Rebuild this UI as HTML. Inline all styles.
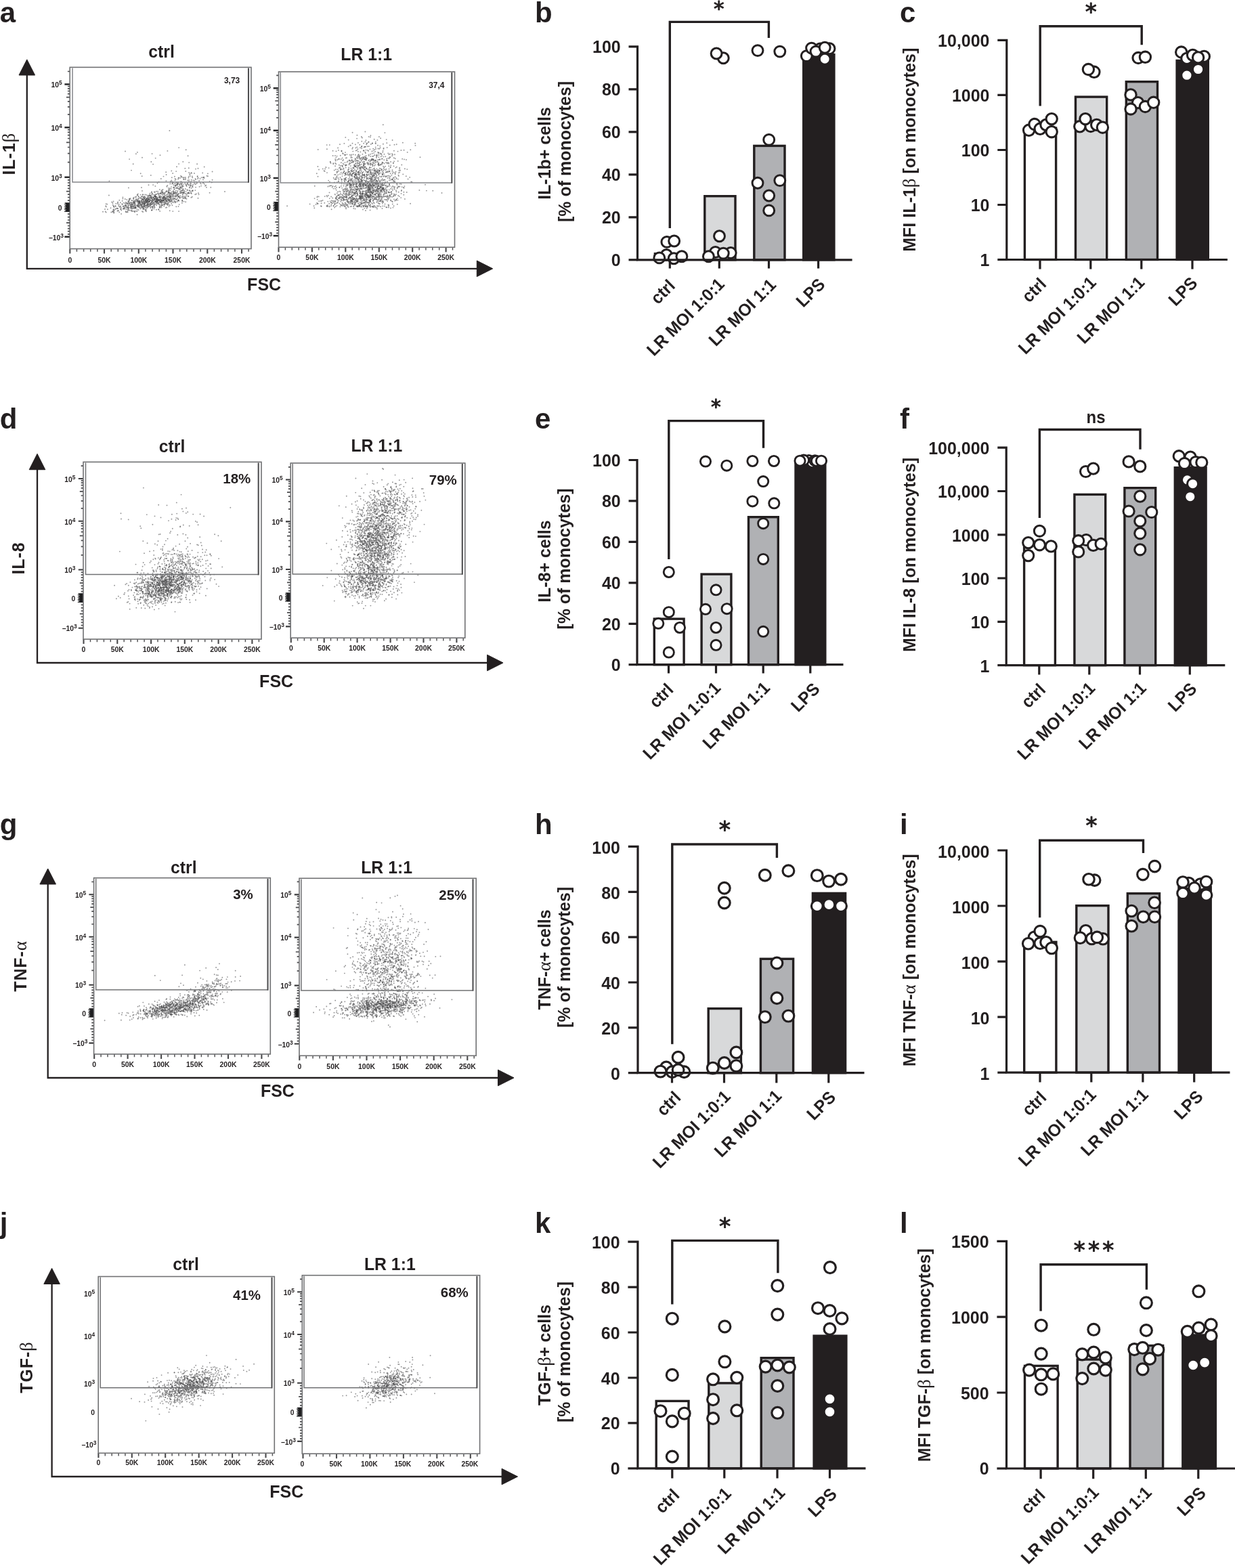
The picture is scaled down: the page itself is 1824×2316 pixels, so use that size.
<!DOCTYPE html>
<html lang="en">
<head>
<meta charset="utf-8">
<title>Figure</title>
<style>
html,body{margin:0;padding:0;background:#fff;}
body{width:1824px;height:2316px;overflow:hidden;}
svg{display:block;}
svg text{font-family:"Liberation Sans",sans-serif;font-weight:bold;fill:#231f20;stroke:none;}
svg text.s{font-family:"DejaVu Sans",sans-serif;font-weight:normal;stroke:#231f20;stroke-width:1px;stroke-linejoin:round;}
svg text.t{font-weight:bold;stroke:none;}
svg text .g{font-family:"Liberation Serif",serif;font-weight:normal;font-size:108%;}
svg text.p{stroke:none;}
</style>
</head>
<body>
<svg xmlns="http://www.w3.org/2000/svg" width="1824" height="2316" viewBox="0 0 1824 2316" stroke="#231f20" fill="#231f20">
<rect x="0" y="0" width="1824" height="2316" fill="#fff" stroke="none"/>
<g stroke-linecap="butt">
<path d="M279.2 273.7h0M192.8 299.3h0M230.1 297.3h0M262.1 283.7h0M173.0 307.7h0M236.9 285.0h0M251.7 293.1h0M173.8 308.1h0M257.7 296.6h0M189.9 277.4h0M250.1 279.4h0M182.5 304.6h0M233.4 285.2h0M269.5 287.9h0M288.3 272.3h0M251.5 291.6h0M289.2 264.9h0M245.2 254.2h0M204.8 301.9h0M225.3 307.7h0M252.2 289.0h0M197.8 297.2h0M247.6 303.1h0M238.6 299.9h0M215.5 298.9h0M218.0 301.6h0M168.3 313.7h0M235.3 294.7h0M211.4 308.0h0M228.0 302.4h0M224.2 298.1h0M217.4 293.2h0M194.0 311.5h0M250.0 287.6h0M258.1 290.4h0M270.2 286.8h0M219.5 298.4h0M223.9 291.1h0M210.6 295.4h0M232.6 292.1h0M284.5 275.1h0M205.2 305.5h0M284.5 282.2h0M266.4 285.6h0M214.9 299.4h0M241.4 287.1h0M220.7 303.2h0M202.5 295.8h0M250.8 278.1h0M267.8 285.1h0M281.7 273.9h0M180.7 296.7h0M246.5 302.0h0M248.2 290.9h0M287.0 256.0h0M192.2 293.3h0M235.2 295.4h0M186.6 304.6h0M270.8 284.8h0M251.4 281.5h0M258.8 290.5h0M215.7 309.7h0M267.7 282.0h0M268.6 291.3h0M202.8 288.0h0M196.9 293.0h0M224.5 296.7h0M232.2 296.9h0M221.7 289.9h0M239.9 302.5h0M279.8 277.4h0M190.8 300.0h0M202.8 297.7h0M242.1 289.9h0M253.1 300.8h0M223.2 301.8h0M209.5 303.9h0M194.8 296.0h0M184.8 302.7h0M211.6 298.5h0M260.4 269.2h0M223.6 284.8h0M252.5 285.5h0M241.8 292.5h0M250.0 285.6h0M254.1 295.1h0M222.8 258.9h0M247.3 273.9h0M224.9 286.6h0M200.6 306.4h0M250.4 193.0h0M222.2 299.7h0M252.8 290.5h0M218.5 305.5h0M229.5 289.6h0M282.5 285.1h0M192.2 293.0h0M236.2 306.5h0M202.8 305.1h0M246.1 297.2h0M241.0 285.2h0M204.8 300.2h0M255.0 293.4h0M284.2 262.3h0M186.4 309.0h0M262.5 286.4h0M300.1 261.7h0M275.6 275.0h0M227.9 283.4h0M270.4 272.3h0M289.9 286.5h0M220.8 303.5h0M194.0 303.1h0M236.4 294.2h0M243.0 298.1h0M233.1 282.7h0M269.5 290.7h0M282.6 277.7h0M199.2 299.5h0M264.8 289.6h0M244.3 294.0h0M248.9 283.7h0M228.2 302.8h0M228.6 298.2h0M204.2 294.1h0M241.7 290.3h0M228.3 293.6h0M231.1 291.9h0M216.7 297.6h0M267.3 270.5h0M240.5 280.0h0M309.6 284.8h0M262.5 287.3h0M230.6 286.8h0M248.4 299.7h0M209.7 260.3h0M264.7 302.1h0M193.4 305.1h0M268.5 261.6h0M198.9 313.1h0M213.5 305.0h0M277.6 230.3h0M182.4 299.6h0M277.0 285.6h0M152.0 312.8h0M230.4 298.0h0M218.8 297.5h0M210.0 302.7h0M166.3 312.4h0M235.6 306.8h0M282.7 286.1h0M249.4 289.4h0M236.4 291.6h0M236.9 298.8h0M227.4 290.3h0M200.1 297.4h0M228.9 288.4h0M217.1 303.5h0M219.1 305.0h0M205.8 298.5h0M204.9 297.3h0M168.2 309.2h0M226.6 292.0h0M201.0 295.5h0M217.9 299.6h0M266.1 276.7h0M241.9 298.1h0M249.7 296.4h0M265.8 278.1h0M207.9 302.1h0M203.6 296.9h0M237.6 296.5h0M219.8 294.3h0M253.3 266.4h0M287.4 266.6h0M274.9 273.0h0M279.4 285.4h0M274.3 253.0h0M274.7 221.3h0M250.0 289.1h0M199.4 311.4h0M225.1 294.2h0M210.3 298.6h0M231.6 294.1h0M174.1 298.5h0M281.9 268.8h0M213.5 301.2h0M219.5 304.5h0M215.7 295.7h0M242.3 295.3h0M194.3 299.4h0M260.3 305.2h0M216.9 295.2h0M230.8 282.7h0M218.4 288.9h0M219.9 297.5h0M227.3 293.1h0M231.3 299.1h0M228.4 289.6h0M258.6 263.9h0M231.4 295.2h0M226.8 296.2h0M251.0 303.4h0M300.0 265.4h0M263.0 296.1h0M273.1 286.1h0M197.4 305.5h0M188.2 312.3h0M212.4 294.9h0M301.7 246.5h0M190.4 299.3h0M264.6 280.0h0M192.9 299.0h0M215.0 306.5h0M225.0 296.4h0M278.4 262.8h0M195.5 312.0h0M215.3 295.5h0M209.7 305.0h0M295.5 263.9h0M189.5 297.5h0M215.6 294.0h0M216.7 295.1h0M227.9 304.3h0M224.2 305.2h0M185.2 303.4h0M223.6 299.1h0M285.4 266.4h0M221.2 288.3h0M306.9 256.4h0M238.1 299.1h0M206.3 299.5h0M216.6 295.8h0M229.7 290.9h0M240.7 295.9h0M289.0 249.6h0M246.4 294.4h0M258.2 293.1h0M236.5 297.1h0M299.2 255.4h0M264.3 262.9h0M231.7 291.0h0M255.2 256.0h0M254.2 271.6h0M257.3 279.1h0M206.5 291.7h0M245.3 282.7h0M254.6 288.5h0M254.9 286.4h0M225.3 302.1h0M190.1 310.8h0M221.3 303.5h0M214.8 296.9h0M257.8 276.9h0M234.6 309.8h0M257.2 285.4h0M236.4 298.6h0M250.7 311.3h0M273.3 248.7h0M222.4 305.8h0M222.4 307.3h0M236.1 299.2h0M160.9 288.5h0M278.4 284.6h0M297.6 262.2h0M173.4 311.6h0M241.1 299.0h0M277.5 269.7h0M207.1 300.4h0M213.5 302.1h0M188.1 299.8h0M204.1 294.2h0M222.4 300.0h0M167.7 304.4h0M267.3 271.2h0M208.9 296.7h0M242.3 296.1h0M212.3 290.8h0M192.4 303.2h0M224.6 227.1h0M194.8 308.8h0M188.3 306.1h0M239.1 297.4h0M223.8 301.6h0M232.5 298.3h0M244.9 293.4h0M282.3 255.1h0M274.0 292.4h0M214.2 294.9h0M237.1 294.8h0M197.0 304.6h0M195.7 301.6h0M239.5 288.1h0M210.7 287.5h0M253.3 252.4h0M255.4 270.7h0M221.3 285.8h0M210.5 307.3h0M196.8 300.4h0M250.1 290.3h0M231.1 303.3h0M200.3 303.9h0M292.5 248.8h0M278.8 260.8h0M231.0 309.7h0" stroke="#38383a" stroke-opacity="0.52" stroke-width="1.9" stroke-linecap="round" fill="none"/>
<path d="M269.1 281.3h0M250.8 298.2h0M201.0 291.1h0M256.4 273.2h0M252.4 289.9h0M204.9 303.4h0M210.0 281.9h0M230.8 287.3h0M244.6 294.4h0M229.2 301.3h0M223.3 239.0h0M256.0 282.6h0M238.8 299.6h0M242.5 300.5h0M264.1 312.1h0M275.0 289.5h0M259.2 284.4h0M207.1 303.2h0M229.2 301.3h0M273.6 265.4h0M221.0 294.5h0M190.2 307.5h0M194.8 302.0h0M245.4 267.3h0M228.1 300.8h0M225.1 305.5h0M229.7 233.6h0M280.2 280.9h0M242.6 291.3h0M194.1 306.0h0M260.1 294.8h0M208.9 290.3h0M245.1 301.1h0M202.4 309.3h0M293.0 285.2h0M205.1 297.5h0M276.5 271.6h0M209.9 305.4h0M304.2 273.7h0M196.7 242.3h0M256.0 281.9h0M190.5 295.6h0M213.1 299.9h0M239.6 295.6h0M240.5 295.9h0M233.0 292.8h0M200.9 227.2h0M243.1 285.1h0M267.8 271.7h0M201.2 290.5h0M234.8 290.8h0M224.0 299.0h0M197.7 307.4h0M230.6 298.6h0M217.6 296.1h0M210.1 295.1h0M242.3 296.5h0M175.0 311.3h0M213.1 304.2h0M206.8 302.3h0M254.9 290.5h0M231.7 299.3h0M256.3 276.8h0M247.6 295.8h0M220.5 301.2h0M167.3 309.7h0M231.1 297.4h0M194.5 311.0h0M207.7 256.2h0M199.6 308.0h0M244.5 297.8h0M234.2 286.7h0M277.2 266.4h0M158.4 301.6h0M295.8 270.2h0M291.6 261.0h0M216.0 303.5h0M259.5 298.1h0M236.2 311.9h0M235.6 286.1h0M263.1 264.5h0M226.6 295.3h0M244.8 296.8h0M183.8 308.7h0M178.7 309.1h0M242.7 301.1h0M220.3 288.5h0M247.6 287.3h0M224.2 310.2h0M276.3 280.5h0M240.4 292.6h0M239.1 284.1h0M247.8 294.4h0M246.3 290.1h0M226.1 300.3h0M195.7 302.3h0M177.8 299.3h0M222.7 301.8h0M194.6 301.7h0M233.3 294.8h0M236.3 301.6h0M218.6 291.3h0M231.9 297.6h0M196.5 307.6h0M249.0 293.6h0M204.3 289.6h0M235.2 296.2h0M263.6 262.4h0M288.3 287.2h0M167.2 311.7h0M277.3 285.0h0M283.0 255.7h0M255.2 290.6h0M244.7 292.1h0M205.0 299.6h0M181.6 304.8h0M280.6 256.7h0M281.6 274.1h0M244.3 300.2h0M199.2 300.1h0M271.8 262.2h0M177.6 306.5h0M165.2 298.5h0M264.1 290.2h0M262.1 292.8h0M234.1 309.2h0M227.6 308.4h0M268.9 274.3h0M237.3 294.9h0M273.2 269.8h0M262.5 272.0h0M182.6 308.0h0M239.1 296.8h0M233.8 296.2h0M193.3 307.4h0M236.3 297.8h0M239.6 291.7h0M237.5 290.8h0M267.1 268.3h0M213.6 299.4h0M249.6 280.9h0M268.0 268.5h0M221.2 296.6h0M213.6 298.2h0M218.5 295.2h0M253.3 297.7h0M239.2 303.3h0M185.9 313.3h0M228.3 293.7h0M269.1 276.1h0M250.2 295.3h0M199.4 305.9h0M252.2 293.6h0M211.6 297.3h0M170.5 309.0h0M211.9 300.2h0M193.2 305.6h0M246.3 275.3h0M216.4 293.4h0M220.7 291.7h0M246.2 297.7h0M200.0 307.1h0M277.7 289.7h0M257.4 279.8h0M197.5 293.7h0M189.8 301.4h0M240.1 295.2h0M199.1 299.6h0M191.5 301.0h0M266.5 289.4h0M253.6 287.3h0M247.0 282.6h0M206.5 300.6h0M262.7 270.8h0M259.8 290.6h0M212.5 293.8h0M211.1 305.4h0M271.7 284.9h0M251.9 267.9h0M218.7 302.5h0M221.8 288.4h0M205.9 302.8h0M233.1 294.6h0M217.4 297.7h0M305.5 259.8h0M229.9 297.8h0M223.9 290.2h0M266.2 284.7h0M193.9 307.6h0M218.1 303.0h0M260.4 272.8h0M213.7 298.2h0M222.4 291.2h0M236.4 306.3h0M244.8 294.0h0M219.5 294.0h0M246.5 275.7h0M259.2 294.1h0M194.4 306.4h0M252.5 294.8h0M228.6 290.0h0M180.8 301.9h0M202.7 303.3h0M229.3 292.2h0M265.3 272.4h0M264.2 290.9h0M213.9 293.0h0M301.8 271.8h0M224.1 283.3h0M214.9 291.6h0M212.5 292.2h0M263.5 304.9h0M232.5 293.4h0M230.6 290.4h0M289.7 271.4h0M263.2 275.5h0M166.7 302.7h0M238.0 295.7h0M217.6 301.3h0M213.8 301.8h0M227.1 299.1h0M311.3 276.7h0M158.9 309.3h0M242.5 295.2h0M199.7 291.1h0M279.2 240.1h0M259.1 274.2h0M269.3 296.5h0M184.6 306.7h0M257.2 297.5h0M212.9 301.0h0M192.0 310.5h0M299.8 270.3h0M249.4 293.8h0M222.1 303.0h0M233.1 286.3h0M271.4 292.6h0M262.7 289.0h0M234.1 300.5h0M256.5 284.8h0M282.4 291.8h0M263.9 295.7h0M255.3 312.1h0M296.9 271.6h0M248.7 299.4h0M263.8 278.5h0M280.3 258.1h0M163.5 307.3h0M261.3 277.2h0M247.5 297.6h0M227.7 301.0h0M221.5 294.2h0M187.3 294.9h0M246.2 281.9h0M209.3 295.6h0M209.4 302.3h0M203.4 302.7h0M244.4 297.1h0M253.8 262.2h0M202.9 224.9h0M203.1 296.8h0M216.1 304.8h0M294.6 275.7h0M204.4 293.2h0M232.6 293.9h0M240.5 293.2h0M193.5 304.9h0M292.5 292.8h0M236.5 292.6h0M213.4 297.7h0M231.3 294.3h0M243.3 302.3h0M230.5 296.3h0M239.8 292.5h0M226.8 295.2h0M216.9 301.7h0M218.2 300.7h0M283.8 290.7h0M209.7 293.1h0M170.5 304.0h0M219.8 293.1h0M234.6 291.6h0M269.0 284.0h0M261.3 287.5h0M257.8 293.4h0M219.8 297.8h0M273.8 279.0h0M219.4 294.2h0M288.4 281.1h0M250.9 294.7h0M237.5 298.4h0M245.3 292.6h0M235.3 302.3h0M155.0 309.0h0M254.0 268.2h0M171.6 308.0h0M230.6 301.4h0M208.1 302.8h0M176.3 295.7h0M248.9 277.9h0M242.1 301.9h0M265.4 278.8h0M156.7 305.4h0M220.8 297.3h0M219.1 294.2h0" stroke="#38383a" stroke-opacity="0.52" stroke-width="1.9" stroke-linecap="round" fill="none"/>
<path d="M251.7 286.4h0M213.3 293.0h0M242.7 293.7h0M204.4 299.6h0M241.7 295.6h0M244.3 292.6h0M230.3 290.5h0M235.8 290.5h0M260.0 278.0h0M279.1 268.0h0M278.8 248.3h0M235.8 279.9h0M228.6 306.2h0M222.1 289.1h0M199.1 312.6h0M168.2 314.5h0M261.0 270.1h0M221.8 296.2h0M262.7 268.9h0M282.7 265.8h0M203.2 303.7h0M260.1 288.5h0M258.2 271.2h0M208.3 291.6h0M209.0 293.7h0M262.4 272.3h0M257.8 284.6h0M211.2 313.0h0M210.1 289.9h0M217.1 297.5h0M231.2 293.4h0M301.4 261.8h0M193.5 302.2h0M214.9 297.7h0M219.3 293.5h0M232.5 297.8h0M199.1 302.5h0M230.4 292.3h0M212.8 305.1h0M216.0 312.3h0M254.7 298.9h0M281.0 260.1h0M249.7 295.3h0M198.7 297.7h0M221.2 294.7h0M232.0 296.2h0M249.0 280.8h0M255.5 269.3h0M210.0 312.3h0M173.8 301.1h0M232.6 296.4h0M248.7 294.7h0M232.9 294.9h0M205.3 305.3h0M197.4 298.1h0M210.3 301.3h0M270.4 262.5h0M200.2 306.7h0M224.8 293.2h0M196.0 305.6h0M189.2 303.4h0M263.5 286.6h0M281.3 270.0h0M223.5 296.0h0M266.4 280.4h0M213.8 290.9h0M276.0 287.5h0M188.0 300.6h0M184.8 294.0h0M206.5 298.2h0M241.2 292.0h0M195.1 296.5h0M198.4 300.2h0M256.1 292.5h0M212.0 306.1h0M243.0 292.2h0M269.4 270.1h0M203.7 286.5h0M236.2 290.5h0M281.4 274.7h0M232.9 298.3h0M204.7 290.8h0M263.0 289.9h0M175.7 301.9h0M246.2 306.4h0M197.3 304.0h0M224.8 294.4h0M235.1 295.7h0M264.1 242.1h0M292.7 262.6h0M186.0 301.1h0M205.4 297.0h0M173.9 299.7h0M269.3 297.2h0M258.5 266.6h0M182.9 304.5h0M251.0 291.5h0M244.6 295.4h0M191.5 293.9h0M234.6 268.8h0M208.1 305.2h0M213.7 299.5h0M273.9 262.1h0M262.8 278.2h0M230.6 295.0h0M183.2 306.8h0M275.5 293.7h0M258.6 271.2h0M190.6 299.5h0M222.4 295.5h0M215.0 300.1h0M223.5 293.0h0M254.1 297.3h0M204.4 299.4h0M226.9 292.3h0M276.6 270.6h0M239.1 280.9h0M246.6 291.6h0M221.2 305.1h0M291.1 242.3h0M270.3 293.0h0M217.0 299.2h0M201.6 312.1h0M268.1 284.6h0M256.1 284.2h0M207.6 308.4h0M161.4 267.5h0M250.3 291.7h0M244.0 284.6h0M200.9 294.7h0M253.3 295.8h0M247.9 293.9h0M181.4 293.5h0M249.6 305.1h0M245.0 306.8h0M266.5 277.1h0M225.2 297.0h0M266.4 262.7h0M332.0 283.0h0M218.2 291.6h0M247.6 300.8h0M309.6 267.9h0M222.3 292.5h0M237.2 285.4h0M260.7 294.5h0M203.7 299.8h0M203.0 295.2h0M222.0 291.7h0M267.4 276.7h0M260.3 285.6h0M212.0 308.2h0M273.3 293.2h0M188.7 310.1h0M280.2 276.5h0M224.0 291.9h0M303.0 274.5h0M213.0 298.8h0M201.1 293.6h0M208.1 296.9h0M260.2 253.1h0M224.7 294.9h0M284.5 276.6h0M253.2 292.5h0M206.2 300.0h0M214.2 296.9h0M212.9 306.0h0M168.5 306.0h0M200.2 301.9h0M280.0 282.0h0M213.0 303.5h0M227.8 294.3h0M222.4 303.2h0M267.9 272.4h0M270.0 280.5h0M215.4 296.2h0M313.6 265.7h0M226.1 273.1h0M181.9 308.8h0M239.3 284.3h0M289.1 276.6h0M232.1 297.4h0M202.5 311.7h0M209.9 299.7h0M259.0 274.2h0M259.0 286.4h0M286.9 268.6h0M256.8 299.1h0M242.6 292.3h0M233.8 299.3h0M210.8 294.4h0M186.6 300.2h0M235.8 291.0h0M238.0 285.5h0M249.9 288.2h0M238.5 306.1h0M250.6 285.8h0M220.8 297.2h0M233.5 295.0h0M265.9 291.9h0M215.9 297.7h0M173.9 308.0h0M279.0 285.6h0M186.5 303.3h0M236.3 291.8h0M212.5 301.7h0M197.8 296.0h0M231.5 300.3h0M223.0 302.0h0M239.4 303.4h0M255.7 288.5h0M261.4 273.8h0M246.5 290.9h0M168.8 311.0h0M265.9 283.0h0M274.2 291.8h0M272.0 284.2h0M241.3 295.9h0M237.8 295.5h0M219.1 295.9h0M216.3 295.5h0M266.4 276.2h0M240.2 297.1h0M198.1 299.1h0M279.3 268.1h0M270.2 285.5h0M248.9 296.8h0M292.0 263.9h0M220.5 301.8h0M180.2 301.2h0M236.1 297.9h0M166.4 300.0h0M200.0 296.6h0M262.9 270.8h0M212.5 296.9h0M257.0 294.1h0M190.7 294.0h0M195.2 304.5h0M244.1 291.5h0M225.0 291.5h0M226.1 298.3h0M205.3 297.0h0M226.8 287.7h0M245.7 296.3h0M281.8 284.9h0M256.5 286.3h0M270.4 278.7h0M297.1 274.6h0M187.6 306.4h0M260.8 289.9h0M267.1 283.1h0M262.4 281.9h0M283.9 281.7h0M202.2 297.8h0M217.8 299.7h0M248.7 282.8h0M252.2 290.3h0M195.2 305.1h0M224.7 310.1h0M209.2 297.5h0M197.7 299.3h0M259.9 281.4h0M167.5 297.5h0M254.4 303.3h0M214.4 303.9h0M271.5 264.5h0M261.3 277.7h0M285.1 272.8h0M301.6 263.1h0M274.0 262.1h0M233.6 298.0h0M259.6 264.9h0M247.3 289.8h0M205.9 307.0h0M207.6 287.6h0M214.4 303.7h0M243.8 285.0h0M225.8 295.0h0M166.4 312.9h0M218.0 296.7h0M175.3 304.0h0M168.1 311.8h0M208.8 303.3h0M274.0 263.9h0M238.5 306.5h0M217.4 293.4h0M279.1 268.3h0M214.9 300.6h0M279.2 255.0h0M241.4 290.3h0M220.2 297.7h0M177.9 308.7h0M291.2 270.3h0M253.0 276.1h0M205.9 305.4h0M228.9 290.2h0M218.7 290.9h0M248.7 284.8h0M243.0 290.2h0M199.2 299.7h0M251.3 298.1h0M202.9 288.1h0M258.4 285.7h0M179.5 307.1h0M225.3 306.4h0M256.1 294.7h0" stroke="#38383a" stroke-opacity="0.52" stroke-width="1.9" stroke-linecap="round" fill="none"/>
<path d="M215.7 307.1h0M212.1 295.3h0M241.5 260.6h0M261.0 246.2h0M265.8 291.6h0M179.1 315.9h0M204.6 310.0h0M193.1 305.0h0M219.1 289.3h0M232.2 293.7h0M288.5 264.1h0M221.9 300.5h0M195.3 304.2h0M250.6 291.2h0M156.7 313.6h0M242.2 304.5h0M254.0 283.3h0M256.4 276.8h0M209.0 277.0h0M225.4 300.1h0M211.9 304.2h0M190.0 303.8h0M262.9 295.5h0M265.5 292.8h0M213.4 290.3h0M283.9 260.4h0M273.0 289.9h0M198.4 305.7h0M211.5 309.2h0M214.2 309.5h0M258.6 289.0h0M240.2 293.2h0M189.6 309.3h0M198.8 303.6h0M293.6 287.2h0M236.7 304.0h0M186.5 306.4h0M228.5 296.2h0M245.7 296.4h0M280.7 272.0h0M218.5 294.2h0M217.8 296.3h0M217.7 297.8h0M274.6 286.2h0M219.5 299.9h0M230.4 297.5h0M270.6 290.0h0M185.5 303.9h0M229.4 295.0h0M188.6 313.4h0M210.0 232.7h0M239.4 282.1h0M198.0 302.0h0M185.9 304.3h0M200.8 307.1h0M208.1 306.9h0M193.5 305.5h0M156.3 304.2h0M205.2 304.1h0M247.6 301.8h0M184.4 300.2h0M226.0 300.0h0M184.7 304.1h0M210.5 298.2h0M271.2 280.7h0M264.0 286.3h0M246.2 287.7h0M300.5 269.7h0M224.1 288.0h0M213.0 300.4h0M261.8 288.5h0M218.9 294.5h0M197.2 298.1h0M312.8 269.5h0M240.8 292.6h0M215.4 303.7h0M212.4 302.2h0M195.2 299.6h0M209.8 300.5h0M181.4 291.4h0M232.2 295.3h0M204.0 304.4h0M251.3 271.5h0M207.9 302.4h0M189.0 305.4h0M197.4 299.2h0M268.9 299.7h0M269.2 295.7h0M263.7 290.9h0M268.2 260.7h0M236.5 289.0h0M264.2 218.1h0M224.3 297.5h0M259.6 274.9h0M242.1 285.5h0M218.5 303.1h0M256.9 283.0h0M229.3 294.6h0M230.4 293.4h0M233.9 295.2h0M190.6 306.5h0M259.3 297.9h0M244.4 294.3h0M239.6 299.3h0M235.6 304.7h0M229.4 274.9h0M265.7 274.2h0M270.3 238.9h0M248.3 285.2h0M200.2 305.4h0M252.1 287.9h0M194.0 251.6h0M189.4 297.5h0M245.5 282.9h0M264.2 296.7h0M289.9 268.7h0M251.8 269.2h0M187.1 313.4h0M238.1 282.5h0M261.9 297.7h0M251.2 284.7h0M232.5 270.5h0M277.4 280.9h0M189.1 307.3h0M250.0 295.9h0M249.8 284.0h0M217.8 302.8h0M259.3 283.5h0M281.9 282.8h0M284.8 281.3h0M268.8 274.8h0M193.5 300.4h0M270.2 283.7h0M185.6 312.1h0M278.9 284.5h0M252.6 278.8h0M246.8 292.6h0M206.5 298.9h0M221.5 296.6h0M242.9 287.4h0M221.7 289.0h0M204.1 301.6h0M228.7 283.9h0M174.2 311.1h0M227.1 303.2h0M282.4 268.2h0M219.5 273.3h0M211.6 300.3h0M226.7 291.4h0M211.2 290.9h0M229.5 297.4h0M224.0 310.7h0M229.5 290.0h0M215.4 309.9h0M218.2 303.8h0M204.5 298.1h0M279.1 265.9h0M245.6 258.0h0M267.0 260.0h0M251.9 296.2h0M210.0 305.7h0M206.5 297.3h0M185.0 223.5h0M232.7 300.8h0M259.2 299.2h0M247.4 222.9h0M234.8 294.4h0M164.3 313.5h0M216.7 298.5h0M195.6 307.4h0M233.8 301.4h0M272.2 281.9h0M271.6 297.6h0M250.6 290.7h0M261.5 272.2h0M234.5 288.5h0M274.2 298.2h0M240.1 296.8h0M211.3 287.5h0M222.7 300.2h0M197.3 311.9h0M228.6 295.4h0M238.7 302.0h0M241.9 291.8h0M212.0 292.6h0M251.4 297.6h0M242.3 302.2h0M191.8 294.6h0M195.3 302.1h0M233.5 296.0h0M238.9 290.6h0M257.9 260.7h0M313.6 253.5h0M278.2 272.4h0M244.3 288.8h0M224.8 300.7h0M270.9 274.9h0M171.3 300.8h0M214.9 296.3h0M216.4 287.9h0M274.6 283.1h0M193.0 307.3h0M240.1 284.6h0M226.9 302.9h0M291.7 260.1h0M236.8 298.2h0M272.1 283.0h0M278.4 290.0h0M256.2 286.5h0M207.0 293.2h0M246.0 300.1h0M205.5 296.2h0M277.4 272.5h0M210.3 294.2h0M238.2 297.5h0M237.0 286.2h0M190.9 296.8h0M250.8 296.6h0M215.6 295.2h0M234.2 300.0h0M237.8 264.0h0M215.0 294.7h0M268.5 277.6h0M176.5 305.2h0M223.4 293.0h0M177.8 305.1h0M216.9 293.1h0M275.1 273.7h0M176.2 313.5h0M269.2 281.1h0M272.2 291.6h0M227.5 306.0h0M248.7 290.7h0M258.5 274.4h0M240.5 294.9h0M188.4 301.2h0M215.8 298.7h0M238.2 296.3h0M271.2 265.3h0M273.4 271.5h0M155.7 312.5h0M229.0 287.8h0M217.8 305.9h0M304.9 276.7h0M156.7 301.3h0M218.9 305.3h0M287.0 270.8h0M178.2 304.4h0M239.5 286.5h0M307.0 260.3h0M249.5 302.5h0M240.4 283.5h0M226.1 242.6h0M284.2 274.7h0M214.3 287.5h0M179.2 310.5h0M202.2 303.5h0M225.1 285.5h0M260.7 285.0h0M242.5 293.8h0M212.7 308.2h0M238.3 304.6h0M228.6 293.7h0M253.1 285.2h0M215.0 311.2h0M191.1 235.1h0M235.7 291.1h0M219.1 302.1h0M243.3 299.2h0M235.6 295.8h0M197.5 291.8h0M294.1 267.0h0M170.8 304.9h0M200.3 307.0h0M225.9 305.1h0M299.9 262.6h0M270.5 275.0h0M217.2 307.4h0M254.8 270.2h0M256.0 289.7h0M184.6 304.6h0M192.2 302.5h0M244.8 299.8h0M183.3 307.6h0M229.0 298.5h0M207.8 299.6h0M205.6 297.4h0M228.9 288.4h0M203.9 305.4h0M188.7 308.0h0M243.2 287.5h0M208.5 298.9h0M210.5 306.3h0M168.1 304.8h0M268.1 278.1h0M220.5 298.1h0M282.3 271.6h0M198.0 307.6h0M196.8 299.3h0M202.6 317.0h0M238.0 293.7h0M236.5 229.3h0M186.0 298.7h0M251.2 291.0h0M265.3 272.0h0" stroke="#38383a" stroke-opacity="0.52" stroke-width="1.9" stroke-linecap="round" fill="none"/>
<path d="M99.9 105.5H103.2M99.9 169.1H103.2M99.9 239.6H103.2M99.9 157.9H103.2M99.9 226.7H103.2M99.9 149.9H103.2M99.9 217.5H103.2M98 143.7H103.2M98 210.4H103.2M99.9 138.7H103.2M99.9 204.5H103.2M99.9 134.5H103.2M99.9 199.6H103.2M99.9 130.8H103.2M99.9 195.3H103.2M99.9 127.5H103.2M99.9 191.6H103.2M99.9 296.1H103.2M99.9 316.1H103.2M99.9 291.5H103.2M99.9 320.6H103.2M99.9 287.1H103.2M99.9 325H103.2M98 282.7H103.2M98 329.2H103.2M99.9 278.4H103.2M99.9 333.5H103.2M99.9 274.2H103.2M99.9 337.6H103.2M99.9 270H103.2M99.9 341.7H103.2M99.9 265.9H103.2M99.9 345.8H103.2" stroke="#4a4a4c" stroke-width="1.7" fill="none"/>
<path d="M95.4 124.6H103.2M95.4 188.2H103.2M95.4 261.8H103.2M95.4 349.8H103.2" stroke="#2a2a2c" stroke-width="2.5" fill="none"/>
<path d="M95.6 299.9H103.2M97 300.8H103.2M95 301.7H103.2M97.6 302.6H103.2M95.6 303.5H103.2M97 304.4H103.2M95 305.3H103.2M97.6 306.2H103.2M95.6 307.1H103.2M97 308H103.2M95 308.9H103.2M97.6 309.8H103.2M95.6 310.7H103.2M97 311.6H103.2M95 312.5H103.2" stroke="#1f1f21" stroke-width="1.1" fill="none"/>
<path d="M113.4 367.5V371.7M123.6 367.5V371.7M133.7 367.5V371.7M143.9 367.5V371.7M164.2 367.5V371.7M174.3 367.5V371.7M184.5 367.5V371.7M194.6 367.5V371.7M214.9 367.5V371.7M225.1 367.5V371.7M235.2 367.5V371.7M245.4 367.5V371.7M265.7 367.5V371.7M275.8 367.5V371.7M286 367.5V371.7M296.1 367.5V371.7M316.4 367.5V371.7M326.6 367.5V371.7M336.7 367.5V371.7M346.9 367.5V371.7M367.1 367.5V371.7" stroke="#555557" stroke-width="1.5" fill="none"/>
<path d="M103.3 367.5V374.5M154 367.5V374.5M204.8 367.5V374.5M255.5 367.5V374.5M306.3 367.5V374.5M357 367.5V374.5" stroke="#4a4a4c" stroke-width="2.1" fill="none"/>
<path d="M107 100.5V269H367" stroke="#85868a" stroke-width="1.5" fill="none"/>
<path d="M367 100.5V269.8" stroke="#505052" stroke-width="2.1" fill="none"/>
<rect x="103.2" y="99.4" width="267.8" height="268.1" stroke="#707173" stroke-width="1.6" fill="none"/>
<text x="91.7" y="129.3" font-size="10.3" text-anchor="end" class="t">10<tspan dy="-4" font-size="8.4">5</tspan></text>
<text x="91.7" y="192.9" font-size="10.3" text-anchor="end" class="t">10<tspan dy="-4" font-size="8.4">4</tspan></text>
<text x="91.7" y="266.5" font-size="10.3" text-anchor="end" class="t">10<tspan dy="-4" font-size="8.4">3</tspan></text>
<text x="91.5" y="310.9" font-size="10.3" text-anchor="end" class="t">0</text>
<text x="93.9" y="354.5" font-size="10.3" text-anchor="end" class="t">−10<tspan dy="-4" font-size="8.4">3</tspan></text>
<text x="103.3" y="388.2" font-size="10.4" text-anchor="middle" class="t">0</text>
<text x="154" y="388.2" font-size="10.4" text-anchor="middle" class="t">50K</text>
<text x="204.8" y="388.2" font-size="10.4" text-anchor="middle" class="t">100K</text>
<text x="255.5" y="388.2" font-size="10.4" text-anchor="middle" class="t">150K</text>
<text x="306.3" y="388.2" font-size="10.4" text-anchor="middle" class="t">200K</text>
<text x="357" y="388.2" font-size="10.4" text-anchor="middle" class="t">250K</text>
<text transform="translate(238.6 84.8) scale(1 1.01)" font-size="24.8" text-anchor="middle">ctrl</text>
<text transform="translate(354.3 123) scale(1 1.03)" font-size="12" text-anchor="end" class="p">3,73</text>
<path d="M549.6 261.0h0M524.4 257.1h0M553.5 270.8h0M548.8 254.8h0M559.7 256.8h0M521.4 268.9h0M523.7 284.2h0M487.0 268.6h0M494.0 306.5h0M547.3 253.6h0M556.4 254.7h0M574.2 303.0h0M547.5 257.5h0M540.4 267.5h0M544.9 277.8h0M582.0 294.4h0M581.6 304.2h0M546.0 247.1h0M523.8 293.8h0M532.7 272.7h0M568.2 294.7h0M538.2 246.4h0M541.3 261.6h0M547.4 281.2h0M489.0 299.3h0M489.4 301.9h0M553.9 277.0h0M545.1 292.3h0M602.6 264.5h0M522.2 248.5h0M552.0 305.9h0M530.6 262.0h0M579.1 297.4h0M510.8 265.4h0M514.6 264.2h0M542.1 264.2h0M550.3 286.0h0M568.2 273.4h0M554.5 287.6h0M548.6 273.9h0M582.5 213.8h0M516.8 228.8h0M533.1 295.3h0M560.6 252.8h0M566.7 277.8h0M576.0 227.4h0M546.0 247.3h0M590.4 275.5h0M569.6 254.5h0M518.0 273.0h0M556.4 289.5h0M551.4 255.3h0M532.4 270.5h0M520.1 259.9h0M507.5 250.0h0M546.1 251.5h0M494.6 301.8h0M546.4 291.2h0M530.7 302.6h0M497.6 303.6h0M557.9 281.5h0M533.8 268.6h0M544.8 291.9h0M557.7 278.4h0M534.5 285.8h0M567.3 290.5h0M544.5 241.2h0M570.8 236.8h0M559.0 288.6h0M605.2 261.9h0M581.3 270.0h0M499.6 292.6h0M547.9 236.1h0M537.1 211.7h0M549.9 211.5h0M583.9 257.0h0M547.1 295.3h0M557.3 254.0h0M550.9 257.8h0M504.5 266.4h0M551.5 222.6h0M560.9 285.1h0M548.1 279.1h0M575.1 260.1h0M518.3 264.8h0M550.7 305.7h0M531.9 255.0h0M591.2 251.7h0M538.7 242.8h0M569.3 231.3h0M520.9 256.3h0M513.0 278.3h0M544.0 281.2h0M552.6 279.4h0M553.7 251.0h0M519.6 259.6h0M546.3 297.9h0M559.4 288.4h0M518.5 293.3h0M565.3 296.0h0M549.5 266.1h0M524.8 294.3h0M583.5 261.0h0M560.3 291.8h0M513.3 273.8h0M559.5 257.2h0M540.0 267.8h0M523.2 280.3h0M510.1 288.6h0M498.8 250.4h0M553.8 294.4h0M537.5 304.0h0M528.6 237.3h0M548.3 276.2h0M503.1 249.9h0M532.0 254.5h0M523.8 260.9h0M509.4 290.4h0M558.2 280.6h0M517.2 264.7h0M584.6 253.8h0M652.5 285.0h0M497.6 290.6h0M523.3 243.6h0M524.3 296.4h0M557.9 270.2h0M496.8 261.8h0M537.4 222.8h0M559.1 283.7h0M544.5 279.9h0M531.2 290.1h0M557.4 251.1h0M553.3 270.3h0M568.6 283.4h0M527.8 304.6h0M553.7 237.5h0M606.3 221.2h0M551.5 299.3h0M558.7 279.9h0M483.2 304.4h0M525.9 282.2h0M513.6 238.1h0M540.5 221.6h0M514.3 305.6h0M543.4 268.9h0M521.9 298.6h0M529.5 254.0h0M588.4 275.5h0M568.9 268.8h0M522.8 252.1h0M547.6 284.1h0M545.3 236.3h0M474.9 296.8h0M569.4 273.9h0M538.2 250.0h0M549.5 235.7h0M536.9 244.8h0M564.6 234.4h0M551.2 277.9h0M524.5 263.8h0M515.7 291.9h0M549.3 305.2h0M551.2 239.8h0M561.2 235.2h0M551.5 237.5h0M528.7 279.2h0M479.6 252.9h0M527.6 263.5h0M573.4 233.7h0M536.3 232.0h0M532.4 282.6h0M464.3 307.2h0M567.3 247.3h0M548.5 278.8h0M548.5 289.1h0M564.1 230.1h0M559.1 289.8h0M544.1 274.8h0M597.9 249.2h0M526.2 296.0h0M531.4 278.0h0M518.2 295.5h0M538.7 296.3h0M523.5 286.2h0M560.8 277.9h0M543.2 289.7h0M531.5 292.9h0M576.7 246.6h0M557.0 267.1h0M569.0 245.8h0M517.7 237.7h0M492.3 242.3h0M532.6 265.5h0M566.6 218.7h0M515.3 286.2h0M579.6 207.0h0M559.2 251.1h0M541.4 281.8h0M575.8 214.5h0M545.7 249.6h0M530.3 301.1h0M567.6 280.2h0M561.5 218.3h0M561.3 276.0h0M539.1 295.7h0M551.5 295.2h0M518.1 298.3h0M540.5 207.3h0M519.2 297.5h0M531.6 286.1h0M555.8 229.9h0M510.7 258.0h0M542.9 299.3h0M543.8 253.3h0M515.1 249.7h0M512.1 290.1h0M542.7 254.5h0M468.7 294.6h0M577.4 296.5h0M559.6 281.6h0M524.8 278.5h0M517.8 267.0h0M564.7 258.3h0M552.7 280.7h0M535.4 246.2h0M539.5 287.3h0M544.7 243.1h0M521.3 270.5h0M539.0 300.7h0M535.2 266.9h0M574.8 271.9h0M537.7 274.1h0M530.5 289.7h0M597.0 235.4h0M528.9 263.1h0M542.4 254.7h0M551.0 297.1h0M518.8 240.0h0M505.1 250.2h0M527.5 279.9h0M544.5 209.4h0M510.1 244.5h0M516.6 291.1h0M545.3 277.0h0M528.5 247.8h0M550.4 277.1h0M520.5 301.7h0M537.9 241.4h0M520.5 276.7h0M468.1 299.7h0M540.7 274.5h0M545.2 279.9h0M506.8 292.7h0M515.0 281.3h0M496.7 280.6h0M536.5 272.6h0M555.2 271.7h0M537.3 282.4h0M560.1 278.7h0M583.6 269.1h0M512.6 239.5h0M505.5 299.7h0M510.4 265.0h0M562.2 305.3h0M613.2 211.8h0M514.6 300.6h0M502.8 250.6h0M513.6 286.6h0M493.1 296.8h0M513.9 254.3h0M512.4 228.1h0M516.4 275.7h0M539.4 194.5h0M575.5 232.1h0M528.0 287.0h0M566.4 231.6h0M559.2 252.9h0M519.7 236.6h0M526.9 233.1h0M539.7 290.1h0M536.6 222.6h0M527.2 305.2h0M473.6 296.9h0M531.0 263.5h0M568.4 270.6h0M537.3 238.5h0M585.7 213.3h0M509.2 228.4h0M536.3 305.5h0M556.5 306.5h0M514.5 297.6h0M567.8 283.4h0M482.9 220.2h0M574.9 284.3h0M565.5 273.9h0M519.0 278.5h0M532.4 224.4h0M541.2 213.5h0M529.5 230.5h0M548.8 273.6h0M522.7 248.5h0M549.0 267.3h0M518.4 248.5h0M513.3 286.7h0M499.2 298.3h0M530.7 243.3h0M535.3 239.8h0M556.9 269.1h0M561.1 252.0h0M532.0 218.3h0M582.3 287.8h0M535.5 284.9h0M514.8 305.8h0M555.0 281.0h0M560.5 287.6h0M551.2 230.8h0M519.5 301.1h0M509.8 264.3h0M486.8 214.1h0M468.4 291.3h0M568.5 269.7h0M515.1 299.1h0M537.0 273.2h0M579.5 251.2h0M499.9 221.9h0M583.5 256.9h0M534.3 289.4h0M551.9 235.5h0M532.0 239.4h0M532.4 293.5h0M486.8 293.1h0M558.1 236.3h0M530.5 232.2h0M531.6 233.6h0M546.8 305.9h0M518.7 273.3h0M539.1 217.0h0M519.9 282.9h0M566.5 280.9h0M535.0 255.0h0M547.1 242.3h0M567.2 290.0h0M569.3 279.7h0M556.4 269.7h0M526.3 262.4h0M537.9 303.3h0M570.1 295.1h0M538.4 299.1h0M558.0 255.6h0M557.7 276.2h0M541.3 288.0h0M503.9 264.5h0M517.5 280.7h0M562.2 283.0h0M499.9 267.5h0M527.2 275.7h0M522.3 254.9h0M524.9 228.7h0M544.1 289.3h0M544.6 281.9h0M539.9 272.9h0M531.7 248.2h0M547.3 284.4h0M495.2 240.9h0M554.5 306.4h0M499.0 288.2h0M586.7 278.2h0M529.8 245.2h0M515.9 270.0h0M506.8 281.6h0M524.9 245.9h0M565.1 297.7h0M516.5 271.9h0M516.0 266.2h0M517.0 301.2h0M544.2 283.5h0M555.0 253.5h0M578.2 283.0h0M531.3 289.6h0M511.2 266.0h0M523.9 302.7h0M524.5 234.1h0M528.7 264.6h0M509.3 278.9h0M554.0 253.9h0M554.4 256.8h0M562.2 287.9h0M546.1 271.1h0M531.5 260.2h0M547.2 251.1h0M590.2 247.7h0M541.6 277.8h0M559.4 242.0h0M537.4 244.0h0M567.6 282.4h0M550.7 289.8h0M540.0 232.1h0M556.1 252.7h0M561.5 282.9h0M528.6 278.0h0M563.8 250.2h0M592.6 271.9h0M525.7 293.9h0M504.1 291.0h0M540.4 232.8h0M499.1 283.3h0M524.6 308.4h0M570.4 306.3h0M503.5 295.0h0M508.3 265.9h0M541.3 266.2h0M549.3 269.9h0M546.9 289.9h0M547.9 294.5h0M498.2 254.0h0M532.4 286.5h0M515.2 259.0h0M511.2 285.7h0M522.3 295.1h0M562.5 267.1h0M514.1 273.3h0M590.2 254.6h0M601.7 224.9h0M484.2 305.0h0M551.3 281.8h0M521.5 272.0h0M577.0 307.4h0M549.4 223.5h0M546.5 278.5h0M527.2 222.1h0M543.8 275.6h0M535.9 248.3h0M518.8 299.7h0M529.7 268.9h0M531.0 304.0h0M575.5 290.3h0M531.8 280.1h0M530.0 267.9h0M533.3 296.9h0M549.9 289.7h0M519.2 272.2h0M520.1 260.8h0M537.6 304.6h0M558.1 282.7h0M593.7 276.1h0M572.1 296.9h0M549.5 286.5h0M565.2 256.4h0M514.4 281.2h0M558.4 274.0h0M518.8 283.8h0M586.9 293.1h0M533.0 300.3h0M557.2 285.5h0M530.6 270.1h0M565.6 222.6h0M485.2 266.6h0M529.6 265.8h0M560.0 272.6h0M578.8 265.1h0M520.8 291.6h0M496.4 262.8h0M509.5 256.5h0M544.0 290.8h0M516.8 300.8h0M537.0 248.5h0M497.5 255.2h0M539.9 304.6h0M505.7 244.9h0M549.3 275.0h0M491.6 222.8h0M533.7 277.5h0M531.6 243.1h0M543.0 216.3h0M518.8 304.7h0M503.2 248.9h0M514.6 268.8h0M544.3 273.7h0M544.3 264.4h0M576.7 260.6h0M597.9 293.9h0M552.9 256.8h0M520.0 258.1h0M555.3 236.8h0M550.4 260.0h0M548.7 270.5h0M540.4 297.5h0M534.8 257.0h0M520.0 295.7h0M491.7 230.0h0M551.4 274.4h0M520.4 263.8h0M532.3 247.1h0M565.5 240.2h0M534.9 203.5h0M482.5 304.7h0M554.4 287.9h0M515.1 253.9h0M539.2 266.7h0M469.7 220.9h0M514.7 216.4h0M516.2 237.5h0M564.8 271.4h0M554.2 286.8h0M525.4 218.5h0M543.4 270.4h0M511.8 283.4h0M536.0 287.8h0M549.2 242.8h0M521.3 252.6h0M492.8 297.0h0M527.9 294.3h0M524.8 299.3h0M508.8 305.0h0M577.4 269.8h0M553.5 250.6h0M544.6 241.2h0M565.4 279.4h0M583.4 268.5h0M554.7 264.3h0M517.4 270.2h0M533.3 300.3h0M500.5 235.2h0M468.8 290.1h0M539.4 224.8h0M492.5 278.6h0M521.3 223.6h0M528.6 254.8h0" stroke="#38383a" stroke-opacity="0.52" stroke-width="1.9" stroke-linecap="round" fill="none"/>
<path d="M581.0 240.6h0M533.9 263.7h0M532.8 271.2h0M549.4 268.0h0M529.6 253.8h0M539.7 246.6h0M481.5 247.2h0M534.4 286.6h0M536.9 242.3h0M548.1 283.6h0M585.3 294.5h0M528.3 245.3h0M563.2 289.8h0M513.4 268.4h0M511.4 262.4h0M539.7 235.3h0M525.7 283.8h0M533.6 305.5h0M553.0 293.7h0M527.7 261.4h0M518.9 280.6h0M559.1 239.8h0M546.8 303.7h0M564.5 290.3h0M495.2 296.9h0M569.7 277.9h0M529.5 265.2h0M552.7 205.8h0M533.1 246.6h0M577.1 239.0h0M556.0 266.5h0M557.0 252.3h0M512.8 296.6h0M522.0 273.1h0M510.6 291.6h0M529.2 265.0h0M581.0 289.9h0M562.9 275.8h0M518.5 251.4h0M558.0 272.0h0M535.9 257.9h0M551.4 260.0h0M521.2 238.8h0M509.6 291.3h0M542.7 287.9h0M493.8 251.4h0M550.5 279.3h0M566.6 278.1h0M506.6 302.1h0M535.7 258.7h0M550.1 304.6h0M566.7 287.2h0M542.4 268.0h0M533.8 289.4h0M564.7 264.2h0M517.0 257.2h0M572.6 253.1h0M494.1 257.9h0M546.5 289.4h0M561.0 290.5h0M564.0 277.9h0M583.4 255.3h0M595.9 276.9h0M546.7 282.1h0M573.0 254.3h0M496.0 250.2h0M569.6 289.9h0M584.9 286.9h0M553.2 255.8h0M505.5 304.0h0M559.7 300.9h0M537.9 238.9h0M536.6 300.1h0M561.9 296.0h0M542.7 280.0h0M486.5 284.4h0M570.3 249.6h0M548.5 299.6h0M532.7 273.3h0M537.1 294.8h0M554.7 291.1h0M555.0 212.1h0M543.1 271.2h0M533.1 260.3h0M539.9 226.3h0M544.1 222.9h0M529.6 228.0h0M512.6 302.5h0M538.5 231.2h0M525.1 244.6h0M548.1 283.5h0M487.9 238.9h0M532.6 265.5h0M533.9 246.7h0M509.3 268.6h0M546.6 288.0h0M510.9 306.6h0M533.7 292.1h0M530.9 275.2h0M531.1 304.0h0M551.0 296.0h0M538.3 262.1h0M560.6 248.6h0M503.3 297.5h0M569.9 260.6h0M478.6 252.3h0M544.6 298.7h0M529.5 255.5h0M580.4 306.6h0M542.4 257.9h0M501.0 248.2h0M569.8 251.2h0M524.3 285.3h0M549.6 273.2h0M559.3 292.9h0M556.4 281.8h0M537.7 266.4h0M520.2 239.5h0M502.2 270.6h0M512.5 279.7h0M573.4 302.6h0M564.6 279.1h0M560.3 219.7h0M526.3 297.8h0M545.0 252.1h0M493.8 269.5h0M541.8 257.2h0M537.1 304.2h0M520.1 267.3h0M545.1 270.2h0M492.7 262.8h0M564.9 257.8h0M509.5 229.5h0M508.1 286.4h0M550.1 281.7h0M526.4 262.8h0M504.4 223.1h0M572.8 275.2h0M581.9 222.7h0M578.4 258.7h0M564.1 277.1h0M534.4 300.7h0M531.4 293.6h0M571.3 254.0h0M527.3 267.3h0M532.3 272.4h0M563.3 294.2h0M551.2 267.9h0M607.2 268.5h0M567.1 290.3h0M533.5 299.6h0M552.2 304.3h0M562.5 255.4h0M559.0 286.3h0M526.8 296.9h0M592.6 285.9h0M530.0 238.1h0M556.4 291.1h0M539.0 246.7h0M538.5 216.6h0M570.0 284.5h0M557.4 272.4h0M543.3 243.0h0M550.8 240.7h0M489.2 304.0h0M519.0 265.6h0M551.7 281.8h0M546.6 310.4h0M512.6 288.7h0M575.3 272.0h0M474.6 300.2h0M563.0 286.6h0M509.5 240.1h0M561.4 284.9h0M517.3 291.6h0M507.5 282.9h0M582.3 277.8h0M523.8 300.5h0M463.6 304.2h0M558.3 287.3h0M515.1 293.9h0M479.3 299.7h0M533.3 236.6h0M522.9 293.5h0M511.0 300.7h0M515.8 271.2h0M564.5 239.6h0M548.5 262.0h0M521.0 284.2h0M541.1 295.2h0M588.9 259.9h0M558.0 214.7h0M533.4 287.9h0M571.9 276.2h0M537.4 259.3h0M555.0 280.6h0M535.3 303.2h0M574.4 228.2h0M514.8 266.9h0M519.6 274.0h0M516.4 259.9h0M546.9 298.1h0M523.4 281.6h0M557.5 275.8h0M563.7 252.0h0M496.5 223.4h0M518.3 232.8h0M511.7 287.2h0M539.8 246.2h0M523.9 299.1h0M527.1 271.4h0M573.8 283.6h0M559.2 275.0h0M550.0 211.8h0M502.7 283.1h0M509.5 299.8h0M540.0 284.5h0M490.7 276.5h0M563.1 291.5h0M546.2 290.2h0M541.1 249.0h0M502.2 257.2h0M513.2 258.2h0M519.6 289.7h0M486.2 300.8h0M533.9 202.0h0M497.9 269.3h0M538.7 288.9h0M511.1 308.2h0M531.0 281.3h0M528.5 296.9h0M509.9 299.5h0M508.9 268.4h0M531.5 292.8h0M559.1 244.5h0M535.5 285.7h0M559.2 295.0h0M574.7 262.5h0M545.4 272.2h0M502.1 292.1h0M504.8 296.0h0M550.3 245.6h0M559.3 278.8h0M528.0 230.6h0M541.7 263.3h0M543.7 249.9h0M566.2 251.7h0M579.4 269.5h0M547.2 297.7h0M551.5 269.9h0M507.5 274.5h0M495.0 229.9h0M566.7 248.9h0M531.5 244.2h0M544.4 283.5h0M537.3 304.5h0M520.3 219.8h0M543.8 254.0h0M516.3 262.5h0M564.9 300.6h0M508.3 283.3h0M528.0 249.7h0M593.0 281.0h0M582.0 262.9h0M503.0 285.6h0M543.3 241.0h0M546.5 295.3h0M496.3 232.6h0M523.6 261.7h0M526.5 279.2h0M530.9 271.2h0M522.8 288.4h0M539.0 287.4h0M542.3 268.3h0M573.3 226.4h0M539.9 277.5h0M540.4 248.1h0M571.9 268.1h0M540.2 236.3h0M558.7 286.6h0M534.8 275.6h0M494.1 301.6h0M506.7 300.8h0M547.4 267.5h0M552.7 252.5h0M552.0 287.6h0M589.8 290.1h0M584.9 295.7h0M546.3 274.8h0M543.4 250.3h0M524.4 287.0h0M544.1 290.1h0M555.3 269.5h0M537.6 217.5h0M517.8 277.6h0M526.9 272.3h0M526.8 276.3h0M537.3 234.7h0M503.8 254.8h0M585.9 246.6h0M577.1 278.8h0M558.8 291.2h0M495.1 278.6h0M508.1 252.8h0M547.2 266.2h0M535.6 262.5h0M523.7 297.5h0M520.5 211.7h0M574.7 289.1h0M538.4 307.6h0M539.6 273.7h0M546.9 202.4h0M494.4 298.2h0M568.4 265.9h0M513.2 305.1h0M542.8 283.3h0M550.5 271.6h0M516.9 273.1h0M557.2 279.3h0M482.5 288.9h0M517.9 305.1h0M495.8 305.0h0M544.8 230.0h0M547.9 213.0h0M545.0 216.1h0M549.4 282.4h0M567.5 227.8h0M520.5 288.4h0M586.3 270.7h0M567.1 281.9h0M552.5 303.5h0M530.7 240.8h0M535.1 293.6h0M532.5 268.6h0M581.9 286.4h0M527.1 270.6h0M562.7 273.4h0M526.4 273.8h0M563.6 290.3h0M554.0 261.5h0M527.5 237.8h0M579.1 264.8h0M554.0 304.7h0M525.9 251.8h0M578.8 286.3h0M517.1 274.2h0M541.7 296.8h0M525.7 222.4h0M564.0 260.7h0M540.6 273.7h0M547.2 291.2h0M523.7 257.8h0M537.5 271.9h0M498.2 294.9h0M517.0 284.0h0M521.3 256.2h0M550.2 284.5h0M550.3 268.8h0M498.3 236.0h0M544.1 292.0h0M557.4 206.9h0M534.3 208.7h0M526.7 269.5h0M559.4 225.5h0M500.4 287.7h0M557.1 277.3h0M521.0 217.9h0M574.4 284.6h0M586.8 301.7h0M542.9 284.8h0M538.1 286.3h0M589.5 252.0h0M549.2 284.7h0M480.1 249.5h0M500.1 252.8h0M518.4 295.8h0M560.5 286.8h0M555.7 275.6h0M507.4 255.2h0M496.2 294.0h0M513.2 295.0h0M570.6 273.6h0M534.2 292.3h0M543.2 304.5h0M539.2 290.5h0M554.3 271.1h0M545.2 299.6h0M534.3 266.6h0M556.2 270.3h0M537.0 245.3h0M543.9 275.9h0M572.6 290.5h0M536.1 270.3h0M537.2 265.6h0M525.4 280.5h0M528.4 262.3h0M544.6 201.9h0M554.4 263.4h0M501.4 282.6h0M556.7 259.6h0M511.3 272.9h0M532.9 287.5h0M534.5 264.8h0M545.4 278.4h0M541.3 291.5h0M588.7 283.7h0M541.5 286.0h0M553.2 221.0h0M597.4 275.1h0M537.6 257.7h0M510.8 275.5h0M503.9 274.8h0M548.2 288.2h0M519.6 236.2h0M576.2 288.8h0M554.7 217.5h0M529.8 255.7h0M548.9 234.8h0M517.7 280.8h0M524.7 299.4h0M532.3 275.5h0M541.1 299.5h0M558.3 289.6h0M547.0 266.8h0M481.3 246.9h0M483.0 255.1h0M521.4 284.0h0M521.2 247.6h0M567.1 279.8h0M533.7 262.5h0M512.3 274.3h0M532.6 289.2h0M572.0 236.9h0M556.9 229.8h0M540.5 298.1h0M542.4 290.6h0M560.2 268.5h0M499.3 258.1h0M557.1 282.9h0M529.3 278.7h0M563.5 250.3h0M541.0 276.5h0M563.5 275.1h0M536.2 273.1h0M528.1 239.9h0M566.1 298.4h0M524.4 265.6h0M555.6 286.1h0M533.8 263.8h0M507.8 303.8h0M552.6 290.8h0M484.9 288.8h0M515.1 293.7h0M532.9 302.4h0M551.2 249.6h0M547.8 274.3h0M525.3 258.6h0M520.5 239.7h0M510.7 294.9h0M555.4 293.4h0M531.7 284.9h0M526.0 263.2h0M527.6 276.6h0M526.2 259.8h0M516.3 298.2h0M534.1 216.8h0M571.3 285.0h0M539.8 251.5h0M518.4 267.1h0M545.3 290.4h0M495.1 245.3h0M565.9 212.7h0M521.8 274.3h0M531.6 298.9h0M590.7 271.5h0M559.9 266.7h0M585.7 263.9h0M553.2 259.0h0M592.2 292.1h0M568.4 286.4h0M508.2 295.4h0M556.2 294.9h0M530.9 291.8h0M559.9 254.0h0M551.8 273.8h0M613.5 214.9h0M547.3 277.8h0M587.5 223.6h0M571.8 241.5h0M535.0 255.3h0M532.8 292.4h0M564.1 274.3h0M482.7 214.1h0M566.0 265.8h0M506.2 226.2h0M533.7 242.7h0M541.8 211.9h0M528.8 304.1h0M561.4 275.2h0M508.1 293.9h0M543.5 277.2h0M523.2 277.4h0M536.1 277.4h0M545.5 280.4h0M531.8 290.9h0M540.4 286.2h0M580.9 262.3h0M531.7 290.0h0M535.6 292.3h0M490.0 296.3h0M551.4 305.0h0M532.5 293.6h0M588.0 264.6h0M498.3 299.5h0M586.5 273.1h0M524.5 266.4h0M525.9 253.8h0M522.8 302.7h0M574.2 241.7h0M511.8 289.9h0M540.3 216.6h0M506.2 291.5h0M553.9 274.6h0M516.3 283.0h0M557.0 269.5h0M552.3 241.6h0M556.8 295.0h0M512.4 288.4h0" stroke="#38383a" stroke-opacity="0.52" stroke-width="1.9" stroke-linecap="round" fill="none"/>
<path d="M541.2 235.3h0M552.2 252.0h0M474.7 304.7h0M580.8 240.9h0M574.0 304.6h0M530.3 282.4h0M509.7 264.9h0M535.2 290.2h0M577.8 286.8h0M512.5 302.7h0M538.3 270.5h0M538.6 235.6h0M555.9 266.8h0M507.2 285.2h0M507.0 235.9h0M579.4 279.1h0M492.3 241.1h0M511.5 254.6h0M540.7 269.4h0M502.0 213.2h0M549.2 276.3h0M528.0 280.5h0M519.8 296.2h0M527.0 247.3h0M620.5 232.2h0M494.7 287.0h0M512.3 294.4h0M502.4 305.4h0M489.2 274.0h0M537.8 233.0h0M505.4 292.4h0M573.1 294.8h0M556.4 249.4h0M494.3 275.7h0M469.5 260.7h0M484.4 275.5h0M554.5 265.6h0M530.4 241.5h0M563.2 295.9h0M596.4 283.8h0M562.2 270.7h0M517.4 286.9h0M564.8 240.6h0M496.6 293.0h0M519.8 289.0h0M519.0 252.8h0M542.4 239.9h0M557.2 238.7h0M506.8 296.4h0M557.0 271.0h0M558.4 219.5h0M579.9 281.1h0M528.5 269.8h0M534.1 216.6h0M547.0 287.0h0M542.2 234.0h0M519.1 296.9h0M536.3 271.5h0M496.2 292.1h0M525.0 257.1h0M596.6 221.8h0M555.7 292.6h0M576.6 247.4h0M533.0 289.9h0M514.2 250.6h0M501.2 276.9h0M555.2 272.5h0M583.2 296.5h0M507.4 248.5h0M550.9 271.7h0M540.0 311.0h0M553.5 237.4h0M578.1 283.9h0M542.0 291.8h0M529.3 257.2h0M546.8 297.0h0M526.0 269.3h0M575.2 273.5h0M526.0 274.8h0M581.9 267.7h0M552.3 274.5h0M522.4 305.3h0M554.8 256.8h0M485.6 248.1h0M545.2 280.9h0M543.2 294.4h0M515.5 243.3h0M528.3 288.6h0M526.3 256.3h0M562.7 261.2h0M536.0 309.5h0M512.1 233.1h0M496.9 289.9h0M500.8 243.7h0M522.5 237.9h0M528.3 287.8h0M548.1 265.0h0M547.6 269.2h0M575.8 263.4h0M562.5 297.2h0M527.0 282.3h0M583.7 234.3h0M547.1 272.9h0M517.7 295.6h0M562.1 243.6h0M529.6 293.7h0M537.9 250.6h0M566.2 277.9h0M551.2 236.0h0M541.4 253.4h0M574.8 280.4h0M535.4 227.7h0M550.2 286.4h0M535.8 296.1h0M498.2 295.2h0M508.0 294.7h0M502.2 290.7h0M526.0 279.8h0M534.6 267.2h0M520.3 294.2h0M525.4 257.5h0M514.7 267.3h0M594.9 210.8h0M505.5 260.1h0M546.4 220.5h0M513.2 272.2h0M500.2 292.8h0M510.8 233.4h0M521.9 256.1h0M569.6 260.1h0M531.3 213.8h0M581.8 233.2h0M583.6 289.1h0M534.3 237.6h0M523.8 250.6h0M522.3 272.1h0M562.3 275.6h0M559.5 289.3h0M551.9 284.0h0M534.6 267.0h0M570.8 254.3h0M569.8 270.0h0M546.3 286.3h0M546.7 271.6h0M528.4 241.2h0M526.9 271.5h0M540.3 291.8h0M507.8 243.1h0M571.4 282.6h0M506.3 237.3h0M523.9 245.3h0M509.8 281.3h0M552.6 281.2h0M526.9 244.1h0M530.8 272.1h0M526.9 260.1h0M556.9 308.5h0M565.7 274.0h0M538.7 272.4h0M540.3 281.1h0M579.1 290.9h0M511.2 303.0h0M511.0 277.9h0M550.8 284.6h0M568.1 304.4h0M563.9 293.3h0M571.1 234.4h0M546.7 304.6h0M545.0 291.6h0M535.6 283.3h0M529.2 269.6h0M533.1 294.2h0M505.2 244.5h0M567.8 270.9h0M546.8 254.6h0M549.4 250.9h0M510.0 225.1h0M563.3 280.7h0M528.0 294.5h0M550.1 277.5h0M572.0 288.4h0M558.7 300.1h0M583.7 288.3h0M530.1 267.1h0M519.5 253.3h0M523.0 285.1h0M575.2 253.6h0M510.0 279.5h0M505.0 287.5h0M579.0 227.2h0M510.1 255.8h0M424.1 304.2h0M561.5 226.5h0M496.2 265.0h0M531.2 270.0h0M555.2 270.1h0M553.4 266.1h0M585.3 295.1h0M530.0 266.8h0M530.9 305.0h0M541.8 259.6h0M548.4 264.3h0M584.4 247.6h0M491.5 275.0h0M496.3 242.3h0M559.3 258.3h0M524.5 236.3h0M590.1 249.6h0M550.8 272.2h0M527.9 304.9h0M535.3 258.5h0M492.8 303.9h0M518.6 279.9h0M520.1 250.2h0M559.8 270.6h0M545.9 297.2h0M572.5 293.5h0M521.2 288.6h0M566.6 260.7h0M525.4 234.9h0M552.2 226.1h0M539.4 241.8h0M528.5 233.9h0M544.2 237.4h0M519.1 264.4h0M547.1 253.6h0M497.0 277.3h0M516.9 273.7h0M506.9 255.0h0M483.3 290.4h0M532.5 283.7h0M528.1 304.4h0M476.6 295.9h0M549.0 237.0h0M497.7 253.4h0M557.1 297.4h0M558.2 225.0h0M530.9 302.7h0M564.5 307.9h0M545.0 284.0h0M547.9 247.6h0M547.7 236.7h0M600.7 284.0h0M532.8 285.3h0M537.2 277.9h0M532.9 291.4h0M546.2 304.1h0M524.2 268.4h0M525.6 246.3h0M525.2 238.3h0M540.3 294.1h0M567.5 285.3h0M582.1 238.4h0M527.6 285.9h0M562.2 227.4h0M544.1 269.1h0M541.1 260.6h0M534.7 297.6h0M577.1 265.8h0M520.3 297.4h0M558.8 274.9h0M535.5 289.1h0M528.1 275.7h0M523.1 245.2h0M527.1 264.8h0M565.3 304.4h0M531.7 274.9h0M521.0 270.4h0M585.1 262.6h0M541.5 288.1h0M491.2 292.5h0M579.1 230.3h0M510.1 263.2h0M550.0 272.6h0M566.0 254.9h0M544.4 279.8h0M564.7 269.6h0M535.9 286.0h0M519.7 257.4h0M540.6 230.0h0M531.6 283.2h0M545.3 303.3h0M543.6 287.5h0M558.9 241.6h0M501.2 300.6h0M557.2 253.8h0M546.3 262.9h0M506.1 288.2h0M564.9 257.4h0M554.3 283.4h0M548.8 284.7h0M535.1 273.0h0M533.2 278.1h0M547.9 256.5h0M529.1 228.9h0M537.9 259.5h0M484.3 297.6h0M546.7 280.3h0M527.4 296.8h0M532.8 302.1h0M568.0 265.4h0M457.6 301.4h0M521.7 292.2h0M540.5 253.8h0M513.7 303.1h0M554.5 236.7h0M543.6 262.6h0M539.9 298.5h0M564.6 241.1h0M503.9 240.3h0M560.8 251.7h0M570.5 275.8h0M513.7 298.6h0M535.5 234.8h0M525.3 272.4h0M511.0 294.9h0M552.9 273.6h0M582.9 228.3h0M516.1 287.2h0M537.6 294.4h0M551.3 266.4h0M506.9 294.1h0M534.0 246.6h0M574.6 249.6h0M546.0 295.7h0M531.8 256.4h0M547.8 283.0h0M565.9 277.5h0M575.6 292.1h0M521.9 239.5h0M532.5 248.4h0M522.2 247.8h0M509.8 302.1h0M537.1 275.3h0M554.2 251.4h0M512.4 297.6h0M504.8 268.9h0M550.9 285.0h0M549.7 235.2h0M558.3 243.0h0M531.0 258.0h0M522.4 284.7h0M564.2 298.4h0M570.9 291.1h0M554.6 268.4h0M575.6 274.8h0M561.5 297.2h0M556.5 228.4h0M528.9 210.9h0M527.4 199.7h0M502.5 287.5h0M549.7 226.7h0M552.9 244.7h0M510.5 243.5h0M545.0 290.8h0M553.0 272.2h0M566.0 280.1h0M524.9 242.0h0M541.4 272.0h0M562.8 227.2h0M558.2 295.5h0M545.2 279.7h0M515.7 287.1h0M533.4 279.0h0M557.2 291.1h0M534.4 215.8h0M524.9 255.6h0M516.4 256.7h0M528.1 294.7h0M582.3 269.0h0M497.7 260.3h0M639.3 281.7h0M509.2 259.1h0M552.7 262.3h0M531.5 285.5h0M554.2 268.9h0M550.1 256.1h0M527.6 232.2h0M547.8 240.9h0M525.6 263.0h0M502.9 244.7h0M562.5 281.7h0M528.7 296.7h0M537.3 222.2h0M571.3 211.3h0M470.7 290.4h0M510.8 257.5h0M534.9 268.9h0M526.7 236.9h0M542.3 270.6h0M517.9 245.1h0M540.3 302.2h0M566.5 219.9h0M494.9 287.4h0M579.4 253.4h0M558.9 226.2h0M508.4 290.8h0M561.7 277.7h0M541.7 307.8h0M556.3 271.2h0M469.6 300.8h0M581.3 254.4h0M561.6 290.2h0M556.1 257.7h0M585.4 283.3h0M525.3 290.2h0M543.2 289.5h0M544.3 210.2h0M580.2 265.8h0M559.1 286.8h0M469.4 246.0h0M588.2 288.9h0M505.6 233.4h0M595.3 257.4h0M519.7 290.7h0M531.5 229.5h0M562.6 276.4h0M537.0 243.4h0M467.8 256.2h0M534.8 279.3h0M539.2 270.7h0M555.9 233.0h0M512.3 283.2h0M511.9 291.9h0M553.6 274.4h0M557.1 304.1h0M547.9 268.8h0M538.4 257.5h0M564.8 279.0h0M531.2 288.7h0M571.3 306.2h0M510.9 270.9h0M504.6 223.5h0M569.6 261.3h0M540.7 285.4h0M521.1 300.7h0M517.7 291.6h0M518.9 275.7h0M541.6 294.6h0M493.9 264.8h0M560.3 256.0h0M523.6 254.6h0M518.1 258.8h0M559.9 202.0h0M565.0 272.6h0M505.3 256.9h0M565.6 266.7h0M527.4 279.7h0M554.5 211.6h0M532.8 248.9h0M534.5 259.8h0M528.8 305.4h0M546.5 297.8h0M504.5 222.6h0M527.2 257.7h0M527.9 242.1h0M566.7 273.0h0M515.4 253.9h0M552.3 259.5h0M563.5 282.0h0M535.2 270.8h0M521.8 255.6h0M529.0 300.0h0M503.1 250.6h0M562.4 279.9h0M522.0 304.7h0M515.0 288.4h0M542.6 304.4h0M549.6 251.2h0M573.9 306.4h0M521.5 293.8h0M559.7 278.6h0M516.0 286.0h0M524.9 213.4h0M554.7 277.0h0M588.7 255.4h0M551.4 273.5h0M581.7 275.9h0M524.5 259.0h0M565.2 253.6h0M570.7 206.1h0M539.9 304.1h0M551.7 258.5h0M520.6 195.8h0M562.0 249.1h0M558.1 255.2h0M506.9 289.5h0M521.5 280.2h0M574.0 283.7h0M495.9 274.7h0M555.7 260.3h0M537.6 247.8h0M519.2 228.5h0M552.5 258.4h0M565.9 255.0h0M547.4 231.0h0M476.8 249.4h0M539.3 272.1h0M576.3 232.2h0M556.1 279.5h0M563.1 265.7h0M587.7 237.9h0M530.4 280.4h0M574.2 245.3h0M550.1 243.3h0M514.5 268.2h0M507.4 291.5h0M534.4 270.8h0M552.6 293.7h0M489.6 309.3h0M536.8 296.1h0M542.3 241.1h0M526.4 292.2h0M538.0 258.8h0M544.3 258.1h0M528.9 223.9h0M523.9 285.4h0M466.6 301.9h0M559.8 279.1h0M505.1 277.6h0M522.0 272.4h0M545.0 279.0h0M505.2 265.0h0M508.2 263.9h0M586.2 271.6h0M594.2 234.7h0M539.5 272.3h0" stroke="#38383a" stroke-opacity="0.52" stroke-width="1.9" stroke-linecap="round" fill="none"/>
<path d="M571.6 260.3h0M543.3 278.6h0M553.4 229.0h0M525.7 270.5h0M499.1 218.5h0M495.7 258.0h0M515.2 247.5h0M553.9 292.2h0M539.1 278.0h0M588.8 275.9h0M519.0 290.3h0M540.8 236.6h0M537.0 292.2h0M516.4 236.6h0M536.0 292.3h0M513.7 270.8h0M547.1 293.5h0M507.7 279.9h0M502.9 302.3h0M559.1 263.8h0M532.8 234.8h0M511.3 285.9h0M527.1 204.6h0M541.2 304.3h0M550.1 293.4h0M518.5 230.5h0M530.1 273.0h0M546.2 238.7h0M495.5 236.0h0M547.5 288.3h0M495.4 297.1h0M540.6 233.8h0M549.1 263.9h0M500.2 295.9h0M547.5 274.1h0M500.6 234.5h0M525.5 283.9h0M561.9 281.4h0M519.4 258.7h0M501.7 276.5h0M487.9 274.4h0M500.7 288.4h0M525.7 289.4h0M541.2 286.1h0M520.1 293.3h0M520.6 297.6h0M535.4 262.3h0M553.2 286.8h0M571.3 280.3h0M508.4 295.2h0M474.0 304.3h0M542.7 258.8h0M619.4 280.9h0M544.2 273.8h0M533.4 275.0h0M572.1 269.6h0M524.8 258.0h0M534.2 219.2h0M561.6 280.7h0M574.4 252.8h0M510.7 247.5h0M565.1 291.5h0M544.8 276.9h0M526.2 304.0h0M491.0 297.1h0M554.3 252.2h0M492.5 304.2h0M545.8 247.5h0M540.8 289.1h0M554.0 223.7h0M510.9 244.2h0M516.3 270.5h0M565.8 184.3h0M535.1 292.0h0M572.4 262.9h0M558.8 242.2h0M575.0 266.2h0M544.3 281.0h0M547.2 302.0h0M542.8 306.0h0M535.2 235.2h0M516.0 241.7h0M528.6 254.5h0M551.2 219.8h0M535.4 273.9h0M586.9 276.7h0M517.9 255.1h0M543.2 288.5h0M550.3 264.9h0M580.0 264.2h0M471.0 250.5h0M522.9 260.5h0M535.0 290.3h0M511.6 280.4h0M547.1 227.8h0M536.0 285.8h0M553.1 229.4h0M499.2 288.9h0M535.3 273.5h0M509.6 283.3h0M536.9 253.9h0M516.3 240.6h0M541.1 258.0h0M526.5 293.6h0M517.4 276.1h0M542.4 273.2h0M557.3 267.4h0M530.7 231.0h0M515.5 284.4h0M503.7 235.2h0M549.0 258.3h0M552.7 266.5h0M580.0 228.5h0M521.2 295.2h0M568.4 196.1h0M468.9 301.0h0M600.0 235.9h0M532.2 274.2h0M563.8 283.7h0M526.3 257.4h0M551.0 283.8h0M552.1 290.8h0M551.5 274.6h0M531.6 271.4h0M571.4 280.9h0M569.7 290.0h0M539.5 251.2h0M534.0 252.8h0M544.2 274.6h0M552.9 299.9h0M521.0 298.2h0M511.1 290.9h0M582.5 279.5h0M550.5 234.6h0M487.8 239.4h0M546.6 279.8h0M545.3 257.3h0M531.7 291.9h0M542.1 275.8h0M535.2 286.9h0M504.9 302.7h0M550.2 301.0h0M504.4 290.9h0M573.8 240.2h0M545.7 283.5h0M504.5 293.7h0M564.0 271.8h0M592.8 282.1h0M548.2 265.4h0M526.7 285.7h0M536.2 300.1h0M538.4 262.8h0M497.6 230.6h0M554.4 243.4h0M540.0 273.7h0M508.6 253.3h0M532.4 251.5h0M542.5 288.7h0M509.9 286.8h0M540.3 282.9h0M529.3 304.3h0M541.3 305.2h0M522.3 307.9h0M572.2 289.9h0M579.9 256.3h0M565.8 270.3h0M503.4 303.5h0M545.8 263.7h0M522.7 275.4h0M545.0 296.0h0M546.1 277.2h0M530.2 293.8h0M592.4 222.0h0M527.3 217.4h0M583.2 276.1h0M550.5 280.4h0M538.2 258.4h0M535.4 282.3h0M546.0 272.4h0M501.5 293.2h0M556.5 273.7h0M576.7 256.3h0M548.0 256.9h0M546.8 283.6h0M566.1 245.8h0M581.6 245.4h0M517.2 214.7h0M540.1 232.9h0M521.1 279.8h0M546.7 294.0h0M502.1 247.2h0M570.1 285.6h0M524.8 285.9h0M550.3 292.8h0M542.6 281.5h0M550.1 260.3h0M561.0 293.9h0M561.0 296.8h0M537.9 293.3h0M520.9 252.7h0M552.7 249.0h0M521.6 266.1h0M546.1 272.7h0M545.3 274.9h0M559.2 265.4h0M528.3 284.6h0M567.5 241.5h0M546.7 296.4h0M519.0 252.4h0M556.6 239.4h0M543.1 221.9h0M573.7 293.2h0M567.1 257.1h0M488.5 241.0h0M520.2 284.6h0M547.2 238.1h0M550.4 262.6h0M548.7 263.3h0M570.4 281.7h0M539.1 282.7h0M530.0 253.4h0M531.2 273.2h0M533.9 279.1h0M545.1 300.4h0M541.2 249.2h0M562.5 272.8h0M510.0 304.7h0M520.1 237.1h0M533.4 270.7h0M568.5 301.4h0M517.3 271.5h0M530.8 263.2h0M563.9 242.0h0M531.1 248.9h0M550.7 260.5h0M567.9 250.6h0M544.2 302.0h0M566.0 277.7h0M545.8 260.1h0M525.3 301.4h0M514.7 206.6h0M559.6 251.6h0M547.0 255.1h0M546.7 251.4h0M541.2 287.7h0M555.3 294.2h0M561.3 215.6h0M523.9 272.0h0M583.1 265.5h0M559.7 235.6h0M529.2 244.7h0M506.7 227.2h0M575.6 287.9h0M564.0 242.9h0M527.3 285.8h0M517.7 257.0h0M596.3 287.8h0M572.2 240.3h0M519.9 232.8h0M504.8 271.5h0M581.3 289.2h0M532.9 292.3h0M559.4 297.7h0M575.6 252.7h0M535.3 247.7h0M519.2 272.9h0M546.4 274.3h0M528.4 220.3h0M551.3 235.8h0M496.6 292.3h0M570.7 295.0h0M536.7 289.9h0M560.6 244.0h0M500.5 264.8h0M533.3 305.3h0M548.8 270.0h0M538.2 299.0h0M566.4 287.9h0M544.7 289.9h0M550.1 231.1h0M486.7 305.4h0M544.5 228.4h0M556.8 281.0h0M532.6 290.8h0M518.3 297.9h0M587.4 295.6h0M520.6 300.3h0M533.4 233.3h0M573.1 274.9h0M537.4 298.7h0M516.6 277.5h0M575.2 233.9h0M601.3 250.1h0M534.6 292.9h0M545.7 263.5h0M532.6 268.6h0M486.5 274.7h0M534.6 261.2h0M515.3 257.5h0M536.1 282.7h0M558.4 283.5h0M543.1 299.2h0M580.1 274.9h0M554.2 239.2h0M533.0 249.7h0M521.7 228.3h0M530.4 232.3h0M531.1 291.0h0M629.9 281.6h0M548.2 283.7h0M529.5 257.4h0M526.3 275.4h0M578.7 276.4h0M516.4 253.8h0M514.6 283.5h0M534.5 267.2h0M555.1 219.9h0M517.6 298.5h0M512.5 292.1h0M539.2 260.3h0M546.6 286.5h0M520.7 282.1h0M558.4 304.5h0M573.3 291.3h0M526.9 298.4h0M506.7 241.5h0M554.1 240.4h0M494.8 300.3h0M585.0 281.3h0M495.7 237.5h0M571.7 217.9h0M559.0 271.6h0M562.0 242.8h0M522.9 293.8h0M547.2 260.7h0M513.5 296.6h0M628.0 272.7h0M497.2 300.1h0M547.1 264.0h0M541.4 248.8h0M542.0 211.5h0M513.4 256.1h0M577.2 290.1h0M532.7 270.8h0M509.8 255.9h0M502.5 262.3h0M532.0 268.4h0M560.0 304.1h0M555.6 262.2h0M514.3 252.3h0M464.6 293.1h0M543.9 255.1h0M497.9 285.4h0M514.1 298.6h0M579.8 298.1h0M549.1 258.5h0M537.1 275.1h0M562.1 204.2h0M554.1 282.8h0M552.7 269.2h0M547.1 272.5h0M567.3 259.8h0M596.6 277.5h0M533.8 290.4h0M539.9 305.3h0M554.6 255.1h0M515.6 236.6h0M606.1 300.8h0M540.7 286.4h0M523.7 245.8h0M526.6 283.3h0M510.3 202.9h0M521.4 268.4h0M546.9 276.3h0M541.5 284.3h0M560.9 260.6h0M495.8 292.5h0M540.6 273.9h0M558.6 271.0h0M501.7 290.9h0M513.2 256.6h0M545.7 284.3h0M534.8 232.8h0M555.4 282.7h0M544.6 268.4h0M556.0 285.3h0M553.0 264.8h0M547.2 243.9h0M489.0 299.0h0M523.9 301.7h0M532.6 292.1h0M570.1 240.0h0M515.2 292.8h0M501.4 293.2h0M517.7 273.4h0M495.2 235.1h0M538.1 295.6h0M505.8 246.2h0M563.8 281.5h0M517.5 292.8h0M564.7 283.5h0M531.3 234.7h0M588.4 258.6h0M510.1 228.6h0M529.4 274.3h0M561.6 270.5h0M564.5 277.8h0M559.4 232.2h0M563.5 227.7h0M539.4 209.5h0M521.9 286.7h0M539.0 235.1h0M554.9 209.6h0M530.7 247.5h0M519.0 286.5h0M542.9 274.8h0M508.4 211.9h0M511.9 243.7h0M563.9 234.7h0M558.9 262.3h0M537.3 241.0h0M559.4 228.9h0M526.5 252.7h0M560.8 236.0h0M483.8 303.3h0M524.7 245.9h0M536.3 274.9h0M534.5 300.0h0M517.6 241.6h0M527.3 289.2h0M542.0 263.5h0M471.2 297.1h0M546.0 289.0h0M479.7 290.1h0M523.6 261.5h0M490.8 300.2h0M521.2 268.5h0M536.8 233.3h0M561.7 276.9h0M515.2 288.5h0M599.8 260.3h0M553.8 286.8h0M545.5 267.6h0M525.3 295.5h0M544.7 289.2h0M523.3 292.6h0M561.6 268.1h0M522.5 294.4h0M533.9 265.9h0M489.1 290.5h0M549.4 291.4h0M512.9 280.9h0M581.2 267.3h0M560.8 300.9h0M531.0 251.4h0M528.1 297.1h0M541.0 293.2h0M540.1 268.4h0M546.9 242.1h0M559.7 243.9h0M540.2 273.7h0M576.8 284.1h0M544.1 276.9h0M577.0 295.5h0M550.6 244.0h0M546.5 275.9h0M552.8 248.5h0M573.8 240.6h0M482.8 303.8h0M550.9 275.8h0M492.3 299.2h0M529.9 258.4h0M565.8 298.4h0M550.9 290.2h0M543.1 254.2h0M556.5 298.8h0M517.1 283.2h0M565.2 277.2h0M548.6 291.3h0M544.6 273.2h0M593.3 243.5h0M557.3 262.9h0M532.6 268.5h0M545.0 276.4h0M506.6 280.0h0M556.4 231.3h0M542.7 270.8h0M565.3 224.8h0M559.5 274.1h0M538.6 288.9h0M464.8 274.8h0M553.7 282.6h0M508.1 271.7h0M508.3 302.5h0M517.9 214.8h0M523.3 243.4h0M562.6 231.4h0M532.0 278.4h0M500.2 268.4h0M573.4 259.5h0M551.0 270.3h0M525.1 275.9h0M537.4 271.0h0M532.1 239.6h0M499.2 262.7h0M509.1 267.1h0M502.8 229.8h0M530.6 268.6h0M559.8 289.8h0M558.0 278.0h0M547.4 200.2h0M486.6 304.5h0M564.2 280.3h0M495.9 264.5h0M503.8 303.2h0M557.3 269.3h0M487.7 297.1h0M531.5 275.5h0M547.0 263.4h0M524.2 261.5h0M554.1 288.3h0M577.3 244.4h0M567.3 236.2h0M525.8 240.9h0M579.8 301.4h0M608.5 268.9h0M512.6 282.2h0" stroke="#38383a" stroke-opacity="0.52" stroke-width="1.9" stroke-linecap="round" fill="none"/>
<path d="M408.2 111.4H411.5M408.2 173.9H411.5M408.2 241.8H411.5M408.2 162.9H411.5M408.2 229.5H411.5M408.2 155.1H411.5M408.2 220.7H411.5M406.3 149H411.5M406.3 213.9H411.5M408.2 144.1H411.5M408.2 208.3H411.5M408.2 139.9H411.5M408.2 203.6H411.5M408.2 136.3H411.5M408.2 199.5H411.5M408.2 133.1H411.5M408.2 195.9H411.5M408.2 295.3H411.5M408.2 314.7H411.5M408.2 291H411.5M408.2 319.2H411.5M408.2 286.8H411.5M408.2 323.5H411.5M406.3 282.7H411.5M406.3 327.8H411.5M408.2 278.7H411.5M408.2 332H411.5M408.2 274.7H411.5M408.2 336.1H411.5M408.2 270.8H411.5M408.2 340.2H411.5M408.2 266.9H411.5M408.2 344.3H411.5" stroke="#4a4a4c" stroke-width="1.7" fill="none"/>
<path d="M403.7 130.2H411.5M403.7 192.7H411.5M403.7 263H411.5M403.7 348.3H411.5" stroke="#2a2a2c" stroke-width="2.5" fill="none"/>
<path d="M403.9 298.5H411.5M405.3 299.4H411.5M403.3 300.3H411.5M405.9 301.2H411.5M403.9 302.1H411.5M405.3 303H411.5M403.3 303.9H411.5M405.9 304.8H411.5M403.9 305.7H411.5M405.3 306.6H411.5M403.3 307.5H411.5M405.9 308.4H411.5M403.9 309.3H411.5M405.3 310.2H411.5M403.3 311.1H411.5" stroke="#1f1f21" stroke-width="1.1" fill="none"/>
<path d="M421.4 365.2V369.4M431.3 365.2V369.4M441.2 365.2V369.4M451 365.2V369.4M470.8 365.2V369.4M480.7 365.2V369.4M490.6 365.2V369.4M500.5 365.2V369.4M520.2 365.2V369.4M530.1 365.2V369.4M540 365.2V369.4M549.9 365.2V369.4M569.6 365.2V369.4M579.5 365.2V369.4M589.4 365.2V369.4M599.3 365.2V369.4M619.1 365.2V369.4M628.9 365.2V369.4M638.8 365.2V369.4M648.7 365.2V369.4M668.5 365.2V369.4" stroke="#555557" stroke-width="1.5" fill="none"/>
<path d="M411.5 365.2V372.2M460.9 365.2V372.2M510.3 365.2V372.2M559.8 365.2V372.2M609.2 365.2V372.2M658.6 365.2V372.2" stroke="#4a4a4c" stroke-width="2.1" fill="none"/>
<path d="M414.3 107V269.9H667.3" stroke="#85868a" stroke-width="1.5" fill="none"/>
<path d="M667.3 107V270.7" stroke="#505052" stroke-width="2.1" fill="none"/>
<rect x="411.5" y="106" width="260" height="259.2" stroke="#707173" stroke-width="1.6" fill="none"/>
<text x="400" y="134.9" font-size="10.3" text-anchor="end" class="t">10<tspan dy="-4" font-size="8.4">5</tspan></text>
<text x="400" y="197.4" font-size="10.3" text-anchor="end" class="t">10<tspan dy="-4" font-size="8.4">4</tspan></text>
<text x="400" y="267.7" font-size="10.3" text-anchor="end" class="t">10<tspan dy="-4" font-size="8.4">3</tspan></text>
<text x="399.8" y="309.5" font-size="10.3" text-anchor="end" class="t">0</text>
<text x="402.2" y="353" font-size="10.3" text-anchor="end" class="t">−10<tspan dy="-4" font-size="8.4">3</tspan></text>
<text x="411.5" y="384" font-size="10.4" text-anchor="middle" class="t">0</text>
<text x="460.9" y="384" font-size="10.4" text-anchor="middle" class="t">50K</text>
<text x="510.3" y="384" font-size="10.4" text-anchor="middle" class="t">100K</text>
<text x="559.8" y="384" font-size="10.4" text-anchor="middle" class="t">150K</text>
<text x="609.2" y="384" font-size="10.4" text-anchor="middle" class="t">200K</text>
<text x="658.6" y="384" font-size="10.4" text-anchor="middle" class="t">250K</text>
<text transform="translate(541.2 89.2) scale(1 1.01)" font-size="24.8" text-anchor="middle">LR 1:1</text>
<text transform="translate(656.5 129.7) scale(1 1.03)" font-size="12" text-anchor="end" class="p">37,4</text>
<path d="M39.8 110V396.8H705.3" fill="none" stroke-width="2.3" stroke-linejoin="miter"/>
<path d="M39.8 87.9L28 111L51.6 111Z"/>
<path d="M727.7 396.8L704.3 385L704.3 408.6Z"/>
<text transform="translate(-0.3 33.3) scale(1 1.02)" font-size="42">a</text>
<text transform="translate(22 227.2) rotate(-90) scale(1 1.045)" font-size="25" text-anchor="middle" letter-spacing="0.9">IL-1<tspan class="g">β</tspan></text>
<text transform="translate(390.1 429) scale(1 1.045)" font-size="25" text-anchor="middle">FSC</text>
<path d="M252.7 860.4h0M233.4 890.8h0M209.8 855.1h0M265.2 871.9h0M243.0 804.3h0M232.6 852.9h0M256.7 872.5h0M195.4 867.6h0M231.4 859.5h0M279.7 776.8h0M259.8 852.5h0M219.1 891.4h0M248.8 838.1h0M278.8 867.6h0M223.5 882.0h0M218.8 853.8h0M251.8 859.7h0M265.8 889.6h0M283.2 867.9h0M241.7 880.2h0M290.6 853.2h0M230.9 867.6h0M211.7 831.0h0M295.0 857.5h0M259.7 861.4h0M229.2 824.6h0M253.1 858.5h0M270.3 863.2h0M265.8 871.3h0M252.5 861.1h0M257.1 848.4h0M212.6 886.5h0M243.6 824.7h0M245.7 863.2h0M223.5 875.9h0M215.9 862.8h0M248.9 872.6h0M232.9 873.4h0M262.1 821.0h0M207.7 853.9h0M222.5 863.0h0M262.5 829.3h0M296.7 801.5h0M243.2 858.0h0M236.9 870.4h0M292.6 775.2h0M223.6 860.6h0M253.4 766.8h0M253.9 759.7h0M268.1 843.2h0M234.4 868.3h0M281.8 848.0h0M237.0 856.7h0M242.6 829.4h0M239.5 845.5h0M258.4 859.9h0M252.2 875.6h0M217.5 871.5h0M254.2 844.0h0M227.4 843.4h0M259.5 876.1h0M262.6 855.0h0M270.8 849.3h0M256.9 870.3h0M250.2 858.8h0M237.1 824.4h0M242.8 846.0h0M223.2 866.0h0M201.4 860.3h0M245.5 873.5h0M245.9 873.7h0M246.4 873.0h0M250.6 868.7h0M258.3 866.7h0M263.5 881.3h0M230.5 875.1h0M246.6 859.1h0M234.4 863.0h0M227.5 868.4h0M230.7 848.2h0M241.5 816.9h0M269.6 866.1h0M210.6 836.8h0M237.5 882.5h0M246.7 868.0h0M262.5 851.8h0M234.4 857.0h0M274.3 834.7h0M222.3 865.6h0M266.9 864.7h0M239.9 812.8h0M268.6 864.2h0M283.0 866.6h0M304.2 839.6h0M229.5 867.3h0M237.7 876.0h0M248.0 877.3h0M207.9 869.4h0M242.4 867.4h0M213.3 866.9h0M248.1 855.3h0M265.0 868.0h0M217.6 864.6h0M236.7 857.3h0M207.1 882.6h0M268.9 751.5h0M228.4 869.6h0M269.9 824.8h0M273.8 861.3h0M263.0 855.5h0M271.0 864.2h0M250.6 854.4h0M265.1 803.8h0M262.4 882.7h0M274.8 757.9h0M266.8 856.0h0M217.3 871.6h0M260.4 831.3h0M248.0 864.6h0M233.5 861.2h0M266.1 778.2h0M224.5 869.8h0M245.9 835.8h0M229.5 858.5h0M264.3 826.0h0M267.8 841.9h0M228.2 878.1h0M206.0 886.2h0M189.7 767.4h0M287.9 866.7h0M279.5 827.0h0M237.4 858.1h0M278.7 854.4h0M238.3 854.0h0M227.9 900.4h0M207.2 777.2h0M304.2 832.6h0M294.1 851.3h0M244.0 864.3h0M310.5 818.9h0M219.5 865.1h0M240.4 859.6h0M190.5 870.9h0M284.4 865.0h0M293.9 845.1h0M244.2 857.5h0M263.0 850.1h0M271.8 850.6h0M246.2 852.8h0M224.5 855.3h0M207.6 872.5h0M263.3 837.7h0M252.7 841.3h0M244.0 887.2h0M265.3 861.5h0M242.8 855.8h0M228.2 863.6h0M261.9 840.5h0M239.6 858.3h0M236.6 863.9h0M250.0 847.2h0M267.2 832.5h0M225.3 861.2h0M212.4 846.3h0M274.5 848.2h0M223.5 861.0h0M263.0 876.4h0M284.0 840.9h0M234.6 872.8h0M268.3 850.8h0M251.2 868.0h0M281.6 841.7h0M241.4 858.5h0M232.2 869.5h0M268.7 833.5h0M245.3 874.8h0M205.3 861.7h0M260.2 858.1h0M225.0 871.6h0M245.5 871.8h0M262.4 863.1h0M222.4 862.9h0M270.6 835.1h0M240.9 877.6h0M280.9 855.2h0M248.4 870.6h0M236.4 856.1h0M219.9 873.0h0M237.5 811.1h0M291.7 821.7h0M253.9 875.6h0M227.0 813.4h0M273.9 837.4h0M260.3 765.1h0M297.8 805.7h0M241.8 862.9h0M218.1 860.4h0M208.3 780.3h0M262.3 790.0h0M249.3 855.7h0M230.3 879.1h0M270.6 848.2h0M292.9 865.7h0M236.2 870.4h0M295.6 759.5h0M222.7 888.9h0M258.5 859.3h0M260.5 859.6h0M237.2 847.7h0M266.5 828.7h0M250.9 846.0h0M223.2 854.8h0M250.6 859.2h0M245.2 884.0h0M255.9 872.2h0M269.8 823.1h0M233.2 872.2h0M240.9 867.2h0M244.9 860.9h0M233.1 848.0h0M243.2 874.0h0M240.6 867.4h0M213.2 857.3h0M266.7 871.2h0M259.0 833.7h0M232.8 859.8h0M228.4 878.9h0M233.8 872.0h0M228.2 860.7h0M267.5 852.5h0M273.6 871.0h0M240.3 876.6h0M279.1 857.0h0M247.7 862.3h0M323.1 866.1h0M264.4 873.5h0M236.9 867.8h0M211.1 874.0h0M225.1 873.6h0M277.8 814.3h0M264.4 853.2h0M254.8 780.8h0M277.3 858.1h0M278.5 859.3h0M200.7 871.8h0M236.2 864.5h0M210.3 874.1h0M202.1 866.3h0M201.8 864.9h0M296.5 867.3h0M289.0 851.9h0M244.3 874.7h0M245.4 821.3h0M230.5 868.1h0M243.7 878.6h0M222.9 865.0h0M225.0 896.3h0M306.5 827.7h0M248.9 882.9h0M207.5 891.3h0M246.3 871.1h0M234.6 872.3h0M222.4 881.1h0M239.9 840.8h0M253.5 871.1h0M220.8 876.1h0M288.0 849.6h0M254.8 860.0h0M252.3 863.7h0M253.8 865.6h0M228.9 889.3h0M265.8 862.4h0M244.3 856.5h0M261.1 868.5h0M302.3 847.1h0M262.4 813.2h0M213.5 864.5h0M260.1 855.2h0M245.8 857.0h0M273.5 799.3h0M256.2 838.6h0M252.3 825.2h0M243.1 867.9h0M278.6 865.2h0M309.2 846.0h0M211.3 799.3h0M276.3 861.3h0M199.1 862.4h0M265.5 852.3h0M247.0 879.6h0M276.4 818.5h0M245.7 857.6h0M227.4 857.8h0M269.4 876.1h0M252.8 819.0h0M248.8 851.1h0M227.1 879.1h0M260.7 857.4h0M246.6 873.0h0M248.3 841.8h0M237.6 884.5h0M209.5 861.5h0M229.0 891.0h0M276.6 847.9h0M253.4 874.0h0M246.9 868.3h0M249.1 861.1h0M240.6 817.5h0M218.2 866.9h0M256.7 856.1h0M250.0 837.0h0M235.5 880.0h0M209.6 871.0h0M237.8 855.2h0M251.4 876.1h0M269.1 848.7h0M211.7 876.7h0M273.2 837.5h0M248.7 872.3h0M243.4 883.3h0M230.0 872.8h0M257.9 881.6h0M259.8 874.4h0M238.7 870.7h0M194.0 872.3h0M256.3 873.3h0M295.1 826.1h0M272.1 849.6h0M215.4 879.8h0M232.3 804.9h0M203.3 855.5h0M212.0 880.2h0M243.7 844.5h0M284.5 879.1h0M275.2 878.7h0M243.6 857.3h0M241.0 849.9h0M189.0 872.8h0M244.2 885.0h0M281.1 826.8h0M265.7 870.6h0M232.2 862.9h0M276.8 873.8h0M190.6 884.4h0M275.5 856.7h0M237.7 884.4h0M266.4 869.4h0M253.1 889.9h0M264.9 868.7h0M303.9 879.8h0M269.4 846.4h0M255.8 853.0h0M289.4 865.9h0M241.5 871.2h0M245.6 847.8h0M299.6 835.0h0M257.6 842.9h0M262.2 866.3h0M246.6 863.8h0M256.6 851.8h0M215.0 850.2h0M303.3 857.4h0M294.7 869.9h0M249.9 857.7h0M241.9 841.4h0M244.3 883.7h0M269.5 854.3h0M234.2 887.1h0M230.7 862.6h0M249.9 859.2h0M250.1 880.3h0M244.6 838.7h0M246.8 855.8h0M277.9 841.7h0M272.3 860.5h0M247.6 880.4h0M258.2 817.9h0M280.4 845.2h0M269.0 851.7h0M340.3 749.7h0M243.7 894.4h0M230.6 842.3h0M265.1 853.1h0M250.5 851.8h0M267.6 860.3h0M269.6 821.1h0M248.6 873.5h0M286.9 824.6h0M264.5 845.2h0M237.0 849.3h0M279.0 852.1h0M277.9 827.4h0M230.5 853.5h0M268.1 856.1h0M268.3 850.8h0M271.1 854.4h0M292.8 805.3h0M227.3 866.6h0M274.6 847.3h0M203.1 869.0h0M249.4 850.8h0M292.2 834.7h0M237.7 880.3h0M240.6 880.5h0M267.9 863.6h0M290.7 846.2h0M247.4 817.9h0M215.6 873.2h0M254.0 856.4h0M251.2 853.8h0M199.4 861.2h0M251.7 855.3h0M226.7 873.9h0" stroke="#38383a" stroke-opacity="0.52" stroke-width="1.9" stroke-linecap="round" fill="none"/>
<path d="M237.1 853.0h0M250.8 878.3h0M215.9 886.0h0M221.3 880.5h0M262.6 870.4h0M273.0 848.4h0M265.8 820.9h0M244.9 798.6h0M258.9 866.8h0M234.9 882.4h0M266.3 777.4h0M229.3 879.7h0M218.4 858.4h0M226.3 843.4h0M169.1 864.8h0M270.4 788.5h0M273.8 863.0h0M221.6 878.4h0M234.3 867.9h0M261.3 830.3h0M326.7 799.3h0M222.5 877.7h0M267.0 851.4h0M241.0 873.9h0M228.9 803.4h0M244.3 863.4h0M263.4 865.0h0M197.2 879.3h0M242.3 876.2h0M237.9 868.3h0M252.4 842.8h0M252.3 827.0h0M283.2 863.3h0M235.7 858.6h0M268.8 847.9h0M238.4 872.8h0M262.6 862.8h0M276.3 829.6h0M233.2 878.6h0M233.9 864.0h0M246.8 867.3h0M267.6 841.3h0M265.1 823.9h0M248.9 871.4h0M238.7 883.9h0M310.3 857.6h0M228.3 856.5h0M292.0 862.4h0M264.8 848.7h0M201.8 872.9h0M237.7 869.3h0M267.0 826.8h0M245.0 863.8h0M234.9 874.1h0M268.0 854.1h0M266.4 841.8h0M277.0 865.3h0M256.7 872.0h0M236.3 872.4h0M204.6 878.1h0M244.1 859.4h0M243.9 835.3h0M253.5 856.6h0M233.8 874.4h0M237.1 875.8h0M229.5 850.5h0M263.4 818.9h0M245.3 864.5h0M279.1 864.9h0M292.3 831.5h0M282.0 858.2h0M241.6 881.7h0M263.2 890.0h0M209.6 842.3h0M189.8 864.8h0M261.9 857.7h0M245.3 817.7h0M256.8 854.4h0M221.5 830.9h0M311.6 853.7h0M240.4 851.6h0M241.2 873.2h0M262.7 863.3h0M268.3 866.8h0M231.6 882.3h0M267.3 845.4h0M232.2 853.2h0M253.1 830.9h0M226.5 879.3h0M267.9 863.9h0M217.6 802.3h0M244.5 871.4h0M237.4 887.6h0M233.4 882.4h0M245.5 825.0h0M238.9 859.5h0M243.1 879.0h0M214.7 884.7h0M268.1 852.3h0M234.4 868.3h0M273.8 824.9h0M220.1 867.6h0M244.3 853.6h0M236.4 840.3h0M298.2 861.8h0M265.5 856.1h0M265.4 831.4h0M272.0 846.9h0M248.3 876.5h0M264.2 839.6h0M240.8 862.6h0M241.6 820.3h0M253.0 864.6h0M230.8 882.0h0M237.5 868.2h0M269.7 855.5h0M243.5 854.5h0M245.1 856.5h0M174.9 880.8h0M230.6 865.7h0M254.8 847.9h0M222.1 863.2h0M229.7 825.6h0M255.0 819.1h0M252.6 843.8h0M211.5 859.7h0M246.1 864.5h0M242.2 826.9h0M234.4 877.2h0M226.3 850.7h0M271.4 868.4h0M250.5 855.5h0M307.0 843.1h0M299.1 811.5h0M219.4 871.4h0M250.6 852.1h0M229.1 887.6h0M240.5 854.3h0M246.8 876.9h0M249.8 868.3h0M276.2 866.9h0M239.7 870.8h0M267.6 730.6h0M286.2 876.8h0M250.0 875.5h0M245.6 873.4h0M233.9 861.4h0M244.5 866.4h0M247.3 859.3h0M228.9 883.9h0M218.6 872.9h0M264.3 866.8h0M266.5 826.3h0M238.0 875.5h0M220.5 869.6h0M249.3 843.1h0M212.0 860.7h0M243.2 886.2h0M257.1 839.6h0M277.2 756.3h0M274.4 835.1h0M221.9 879.6h0M229.2 884.5h0M211.9 720.6h0M251.1 787.2h0M268.8 859.2h0M238.0 823.0h0M242.2 866.3h0M257.7 843.4h0M252.2 873.2h0M240.6 856.7h0M223.0 851.5h0M217.5 876.4h0M230.0 852.0h0M238.2 858.6h0M251.5 874.6h0M215.8 885.4h0M260.2 858.0h0M218.5 846.9h0M204.3 874.4h0M209.9 851.0h0M198.9 856.4h0M201.2 869.6h0M277.5 855.2h0M271.1 854.0h0M260.4 848.4h0M253.3 853.3h0M272.3 838.3h0M213.1 867.5h0M229.8 864.9h0M236.3 860.0h0M247.1 887.4h0M189.8 880.4h0M279.7 861.5h0M263.5 841.7h0M229.9 873.7h0M264.8 861.7h0M240.2 852.1h0M253.3 849.2h0M243.0 867.6h0M253.9 847.1h0M295.2 793.3h0M217.3 877.0h0M199.9 871.5h0M280.2 833.9h0M199.3 881.6h0M260.8 818.5h0M252.9 870.5h0M203.3 872.6h0M252.2 878.6h0M198.8 885.0h0M276.8 866.2h0M274.4 866.2h0M263.6 863.2h0M217.5 893.5h0M247.3 879.7h0M243.3 850.4h0M289.1 823.4h0M281.4 836.0h0M251.0 866.8h0M242.3 858.3h0M223.1 864.4h0M233.5 799.2h0M247.2 843.6h0M268.9 832.3h0M236.4 841.1h0M259.7 851.9h0M218.2 875.7h0M258.7 829.7h0M310.1 833.1h0M249.2 873.2h0M242.5 870.7h0M256.6 852.4h0M261.8 851.1h0M259.0 838.3h0M179.0 766.5h0M289.4 866.3h0M244.9 890.7h0M279.3 823.1h0M241.0 871.3h0M275.3 810.5h0M257.8 863.5h0M279.3 847.9h0M296.2 829.5h0M253.1 857.6h0M261.8 855.1h0M247.5 878.4h0M276.1 865.8h0M246.1 859.0h0M278.8 859.4h0M257.2 883.4h0M281.2 853.4h0M233.6 863.7h0M257.7 875.0h0M268.6 866.2h0M235.4 836.4h0M218.8 878.9h0M266.8 829.1h0M289.0 886.2h0M243.4 818.9h0M235.0 859.0h0M250.6 814.5h0M261.5 854.6h0M228.2 853.9h0M264.4 871.6h0M279.4 868.0h0M205.9 872.3h0M269.2 829.0h0M238.8 849.4h0M296.7 822.3h0M232.5 839.8h0M260.1 860.7h0M226.5 878.7h0M235.2 872.1h0M269.2 843.5h0M229.4 865.5h0M214.8 890.5h0M248.9 867.4h0M236.3 866.1h0M225.2 860.2h0M274.5 869.9h0M266.0 848.8h0M234.2 745.8h0M251.9 865.6h0M281.0 833.6h0M249.9 875.0h0M294.5 862.4h0M227.3 820.0h0M231.9 860.2h0M253.1 865.2h0M278.3 845.8h0M307.6 835.9h0M227.3 884.1h0M201.8 871.4h0M225.4 856.1h0M272.1 851.1h0M219.0 855.4h0M229.8 879.1h0M203.6 888.2h0M223.8 874.9h0M264.5 864.5h0M216.8 760.1h0M277.6 842.9h0M226.2 878.4h0M294.3 842.5h0M277.9 842.9h0M258.9 865.2h0M209.0 871.9h0M208.8 898.0h0M271.3 830.5h0M256.3 874.9h0M264.2 821.4h0M263.6 874.5h0M274.5 846.5h0M227.3 844.8h0M267.1 854.1h0M244.8 867.9h0M249.5 868.8h0M238.1 885.5h0M299.3 816.1h0M270.8 775.5h0M253.1 842.1h0M275.9 840.2h0M250.0 855.5h0M215.1 868.1h0M211.0 874.5h0M238.2 871.7h0M264.6 868.6h0M213.6 863.2h0M219.3 877.3h0M265.6 881.4h0M250.9 873.9h0M273.8 821.9h0M264.3 846.4h0M259.2 840.1h0M230.8 844.3h0M298.8 826.2h0M282.8 846.8h0M272.5 858.0h0M207.0 876.6h0M236.2 859.9h0M250.4 853.4h0M268.0 876.2h0M230.5 872.0h0M246.1 834.5h0M254.5 872.5h0M235.2 878.1h0M235.1 888.3h0M261.8 871.2h0M227.5 863.9h0M241.0 848.8h0M247.2 861.3h0M235.7 864.5h0M258.5 867.3h0M246.5 861.0h0M254.8 872.4h0M256.9 834.8h0M203.6 853.9h0M265.2 869.9h0M218.7 895.4h0M255.4 822.9h0M220.8 898.1h0M241.0 861.6h0M250.2 878.1h0M273.5 855.9h0M310.3 818.3h0M280.6 818.6h0M220.0 862.5h0M206.1 866.5h0M272.2 859.9h0M279.6 871.3h0M241.6 868.6h0M251.1 861.1h0M224.4 880.5h0M260.7 844.5h0M248.2 814.1h0M238.4 886.4h0M267.2 867.7h0M291.1 771.3h0M259.6 806.6h0M251.0 864.0h0M252.4 846.1h0M248.2 871.1h0M287.9 844.3h0M288.9 769.9h0M242.3 876.2h0M268.1 865.9h0M219.0 868.6h0M218.2 880.6h0M266.1 873.2h0M247.6 795.8h0M218.1 882.4h0M273.6 833.7h0M223.5 856.3h0M234.6 789.4h0M281.1 802.9h0M238.4 850.7h0M230.9 849.6h0M250.7 873.6h0M273.4 820.4h0M251.3 835.7h0M247.9 884.9h0M259.1 848.9h0M223.4 856.3h0M245.2 865.6h0M216.8 875.8h0M236.8 824.9h0M250.9 872.6h0M257.4 817.7h0M249.1 869.8h0M265.9 850.7h0M222.7 864.3h0M210.7 853.3h0" stroke="#38383a" stroke-opacity="0.52" stroke-width="1.9" stroke-linecap="round" fill="none"/>
<path d="M207.2 861.5h0M232.6 860.2h0M265.6 848.7h0M264.7 868.0h0M253.3 880.7h0M294.7 876.4h0M229.4 886.9h0M303.3 815.5h0M171.9 884.2h0M243.8 874.7h0M244.2 841.0h0M230.8 872.2h0M283.6 813.0h0M239.0 873.4h0M279.1 829.2h0M254.3 870.5h0M271.6 861.6h0M255.6 839.7h0M290.0 834.3h0M193.8 870.9h0M249.1 818.2h0M212.6 867.9h0M211.0 883.6h0M249.2 874.6h0M225.4 849.0h0M198.4 875.4h0M240.4 864.3h0M295.2 854.7h0M237.3 862.4h0M292.3 860.0h0M247.3 869.0h0M282.9 859.3h0M246.1 868.0h0M276.7 823.6h0M253.0 862.1h0M213.9 886.5h0M269.8 849.8h0M232.5 854.7h0M178.5 758.3h0M184.2 875.6h0M225.5 860.8h0M246.8 849.5h0M252.1 828.6h0M263.2 850.1h0M244.4 842.4h0M183.2 877.8h0M241.1 852.3h0M229.1 856.0h0M268.4 863.7h0M265.2 819.5h0M301.1 762.5h0M227.2 855.3h0M250.7 857.0h0M239.2 871.9h0M183.5 877.9h0M296.3 862.2h0M237.4 862.3h0M285.2 759.6h0M261.6 867.2h0M235.0 870.3h0M265.0 875.2h0M222.4 852.8h0M261.2 758.6h0M224.1 880.6h0M240.9 874.6h0M284.2 832.6h0M215.0 855.0h0M245.4 857.2h0M264.3 845.4h0M243.8 849.8h0M261.9 857.5h0M224.8 862.7h0M253.3 859.9h0M243.3 881.8h0M274.2 882.6h0M247.2 877.8h0M237.4 866.9h0M280.9 840.3h0M292.5 826.5h0M254.6 826.3h0M224.9 857.0h0M207.7 882.0h0M238.5 858.6h0M248.1 873.5h0M280.5 858.3h0M252.7 847.9h0M264.0 870.7h0M216.1 868.6h0M239.4 849.4h0M275.1 854.4h0M259.8 869.9h0M214.9 871.3h0M266.8 846.7h0M225.4 774.7h0M238.6 856.5h0M230.2 851.3h0M255.1 865.3h0M207.9 890.3h0M280.0 886.0h0M255.2 829.8h0M260.9 876.7h0M240.2 884.4h0M217.6 870.9h0M254.8 847.0h0M210.5 876.8h0M247.6 881.0h0M209.7 869.6h0M251.7 859.7h0M303.6 846.0h0M256.7 852.4h0M209.2 859.3h0M291.2 858.6h0M176.9 814.6h0M250.7 855.5h0M281.0 831.7h0M254.2 833.6h0M250.8 846.1h0M279.8 866.5h0M267.7 879.9h0M268.3 818.6h0M233.8 853.5h0M197.6 861.6h0M262.0 872.7h0M216.5 859.8h0M209.1 860.7h0M244.4 866.9h0M236.2 857.5h0M274.2 854.3h0M287.2 865.6h0M218.1 860.6h0M273.4 865.4h0M284.0 849.2h0M224.4 875.5h0M203.3 845.8h0M252.8 883.0h0M228.0 876.5h0M228.2 852.8h0M242.2 877.3h0M238.6 878.4h0M277.2 794.5h0M219.0 862.9h0M211.1 860.0h0M267.7 856.0h0M246.2 866.7h0M267.9 859.7h0M287.2 840.2h0M244.8 865.5h0M265.4 833.5h0M286.5 841.2h0M265.4 873.6h0M290.5 871.2h0M269.8 818.4h0M267.7 861.3h0M270.5 856.7h0M289.8 856.0h0M235.0 871.2h0M236.7 837.3h0M226.1 842.0h0M256.6 851.8h0M225.0 865.6h0M291.1 804.5h0M224.6 888.2h0M252.1 861.7h0M225.8 867.7h0M290.4 874.1h0M206.1 868.3h0M232.8 864.2h0M246.2 858.9h0M235.2 872.2h0M279.1 839.6h0M253.3 835.2h0M243.8 845.7h0M220.4 866.0h0M252.4 852.1h0M236.8 843.6h0M210.7 857.8h0M220.0 877.4h0M246.5 746.4h0M254.1 864.0h0M243.9 861.8h0M254.3 812.1h0M252.0 872.9h0M266.3 848.9h0M292.1 851.4h0M218.2 859.8h0M254.8 860.1h0M252.6 871.1h0M310.6 849.2h0M235.1 879.3h0M270.4 841.9h0M284.4 869.1h0M253.2 850.0h0M261.9 869.6h0M230.0 870.4h0M255.1 848.9h0M238.7 852.3h0M248.8 871.9h0M261.4 841.3h0M218.0 885.1h0M211.1 875.1h0M243.4 879.2h0M233.1 883.1h0M237.3 879.2h0M279.7 857.5h0M257.4 871.7h0M203.7 862.6h0M248.8 828.2h0M272.3 840.0h0M248.4 859.0h0M269.5 874.0h0M269.4 821.2h0M225.2 853.8h0M257.5 871.4h0M280.6 889.8h0M221.3 864.0h0M241.9 862.7h0M252.3 853.1h0M233.7 887.9h0M229.4 881.5h0M293.8 828.0h0M277.8 821.5h0M263.6 867.1h0M319.5 862.8h0M177.7 882.9h0M311.1 833.2h0M261.4 869.2h0M202.6 877.1h0M270.2 862.6h0M261.3 872.2h0M231.5 869.8h0M285.0 847.2h0M235.9 861.3h0M240.9 859.2h0M229.9 871.0h0M300.1 844.0h0M302.5 851.8h0M217.8 863.0h0M250.2 851.3h0M238.9 875.8h0M262.9 832.0h0M225.1 855.1h0M288.8 862.5h0M276.0 839.2h0M234.5 862.3h0M245.6 859.5h0M267.9 853.0h0M249.1 852.5h0M270.4 846.6h0M219.8 870.3h0M208.4 872.1h0M247.5 847.6h0M248.0 871.2h0M234.9 864.2h0M285.3 871.7h0M266.0 884.4h0M215.3 876.3h0M238.7 853.4h0M245.8 875.5h0M281.1 858.4h0M233.5 832.8h0M280.1 858.8h0M255.9 811.3h0M240.3 840.8h0M230.8 877.3h0M251.8 864.6h0M226.3 881.3h0M277.6 832.6h0M250.2 862.2h0M288.6 846.0h0M250.4 849.8h0M234.5 899.1h0M211.0 874.1h0M275.4 885.2h0M258.8 888.8h0M240.3 861.0h0M281.8 858.6h0M263.1 824.5h0M215.5 855.0h0M267.2 886.1h0M276.4 854.8h0M240.3 849.7h0M241.4 871.9h0M254.0 847.8h0M227.9 869.7h0M260.8 835.3h0M259.6 768.0h0M238.1 868.1h0M263.9 849.7h0M233.6 877.4h0M228.5 834.1h0M202.9 866.9h0M268.5 846.7h0M305.5 820.2h0M242.8 837.9h0M220.8 873.8h0M243.5 864.7h0M261.3 844.0h0M187.8 889.8h0M228.3 856.9h0M224.7 877.4h0M240.5 858.3h0M250.2 833.0h0M220.3 876.3h0M233.4 883.2h0M202.9 884.9h0M311.8 820.8h0M253.7 855.8h0M252.4 848.7h0M267.5 860.5h0M274.8 856.2h0M268.5 853.2h0M247.6 828.0h0M257.3 864.3h0M271.0 826.2h0M243.0 857.7h0M256.1 809.8h0M218.5 881.4h0M248.0 873.1h0M240.0 810.8h0M241.4 870.0h0M252.7 864.3h0M272.8 860.8h0M240.9 877.3h0M215.3 866.9h0M240.0 865.2h0M286.3 844.9h0M228.5 762.4h0M235.6 855.1h0M224.6 873.0h0M260.1 864.6h0M293.5 849.6h0M249.3 859.8h0M265.0 857.9h0M292.8 857.8h0M257.6 859.4h0M253.0 848.2h0M185.4 863.2h0M281.9 858.2h0M226.4 866.0h0M212.3 893.7h0M264.0 865.2h0M255.9 824.6h0M257.4 873.1h0M254.9 842.0h0M255.3 857.8h0M289.3 851.0h0M221.6 855.2h0M236.3 848.5h0M276.4 837.7h0M250.3 836.2h0M292.4 816.1h0M259.2 869.7h0M217.8 879.4h0M242.8 864.4h0M234.2 871.4h0M280.7 835.9h0M243.4 860.1h0M255.2 863.3h0M284.7 841.0h0M283.2 842.4h0M250.2 863.7h0M267.8 815.3h0M270.6 863.3h0M317.1 789.2h0M236.0 883.4h0M269.3 868.9h0M219.9 865.3h0M245.3 879.9h0M218.5 869.0h0M267.2 837.5h0M263.3 767.0h0M258.7 883.1h0M249.0 769.1h0M275.7 835.4h0M240.2 852.0h0M296.4 836.3h0M249.1 862.7h0M229.9 871.7h0M271.9 831.0h0M229.9 867.2h0M226.2 866.7h0M204.8 867.0h0M245.1 861.2h0M232.5 856.7h0M239.8 868.3h0M232.3 889.8h0M305.7 869.4h0M247.1 848.2h0M251.9 882.6h0M288.1 823.7h0M265.9 861.4h0M284.6 850.9h0M285.9 860.8h0M240.0 861.5h0M187.2 861.9h0M237.0 885.8h0M226.7 863.3h0M252.1 784.9h0M236.6 789.0h0M244.6 839.9h0M256.1 856.4h0M230.0 871.5h0M221.4 889.9h0M259.5 859.9h0M215.0 888.2h0M255.7 851.9h0M232.8 865.6h0M226.4 826.3h0M227.0 872.2h0M230.5 864.9h0M275.3 850.8h0M243.9 872.2h0" stroke="#38383a" stroke-opacity="0.52" stroke-width="1.9" stroke-linecap="round" fill="none"/>
<path d="M234.0 868.5h0M274.8 882.1h0M245.7 867.0h0M322.4 791.2h0M275.2 852.3h0M207.8 881.9h0M213.6 877.4h0M223.3 866.4h0M257.3 854.9h0M260.8 742.4h0M238.6 853.5h0M264.0 868.9h0M202.5 845.7h0M299.8 849.2h0M264.2 857.4h0M277.9 830.4h0M288.9 857.8h0M232.3 860.2h0M290.9 851.6h0M255.0 876.5h0M239.6 859.7h0M235.2 864.1h0M237.7 851.8h0M245.9 870.1h0M200.5 833.6h0M208.2 846.6h0M284.5 851.4h0M257.6 850.7h0M269.0 852.7h0M258.6 846.0h0M236.6 868.9h0M219.2 861.1h0M227.7 879.0h0M243.4 860.6h0M240.5 807.5h0M293.5 860.4h0M267.4 822.5h0M238.5 889.4h0M222.9 828.7h0M238.2 869.1h0M283.4 863.0h0M263.4 853.8h0M284.6 867.8h0M234.9 863.8h0M238.7 876.9h0M222.2 879.2h0M269.9 852.9h0M243.5 862.7h0M229.5 875.5h0M269.6 870.3h0M244.8 847.5h0M323.1 825.1h0M232.4 849.8h0M224.6 882.3h0M280.4 837.6h0M207.0 849.6h0M235.3 889.6h0M252.5 854.6h0M218.4 867.0h0M192.4 859.9h0M253.2 858.9h0M248.1 872.6h0M261.2 858.4h0M279.6 857.7h0M236.9 867.8h0M269.3 826.1h0M247.4 851.6h0M245.1 862.2h0M250.7 863.9h0M231.5 853.0h0M226.7 865.4h0M220.3 878.1h0M230.3 856.7h0M237.6 873.8h0M271.1 852.7h0M217.3 887.4h0M236.8 885.5h0M217.7 866.8h0M276.7 847.4h0M226.4 866.0h0M236.1 884.4h0M285.1 822.8h0M269.4 847.3h0M235.9 862.0h0M275.5 845.8h0M250.8 862.6h0M232.9 837.8h0M316.2 848.6h0M232.0 876.1h0M262.7 863.6h0M248.0 847.1h0M241.8 863.8h0M224.4 872.9h0M311.7 839.5h0M223.7 890.8h0M281.2 854.3h0M269.6 829.4h0M275.0 750.4h0M250.3 864.6h0M263.4 844.9h0M221.1 896.6h0M219.8 859.6h0M284.4 839.4h0M269.3 859.0h0M243.8 856.2h0M230.5 869.8h0M253.4 857.6h0M235.9 826.4h0M264.5 828.4h0M253.8 862.9h0M227.5 858.8h0M219.1 876.6h0M257.5 845.3h0M257.2 868.6h0M234.6 879.1h0M241.8 888.1h0M202.3 878.2h0M281.7 859.9h0M207.4 885.0h0M277.0 807.7h0M202.5 867.1h0M251.9 875.5h0M241.5 874.4h0M239.0 867.9h0M241.5 879.6h0M266.7 837.4h0M249.5 834.1h0M255.9 866.1h0M247.0 863.5h0M251.8 856.2h0M215.9 886.7h0M231.7 886.1h0M232.6 868.0h0M230.5 864.9h0M284.0 870.6h0M221.1 814.4h0M189.3 888.9h0M249.5 844.9h0M204.2 891.7h0M239.5 854.8h0M253.2 830.2h0M209.3 882.4h0M282.9 838.5h0M273.7 852.5h0M287.2 876.5h0M246.9 851.3h0M242.3 868.9h0M285.5 848.5h0M281.8 845.1h0M267.3 869.5h0M236.2 873.2h0M222.7 859.9h0M200.6 866.5h0M256.0 856.5h0M255.5 875.7h0M265.7 889.4h0M244.6 858.2h0M246.4 871.9h0M249.9 862.2h0M269.9 871.4h0M273.7 864.9h0M284.7 848.4h0M246.5 877.9h0M281.5 842.5h0M233.1 873.8h0M210.0 856.6h0M241.2 859.9h0M226.0 857.5h0M241.8 852.0h0M277.3 857.3h0M211.8 881.9h0M228.4 863.1h0M243.1 860.5h0M272.9 831.6h0M253.9 870.7h0M289.5 831.9h0M235.6 870.7h0M263.4 856.9h0M263.5 856.8h0M234.9 870.4h0M214.3 876.7h0M224.8 838.6h0M256.2 843.1h0M205.6 885.4h0M210.3 882.3h0M232.8 853.7h0M274.1 833.2h0M218.5 865.5h0M245.0 853.5h0M248.0 851.0h0M248.5 869.2h0M217.3 869.7h0M239.5 851.9h0M274.3 862.4h0M245.7 855.2h0M211.6 856.4h0M259.3 870.4h0M213.5 865.0h0M208.7 866.7h0M221.3 866.1h0M274.4 790.0h0M279.0 869.4h0M198.5 882.1h0M296.8 848.1h0M251.4 872.0h0M257.1 860.5h0M254.7 836.4h0M267.0 819.4h0M285.8 832.3h0M234.6 855.5h0M220.9 875.3h0M235.5 854.0h0M225.3 862.3h0M246.3 824.7h0M239.9 892.1h0M199.6 884.8h0M247.2 878.0h0M217.5 873.4h0M304.7 812.3h0M220.2 874.0h0M294.5 852.6h0M230.2 893.9h0M254.7 855.1h0M234.5 830.7h0M213.5 889.0h0M243.3 832.4h0M276.1 872.8h0M232.5 873.4h0M201.3 897.8h0M217.9 869.8h0M234.7 876.2h0M241.3 867.7h0M235.7 836.9h0M268.4 884.8h0M235.1 854.2h0M219.0 885.8h0M275.0 849.2h0M265.5 814.9h0M238.3 860.6h0M266.7 869.4h0M276.2 853.1h0M263.4 875.4h0M281.7 861.0h0M251.4 876.9h0M234.2 873.3h0M250.7 861.1h0M240.2 839.4h0M220.5 859.8h0M256.1 851.4h0M256.1 863.3h0M209.7 873.9h0M235.6 836.9h0M222.9 878.5h0M252.8 865.8h0M230.1 867.2h0M237.5 764.4h0M253.3 874.7h0M267.2 851.9h0M245.0 845.3h0M234.0 857.7h0M245.1 886.3h0M255.9 864.1h0M242.3 861.5h0M239.2 876.5h0M241.3 859.2h0M289.6 845.5h0M219.7 876.2h0M252.5 881.9h0M275.1 872.7h0M250.0 864.4h0M250.7 864.1h0M254.5 828.0h0M239.6 844.9h0M225.4 846.8h0M247.7 856.7h0M225.9 850.0h0M248.0 840.8h0M275.2 833.3h0M289.3 829.5h0M253.6 873.8h0M259.3 856.9h0M240.0 863.6h0M271.6 863.3h0M263.7 868.8h0M242.9 850.7h0M235.9 877.3h0M310.3 855.6h0M245.9 834.2h0M253.7 881.0h0M261.7 867.0h0M245.3 862.7h0M304.1 828.4h0M283.9 861.7h0M258.3 856.9h0M239.4 833.0h0M250.4 840.7h0M260.1 881.4h0M227.6 884.8h0M245.7 844.7h0M236.7 886.3h0M267.3 874.5h0M199.1 866.4h0M260.5 869.4h0M232.5 875.0h0M255.0 865.8h0M223.4 880.4h0M267.3 842.6h0M259.3 871.5h0M246.2 869.5h0M231.4 862.5h0M291.1 841.4h0M257.0 813.0h0M253.5 877.3h0M199.7 886.5h0M264.2 830.0h0M328.2 837.4h0M298.9 861.1h0M228.2 852.6h0M292.6 835.4h0M261.7 863.6h0M243.0 845.9h0M262.5 856.6h0M239.3 860.1h0M230.5 880.5h0M233.9 824.1h0M213.0 817.3h0M249.1 866.2h0M214.3 898.5h0M229.3 856.2h0M271.6 858.4h0M216.1 891.3h0M229.5 878.7h0M247.9 850.9h0M253.4 889.3h0M264.6 854.8h0M215.8 877.6h0M268.9 871.5h0M237.9 872.2h0M245.0 871.7h0M255.4 831.5h0M258.2 870.7h0M288.6 842.6h0M255.5 837.0h0M224.7 874.7h0M274.8 822.1h0M258.6 867.5h0M245.7 872.7h0M261.2 862.5h0M256.8 848.9h0M215.2 859.6h0M269.8 855.4h0M293.1 834.6h0M262.3 878.7h0M317.1 856.1h0M226.7 885.0h0M222.2 871.3h0M201.2 871.9h0M244.5 852.7h0M277.3 818.8h0M246.4 870.4h0M270.4 755.4h0M225.8 867.3h0M241.8 891.3h0M262.4 765.5h0M261.9 858.6h0M232.5 864.5h0M241.0 876.6h0M234.9 865.1h0M253.8 876.3h0M243.8 883.4h0M239.7 861.9h0M191.6 891.6h0M269.4 831.3h0M259.6 846.3h0M258.9 848.5h0M271.1 860.5h0M264.2 829.8h0M213.3 856.5h0M235.0 860.4h0M255.9 831.5h0M206.6 854.9h0M256.9 834.4h0M243.1 858.9h0M253.4 852.4h0M259.2 832.6h0M213.6 834.1h0M208.7 869.3h0M267.7 822.5h0M210.2 866.1h0M245.7 861.2h0M263.0 871.5h0M226.6 857.5h0M249.7 837.7h0M265.7 847.9h0M258.5 903.6h0M191.7 899.8h0M251.8 864.5h0M240.9 867.9h0M270.0 844.9h0M253.1 846.1h0M287.9 854.3h0M281.7 864.0h0M279.3 832.2h0M281.4 850.9h0M239.9 863.5h0M302.3 820.2h0M245.3 856.2h0M206.5 869.5h0M255.6 850.3h0M283.7 856.4h0M286.8 869.7h0M225.9 892.1h0" stroke="#38383a" stroke-opacity="0.52" stroke-width="1.9" stroke-linecap="round" fill="none"/>
<path d="M119.7 688.1H123M119.7 750.9H123M119.7 819.9H123M119.7 739.8H123M119.7 807.3H123M119.7 732H123M119.7 798.3H123M117.8 725.9H123M117.8 791.4H123M119.7 720.9H123M119.7 785.7H123M119.7 716.7H123M119.7 780.9H123M119.7 713.1H123M119.7 776.7H123M119.7 709.9H123M119.7 773.1H123M119.7 873.7H123M119.7 893.3H123M119.7 869.4H123M119.7 897.9H123M119.7 865.3H123M119.7 902.4H123M117.8 861.2H123M117.8 906.7H123M119.7 857.1H123M119.7 911H123M119.7 853.2H123M119.7 915.3H123M119.7 849.2H123M119.7 919.4H123M119.7 845.4H123M119.7 923.6H123" stroke="#4a4a4c" stroke-width="1.7" fill="none"/>
<path d="M115.8 707H123M115.8 769.8H123M115.8 841.5H123M115.8 927.7H123" stroke="#3c3c3e" stroke-width="2.1" fill="none"/>
<path d="M115.4 876.9H123M116.8 877.8H123M114.8 878.7H123M117.4 879.6H123M115.4 880.5H123M116.8 881.4H123M114.8 882.3H123M117.4 883.2H123M115.4 884.1H123M116.8 885H123M114.8 885.9H123M117.4 886.8H123M115.4 887.7H123M116.8 888.6H123M114.8 889.5H123" stroke="#1f1f21" stroke-width="1.1" fill="none"/>
<path d="M133.5 944.1V948.3M143.4 944.1V948.3M153.4 944.1V948.3M163.3 944.1V948.3M183.2 944.1V948.3M193.2 944.1V948.3M203.1 944.1V948.3M213.1 944.1V948.3M233 944.1V948.3M243 944.1V948.3M252.9 944.1V948.3M262.9 944.1V948.3M282.8 944.1V948.3M292.8 944.1V948.3M302.7 944.1V948.3M312.7 944.1V948.3M332.6 944.1V948.3M342.5 944.1V948.3M352.5 944.1V948.3M362.4 944.1V948.3M382.4 944.1V948.3" stroke="#555557" stroke-width="1.5" fill="none"/>
<path d="M123.5 944.1V951.1M173.3 944.1V951.1M223.1 944.1V951.1M272.8 944.1V951.1M322.6 944.1V951.1M372.4 944.1V951.1" stroke="#4a4a4c" stroke-width="2.1" fill="none"/>
<path d="M126.5 683.5V848.6H381.7" stroke="#707173" stroke-width="1.5" fill="none"/>
<path d="M381.7 683.5V849.4" stroke="#505052" stroke-width="2.1" fill="none"/>
<rect x="123" y="682.4" width="263" height="261.7" stroke="#707173" stroke-width="1.6" fill="none"/>
<text x="111.5" y="711.7" font-size="10.3" text-anchor="end" class="t">10<tspan dy="-4" font-size="8.4">5</tspan></text>
<text x="111.5" y="774.5" font-size="10.3" text-anchor="end" class="t">10<tspan dy="-4" font-size="8.4">4</tspan></text>
<text x="111.5" y="846.2" font-size="10.3" text-anchor="end" class="t">10<tspan dy="-4" font-size="8.4">3</tspan></text>
<text x="111.3" y="887.9" font-size="10.3" text-anchor="end" class="t">0</text>
<text x="113.7" y="932.4" font-size="10.3" text-anchor="end" class="t">−10<tspan dy="-4" font-size="8.4">3</tspan></text>
<text x="123.5" y="963.3" font-size="10.4" text-anchor="middle" class="t">0</text>
<text x="173.3" y="963.3" font-size="10.4" text-anchor="middle" class="t">50K</text>
<text x="223.1" y="963.3" font-size="10.4" text-anchor="middle" class="t">100K</text>
<text x="272.8" y="963.3" font-size="10.4" text-anchor="middle" class="t">150K</text>
<text x="322.6" y="963.3" font-size="10.4" text-anchor="middle" class="t">200K</text>
<text x="372.4" y="963.3" font-size="10.4" text-anchor="middle" class="t">250K</text>
<text transform="translate(254.1 668) scale(1 1.01)" font-size="24.8" text-anchor="middle">ctrl</text>
<text transform="translate(370.3 713.6) scale(1 1.03)" font-size="20.5" text-anchor="end" class="p">18%</text>
<path d="M541.3 852.2h0M558.1 840.7h0M569.9 868.1h0M526.4 866.0h0M532.0 834.0h0M582.3 841.9h0M568.4 728.3h0M542.4 783.2h0M526.3 875.6h0M567.4 761.9h0M538.8 831.9h0M537.3 727.9h0M556.1 860.1h0M533.2 790.4h0M566.2 823.9h0M533.0 824.4h0M583.4 813.1h0M533.8 823.7h0M521.1 867.4h0M543.7 818.3h0M565.2 791.7h0M548.1 826.0h0M569.2 782.6h0M588.3 837.5h0M524.8 880.0h0M528.2 834.6h0M578.5 781.0h0M526.9 847.4h0M513.6 849.9h0M531.1 751.9h0M544.7 854.1h0M567.6 837.2h0M574.0 768.9h0M534.3 801.6h0M553.0 725.3h0M542.3 814.9h0M531.8 830.2h0M539.0 845.5h0M572.1 749.7h0M582.0 790.9h0M568.8 825.3h0M570.1 804.8h0M570.0 747.0h0M567.4 745.3h0M545.0 790.4h0M601.2 739.7h0M625.7 727.9h0M553.8 843.5h0M597.0 733.4h0M542.9 799.5h0M547.3 765.1h0M589.5 858.6h0M553.5 791.1h0M550.6 845.9h0M546.0 863.2h0M565.1 804.1h0M540.4 817.6h0M598.7 761.5h0M608.3 761.9h0M566.8 792.9h0M567.2 766.9h0M577.4 718.7h0M518.9 796.4h0M576.3 826.3h0M577.5 793.0h0M523.8 783.3h0M536.0 877.7h0M568.5 793.5h0M608.4 741.6h0M561.6 877.8h0M512.1 825.7h0M525.6 831.0h0M545.0 793.3h0M581.9 736.3h0M611.4 766.9h0M531.3 866.6h0M549.2 820.1h0M531.9 804.8h0M577.9 808.0h0M564.3 728.6h0M541.4 783.9h0M570.6 838.0h0M580.9 739.5h0M581.8 822.7h0M547.6 786.7h0M586.3 789.0h0M546.8 880.9h0M531.7 850.7h0M559.4 830.1h0M609.5 844.6h0M574.2 829.0h0M535.8 800.5h0M562.5 822.1h0M510.0 779.1h0M579.0 766.2h0M526.1 848.5h0M550.6 790.0h0M531.2 809.2h0M572.5 829.7h0M552.7 820.2h0M562.0 828.6h0M552.9 842.2h0M588.5 753.8h0M509.3 838.8h0M519.6 793.0h0M552.7 745.3h0M598.6 742.6h0M574.1 788.8h0M543.8 787.9h0M583.0 776.0h0M548.3 854.1h0M559.5 738.2h0M564.1 808.1h0M577.2 784.7h0M554.6 797.6h0M515.9 824.0h0M559.1 747.5h0M509.1 866.2h0M564.0 759.6h0M561.8 832.9h0M561.2 754.1h0M546.9 873.2h0M577.7 828.2h0M549.2 864.9h0M533.9 761.8h0M584.3 811.2h0M577.7 819.9h0M552.7 751.0h0M526.2 807.8h0M539.2 853.9h0M598.3 763.0h0M539.6 880.6h0M582.0 875.3h0M578.5 783.6h0M550.1 738.6h0M561.6 827.1h0M574.0 823.5h0M558.0 851.9h0M614.1 734.3h0M507.6 859.5h0M544.1 869.0h0M546.6 850.2h0M542.4 871.4h0M555.6 795.2h0M540.8 827.7h0M586.9 818.3h0M526.8 876.1h0M576.5 815.7h0M534.6 853.1h0M574.7 778.4h0M551.6 784.3h0M544.9 838.9h0M558.8 780.2h0M539.5 715.9h0M606.0 741.3h0M537.8 784.6h0M559.6 789.4h0M572.2 761.4h0M542.3 848.3h0M537.5 803.8h0M548.0 877.2h0M561.9 744.5h0M556.2 776.1h0M550.1 864.7h0M476.7 864.9h0M593.1 759.8h0M583.6 747.3h0M548.6 792.9h0M558.0 786.1h0M562.8 776.2h0M539.5 791.4h0M571.9 798.6h0M528.5 855.0h0M576.5 765.1h0M534.5 773.7h0M559.4 762.8h0M534.0 859.7h0M531.9 810.5h0M574.1 793.3h0M537.3 831.9h0M550.2 842.4h0M541.5 821.1h0M558.8 728.4h0M543.8 835.6h0M542.4 877.1h0M568.7 855.5h0M528.9 819.5h0M548.2 758.7h0M561.1 782.3h0M559.3 867.0h0M557.2 759.1h0M573.5 755.2h0M552.7 868.7h0M574.0 802.9h0M539.2 860.7h0M566.6 826.4h0M561.4 847.6h0M564.4 838.1h0M532.3 781.6h0M584.7 802.0h0M580.8 794.1h0M581.8 772.8h0M568.8 794.5h0M564.8 789.3h0M549.1 858.2h0M532.6 798.7h0M534.0 858.1h0M584.1 777.8h0M511.8 732.8h0M560.2 828.1h0M539.0 879.6h0M538.6 802.3h0M547.5 833.1h0M566.4 778.9h0M573.0 859.9h0M565.5 784.7h0M537.3 832.8h0M555.4 746.9h0M535.1 799.2h0M551.1 870.1h0M587.9 812.9h0M535.3 785.2h0M592.4 788.3h0M559.8 806.3h0M558.8 790.7h0M573.2 831.8h0M551.7 785.7h0M529.3 871.3h0M545.8 746.3h0M563.9 752.2h0M535.4 772.1h0M579.7 792.6h0M540.7 875.3h0M591.5 807.5h0M536.1 851.1h0M547.7 768.6h0M593.8 764.9h0M557.4 820.1h0M566.0 857.2h0M536.9 749.5h0M568.1 787.1h0M527.1 856.3h0M530.2 847.6h0M592.1 863.0h0M540.7 850.3h0M537.8 809.4h0M555.7 759.7h0M583.2 787.5h0M578.9 746.9h0M548.4 773.5h0M563.0 785.9h0M523.1 826.3h0M489.4 842.7h0M566.4 836.6h0M516.2 845.3h0M540.4 812.0h0M577.3 797.5h0M538.8 800.8h0M575.5 808.5h0M543.1 746.5h0M540.7 795.9h0M556.1 858.5h0M568.8 734.8h0M518.3 851.8h0M589.8 734.7h0M550.3 821.1h0M546.7 727.2h0M538.8 825.0h0M531.0 868.2h0M567.7 787.1h0M533.5 791.3h0M560.0 763.5h0M552.8 850.1h0M574.0 775.0h0M557.8 819.8h0M601.9 746.9h0M540.2 783.2h0M548.9 822.1h0M571.9 833.0h0M521.5 857.6h0M541.4 833.7h0M548.0 766.1h0M556.6 838.5h0M586.0 802.4h0M565.1 789.2h0M554.9 869.5h0M576.8 726.9h0M562.7 760.7h0M564.2 779.7h0M559.0 862.6h0M580.7 821.5h0M548.0 815.9h0M545.3 798.1h0M544.5 788.5h0M536.6 880.4h0M537.3 853.9h0M532.3 804.8h0M552.8 821.2h0M529.4 786.2h0M558.2 769.2h0M530.5 790.8h0M552.2 836.5h0M532.2 759.2h0M537.0 898.7h0M541.6 821.1h0M571.8 752.9h0M567.5 845.5h0M571.1 778.0h0M587.9 870.0h0M563.1 800.2h0M596.0 740.9h0M581.5 749.2h0M515.2 850.8h0M591.3 777.4h0M530.1 868.9h0M584.4 745.0h0M549.1 787.8h0M528.4 762.8h0M553.7 782.0h0M527.6 871.9h0M520.8 851.6h0M583.1 798.8h0M525.1 802.2h0M553.9 858.8h0M592.5 867.8h0M583.3 780.5h0M549.0 821.3h0M548.4 841.2h0M568.5 757.0h0M574.9 763.6h0M595.3 743.5h0M556.1 777.5h0M530.6 867.9h0M591.6 769.2h0M564.7 826.0h0M522.1 825.6h0M508.7 871.3h0M517.2 857.3h0M535.9 824.5h0M600.1 744.4h0M566.0 797.4h0M551.0 791.0h0M519.3 851.1h0M548.4 777.1h0M590.8 721.8h0M544.3 878.6h0M572.7 793.8h0M564.3 755.0h0M586.5 781.7h0M568.1 749.8h0M542.6 815.7h0M601.2 764.8h0M602.9 844.9h0M532.5 783.4h0M577.9 800.8h0M576.0 782.9h0M580.4 770.5h0M586.8 738.2h0M522.8 866.5h0M542.2 767.1h0M559.6 853.8h0M554.6 787.2h0M567.4 786.6h0M541.1 804.8h0M554.5 782.3h0M599.3 804.0h0M593.5 757.6h0M591.0 742.1h0M573.5 744.7h0M560.1 871.3h0M574.7 803.8h0M550.3 809.6h0M539.6 864.5h0M536.5 853.6h0M529.4 767.6h0M578.0 765.4h0M561.7 776.4h0M516.6 827.0h0M556.8 827.1h0M563.9 795.7h0M550.6 798.1h0M571.4 737.2h0M574.6 821.3h0M534.2 721.2h0M532.3 767.5h0M550.3 877.5h0M552.1 798.9h0M524.4 819.2h0M555.2 743.1h0M561.5 871.5h0M549.6 832.0h0M541.9 883.3h0M538.5 782.8h0M535.0 804.7h0M543.2 865.2h0M529.1 806.6h0M559.4 784.7h0M534.5 851.2h0M553.7 813.8h0M552.6 875.8h0M567.3 815.7h0M565.6 783.2h0M530.8 822.7h0M560.8 792.0h0M570.3 779.8h0M557.4 884.4h0M557.7 807.7h0M547.5 759.1h0M576.1 756.5h0M579.1 858.7h0M596.3 718.8h0M575.7 861.3h0M579.0 877.7h0M528.9 781.8h0M562.1 847.7h0M541.4 804.2h0M551.5 801.1h0M561.4 822.5h0M584.9 743.0h0M595.5 781.5h0M582.0 780.5h0M556.0 804.9h0M573.2 714.4h0M565.7 786.9h0M535.9 873.0h0M549.1 817.7h0M549.0 767.1h0M502.6 818.9h0M537.9 745.8h0M552.4 845.4h0M547.5 869.9h0M512.7 773.2h0M589.2 751.5h0M544.4 853.5h0M540.8 808.2h0M545.6 803.8h0M557.3 713.1h0M568.8 867.8h0M558.5 869.6h0M568.3 744.1h0M557.2 838.7h0M560.1 809.7h0M546.5 777.9h0M548.8 861.4h0M566.3 837.8h0M542.1 859.2h0M570.2 809.5h0M551.8 863.3h0M547.8 805.1h0M549.3 801.6h0M587.5 861.2h0M583.8 743.1h0M562.6 822.0h0M595.5 759.8h0M551.4 871.5h0M561.5 853.4h0M525.8 874.1h0M483.3 853.1h0M525.9 746.1h0M525.4 787.5h0M540.1 859.2h0M528.0 768.4h0M579.2 730.8h0M548.2 820.4h0M597.9 729.6h0M570.9 875.1h0M578.5 722.7h0M561.2 782.4h0M568.6 747.7h0M554.4 783.7h0M561.9 746.5h0M564.3 753.5h0M582.1 791.9h0M513.7 879.1h0M537.1 814.1h0M544.7 793.3h0M541.7 849.8h0M562.1 762.4h0M547.2 856.1h0M508.4 863.1h0M584.1 777.9h0M550.3 834.4h0M573.0 798.0h0M553.3 755.5h0M519.1 853.9h0M557.5 838.2h0M545.0 802.9h0M626.5 732.9h0M579.6 758.9h0M542.2 777.7h0M569.0 722.3h0M535.2 828.9h0M570.7 854.8h0M529.1 829.5h0M558.5 865.6h0M577.5 719.7h0M579.3 833.0h0M549.3 762.3h0M545.5 822.7h0M511.7 807.2h0M550.7 763.1h0M555.5 745.8h0M535.4 762.8h0M528.1 801.5h0M561.7 805.7h0M547.8 872.1h0M528.3 795.4h0M568.3 857.9h0M551.3 794.6h0M533.5 774.5h0M525.6 824.7h0M575.0 779.7h0M544.5 790.7h0M583.8 804.7h0M569.4 858.1h0M530.7 775.0h0M553.5 741.4h0M557.1 824.8h0M551.5 789.9h0M537.7 798.5h0M535.3 759.4h0M582.9 789.1h0M576.3 758.3h0M574.2 794.3h0M575.8 784.3h0M554.7 864.3h0M546.9 835.5h0M551.0 863.0h0M609.8 726.0h0M551.8 838.1h0M557.0 812.1h0M535.3 834.0h0M521.6 867.4h0M576.2 735.2h0M528.3 803.5h0M538.7 768.7h0M536.6 811.1h0M537.3 802.5h0M552.2 817.6h0M561.7 796.1h0M558.3 876.5h0M546.3 754.7h0M520.0 879.0h0M528.6 799.8h0M546.6 811.2h0M511.6 824.6h0M551.5 808.0h0M519.2 862.7h0M564.8 849.7h0M501.6 858.2h0M558.9 854.0h0M595.8 754.7h0M525.8 868.1h0M560.9 791.2h0M563.7 760.6h0M570.1 884.8h0M530.4 854.4h0M591.5 757.3h0M555.6 827.1h0M551.1 809.7h0M541.8 806.5h0M565.8 796.5h0M547.9 781.8h0M512.0 858.7h0M570.8 853.1h0M548.3 794.6h0M588.5 778.9h0M564.7 819.5h0M575.5 767.9h0M575.4 776.9h0M557.2 763.9h0M593.3 782.8h0M544.1 847.8h0M547.8 805.8h0M582.9 787.1h0M581.1 740.4h0M517.4 846.8h0M589.8 709.2h0M543.1 848.4h0M546.3 787.5h0M563.1 833.9h0M562.0 815.9h0M573.8 808.4h0M577.6 776.7h0M546.4 861.5h0M538.3 799.5h0M554.8 810.9h0M521.9 824.6h0M544.1 807.7h0M519.6 856.1h0M593.6 779.8h0M567.6 859.2h0M584.9 767.1h0M518.6 855.2h0M558.0 724.8h0M562.7 807.3h0M581.1 723.4h0M550.6 812.9h0M587.2 872.3h0M541.5 754.8h0M609.6 800.6h0M545.7 857.4h0M518.7 809.1h0M557.5 769.6h0M596.7 708.6h0M551.4 848.0h0M532.7 797.8h0M584.1 797.0h0M572.0 828.8h0M566.7 739.4h0M530.8 853.5h0M548.2 881.1h0M536.6 804.0h0M551.3 786.6h0M565.2 786.0h0M578.4 751.3h0M535.1 888.4h0M553.9 812.6h0M576.3 829.2h0M562.4 745.1h0M582.4 763.5h0M553.9 787.8h0M569.4 796.5h0M532.1 838.6h0M537.1 839.4h0M564.5 856.6h0M578.5 855.3h0M520.2 874.2h0M526.1 838.5h0M580.0 767.1h0M578.9 796.4h0M581.3 846.2h0M613.3 751.5h0M541.2 879.8h0M514.3 859.7h0M584.7 738.3h0M567.3 747.7h0M546.8 855.8h0M530.8 855.9h0M562.0 790.4h0M526.4 873.4h0M560.3 860.1h0M551.6 768.8h0M528.6 818.8h0M581.9 813.6h0M550.9 770.4h0M530.5 782.6h0M549.6 764.9h0M559.0 773.8h0M542.2 803.1h0M573.2 803.2h0M522.8 826.8h0M529.7 794.5h0M577.1 788.8h0M537.4 847.0h0M576.7 745.3h0M543.5 870.9h0M529.0 792.7h0M522.7 775.2h0M583.1 756.5h0M508.5 864.7h0M550.1 801.7h0M565.8 767.2h0M563.9 796.0h0M535.2 784.1h0M588.1 727.3h0M546.2 815.8h0M582.3 779.9h0M497.8 832.5h0M558.3 848.4h0M536.2 856.6h0M548.9 833.7h0M561.3 823.2h0M564.2 850.5h0M562.1 763.3h0M566.7 756.6h0M561.3 788.4h0M520.0 834.1h0M547.5 799.5h0M544.8 862.0h0" stroke="#38383a" stroke-opacity="0.52" stroke-width="1.9" stroke-linecap="round" fill="none"/>
<path d="M570.1 756.6h0M560.3 820.9h0M533.3 788.2h0M548.7 805.4h0M536.6 791.7h0M561.4 732.5h0M538.4 820.1h0M581.9 724.2h0M562.0 801.1h0M555.5 775.4h0M559.7 774.2h0M506.7 873.7h0M573.0 730.7h0M545.5 806.7h0M519.3 852.6h0M500.5 807.6h0M574.0 860.2h0M529.2 862.9h0M582.5 756.8h0M567.0 764.1h0M511.5 874.1h0M557.0 764.6h0M533.5 853.7h0M552.6 837.0h0M530.6 835.8h0M563.3 769.2h0M558.3 820.2h0M554.3 776.2h0M544.8 780.2h0M545.3 808.9h0M534.3 879.6h0M565.0 761.2h0M569.0 808.8h0M549.8 767.9h0M538.3 769.3h0M592.2 788.1h0M554.0 801.1h0M585.2 714.5h0M545.0 840.6h0M545.8 801.1h0M568.4 782.8h0M544.6 853.4h0M594.1 763.7h0M583.6 701.6h0M550.5 795.3h0M568.0 811.3h0M536.5 815.3h0M549.3 799.3h0M544.5 792.8h0M520.0 812.6h0M529.7 845.7h0M530.3 832.7h0M563.0 791.3h0M562.7 850.6h0M553.2 853.4h0M579.2 746.7h0M564.2 759.8h0M564.1 754.1h0M512.5 848.9h0M537.9 767.3h0M577.7 801.8h0M575.6 839.4h0M544.7 807.8h0M530.4 732.8h0M531.3 825.7h0M565.5 867.7h0M511.5 868.2h0M515.5 772.9h0M570.6 862.8h0M558.6 811.6h0M552.1 714.9h0M505.3 793.0h0M549.8 803.5h0M530.0 819.3h0M596.9 779.1h0M541.0 852.9h0M555.4 854.5h0M568.0 800.3h0M585.5 769.2h0M604.1 734.7h0M590.1 716.4h0M537.0 751.0h0M561.0 799.4h0M562.7 772.7h0M547.5 841.5h0M552.2 780.0h0M547.8 852.7h0M546.0 789.8h0M564.4 793.4h0M607.2 758.8h0M524.0 872.6h0M540.8 861.3h0M577.5 858.0h0M599.2 779.5h0M567.8 831.0h0M572.5 825.2h0M593.6 748.4h0M511.2 876.7h0M519.2 836.8h0M574.8 724.4h0M520.9 850.8h0M563.7 832.3h0M556.0 853.4h0M559.1 855.3h0M566.9 736.9h0M513.9 800.1h0M598.1 763.2h0M596.0 727.6h0M534.1 817.0h0M559.4 776.6h0M581.9 782.3h0M554.7 793.7h0M535.5 837.7h0M553.9 756.4h0M591.0 757.4h0M561.5 848.9h0M564.9 799.1h0M568.6 854.5h0M564.1 816.5h0M549.2 842.9h0M548.1 778.4h0M571.3 768.7h0M558.2 807.6h0M555.0 746.8h0M569.8 810.1h0M559.6 785.5h0M560.5 806.0h0M523.3 818.9h0M581.0 765.9h0M506.2 841.4h0M574.5 768.1h0M567.1 840.3h0M558.6 813.7h0M581.8 818.7h0M543.6 807.7h0M557.3 851.3h0M569.6 729.4h0M551.9 841.6h0M557.9 791.4h0M571.5 757.9h0M525.6 774.6h0M576.8 730.8h0M544.3 793.2h0M610.7 791.8h0M508.4 856.2h0M573.5 773.3h0M552.8 730.9h0M581.4 805.8h0M574.0 791.1h0M559.3 798.8h0M544.3 860.4h0M542.8 742.8h0M535.7 853.0h0M601.6 791.1h0M582.8 747.7h0M552.6 764.3h0M570.3 798.2h0M553.6 831.6h0M595.9 788.5h0M523.5 871.0h0M550.5 849.9h0M585.2 869.1h0M568.4 858.6h0M587.1 758.0h0M579.8 826.7h0M527.7 852.4h0M522.9 849.7h0M575.5 725.7h0M545.0 801.5h0M554.4 781.1h0M567.1 804.7h0M581.7 816.0h0M534.9 828.5h0M544.2 787.0h0M537.2 770.3h0M529.6 758.7h0M525.8 845.7h0M512.4 843.6h0M535.4 813.4h0M554.1 755.3h0M557.5 822.9h0M563.2 792.8h0M570.1 777.8h0M544.3 839.6h0M543.1 829.7h0M528.0 788.7h0M559.7 730.5h0M578.5 858.1h0M542.8 835.4h0M600.8 736.8h0M592.2 833.9h0M569.3 780.7h0M553.3 822.6h0M535.0 782.5h0M509.1 776.4h0M560.5 781.3h0M578.7 794.0h0M557.2 850.3h0M559.5 761.8h0M539.6 822.1h0M576.5 774.1h0M556.3 781.6h0M531.0 800.0h0M574.1 850.9h0M574.8 739.8h0M536.2 757.0h0M583.8 762.3h0M545.6 847.7h0M622.4 753.8h0M560.4 815.6h0M576.7 735.4h0M518.1 866.2h0M519.6 744.5h0M549.8 724.1h0M541.3 801.8h0M559.6 812.6h0M536.0 866.0h0M559.4 825.4h0M532.9 873.5h0M546.2 773.2h0M548.8 793.2h0M556.9 759.0h0M613.9 792.1h0M552.6 856.0h0M572.5 810.0h0M510.8 748.9h0M546.6 788.5h0M527.8 889.2h0M598.2 768.6h0M591.9 806.6h0M550.5 835.3h0M572.6 748.0h0M549.4 818.6h0M532.7 736.8h0M550.2 778.7h0M563.3 769.5h0M511.0 807.3h0M545.9 802.3h0M587.7 771.6h0M524.7 791.6h0M554.9 790.0h0M525.4 852.8h0M582.5 730.1h0M559.3 803.8h0M526.7 812.5h0M506.3 875.1h0M554.9 786.6h0M589.7 806.1h0M585.4 786.4h0M505.9 784.0h0M563.4 811.4h0M554.1 817.1h0M519.6 773.7h0M590.6 835.9h0M544.2 845.5h0M566.2 872.8h0M519.1 872.7h0M576.5 841.8h0M545.8 869.9h0M544.4 782.5h0M609.0 769.8h0M569.2 841.9h0M559.5 797.6h0M553.0 838.3h0M533.3 831.1h0M511.6 804.8h0M541.4 877.2h0M526.1 801.9h0M580.4 794.3h0M569.8 769.8h0M596.7 755.2h0M553.4 842.4h0M592.8 764.5h0M576.2 773.8h0M577.1 742.5h0M509.4 840.8h0M568.2 802.4h0M557.1 807.7h0M543.0 792.4h0M589.2 773.3h0M539.6 800.7h0M540.6 834.1h0M504.4 824.1h0M546.5 797.0h0M555.3 797.3h0M550.1 847.1h0M584.9 714.4h0M562.7 817.7h0M596.7 773.9h0M591.3 757.8h0M567.1 770.8h0M514.2 823.3h0M581.4 745.7h0M542.3 840.0h0M574.5 815.9h0M553.6 866.8h0M542.2 812.6h0M541.1 814.0h0M558.5 779.8h0M564.4 759.7h0M524.2 860.4h0M534.1 820.4h0M525.5 779.4h0M574.0 866.1h0M556.3 777.4h0M589.2 850.8h0M531.7 858.2h0M543.3 860.4h0M594.8 749.9h0M563.2 816.7h0M571.8 716.2h0M571.8 750.9h0M559.2 771.3h0M582.7 843.6h0M550.0 818.3h0M588.5 746.4h0M530.1 844.1h0M561.8 743.3h0M552.4 779.6h0M515.7 845.0h0M548.1 824.2h0M585.1 884.6h0M597.1 759.7h0M566.6 719.0h0M551.2 853.6h0M543.1 850.2h0M560.0 810.2h0M561.8 793.1h0M593.4 875.6h0M535.9 803.3h0M530.1 837.7h0M546.9 847.0h0M582.9 765.9h0M567.9 793.2h0M540.2 812.1h0M499.9 848.9h0M568.2 761.6h0M548.3 747.7h0M568.1 811.9h0M560.2 848.8h0M548.0 821.5h0M587.3 878.5h0M561.5 838.6h0M544.4 843.4h0M557.2 756.7h0M533.3 826.0h0M604.6 786.7h0M515.1 866.8h0M568.4 786.5h0M575.9 826.5h0M517.5 803.4h0M535.3 808.3h0M554.3 877.9h0M554.1 756.7h0M547.1 850.0h0M559.6 838.6h0M564.5 762.3h0M553.2 792.9h0M559.2 815.1h0M557.7 837.4h0M598.3 746.0h0M516.5 881.7h0M509.6 858.2h0M571.0 765.5h0M557.2 801.3h0M547.8 877.7h0M551.0 830.8h0M575.9 725.0h0M533.3 791.6h0M565.8 861.4h0M517.4 847.3h0M550.6 794.7h0M558.8 816.1h0M558.0 841.6h0M590.6 739.0h0M601.5 735.8h0M588.9 798.5h0M596.9 854.4h0M543.9 870.0h0M534.3 853.7h0M608.4 780.1h0M482.3 802.6h0M535.4 835.3h0M600.8 751.8h0M552.8 860.0h0M563.6 807.8h0M577.0 782.1h0M571.8 748.3h0M571.0 787.4h0M539.1 836.9h0M545.1 761.3h0M549.8 809.8h0M527.6 739.9h0M548.2 854.5h0M588.9 724.6h0M538.3 835.2h0M539.2 788.3h0M522.9 824.0h0M537.3 854.5h0M543.5 765.0h0M524.4 866.1h0M609.1 706.4h0M568.1 798.4h0M517.7 785.8h0M565.9 760.3h0M557.6 870.4h0M543.7 788.3h0M578.7 806.7h0M522.4 843.2h0M538.6 785.7h0M565.6 824.6h0M553.4 779.5h0M563.9 847.5h0M556.4 800.6h0M576.1 737.0h0M535.1 794.7h0M549.8 840.4h0M541.5 864.8h0M545.0 764.7h0M531.2 842.8h0M560.7 768.2h0M559.1 867.4h0M556.4 817.0h0M531.4 849.6h0M556.4 789.2h0M537.7 819.2h0M565.7 805.0h0M540.0 772.4h0M551.8 753.5h0M537.2 842.0h0M544.2 836.6h0M566.3 754.2h0M545.3 882.1h0M531.4 824.6h0M517.6 868.6h0M565.9 759.8h0M543.4 866.0h0M576.8 739.9h0M524.7 840.3h0M589.9 810.3h0M559.3 808.5h0M535.4 754.6h0M608.4 731.3h0M568.4 796.5h0M564.3 831.0h0M548.9 801.5h0M562.6 835.9h0M558.0 829.2h0M551.8 793.9h0M542.3 760.7h0M532.3 799.6h0M565.9 822.4h0M551.3 790.1h0M537.1 810.6h0M577.1 720.0h0M567.7 856.0h0M531.1 849.4h0M580.3 822.9h0M556.9 772.8h0M547.0 744.5h0M591.3 748.9h0M536.0 811.4h0M520.3 756.6h0M527.9 820.0h0M578.8 882.3h0M582.2 790.0h0M569.3 763.4h0M567.2 791.6h0M533.0 847.1h0M588.0 809.2h0M577.5 764.9h0M556.7 776.6h0M567.4 819.1h0M557.9 840.2h0M528.2 835.9h0M584.5 775.7h0M520.4 851.2h0M549.5 850.5h0M573.9 853.4h0M510.0 874.0h0M550.8 851.6h0M564.3 794.2h0M554.9 759.3h0M543.1 804.0h0M612.4 741.9h0M513.7 790.5h0M571.4 844.2h0M597.3 769.0h0M569.8 818.7h0M566.4 839.5h0M511.0 777.4h0M535.0 809.4h0M544.9 797.2h0M533.9 799.9h0M559.2 856.9h0M585.2 775.0h0M569.8 736.0h0M548.5 811.4h0M578.2 817.0h0M561.2 844.5h0M559.1 874.8h0M574.7 830.3h0M564.6 768.4h0M557.9 793.2h0M540.6 765.6h0M549.9 744.6h0M554.8 762.8h0M548.3 826.4h0M562.6 835.5h0M549.0 790.9h0M567.8 742.4h0M574.2 768.1h0M566.2 693.0h0M543.8 874.8h0M544.0 830.3h0M533.4 778.8h0M556.5 875.4h0M545.8 860.0h0M553.3 821.3h0M556.2 874.3h0M537.1 817.2h0M525.5 866.6h0M552.9 819.5h0M533.6 806.0h0M522.4 880.4h0M554.7 864.7h0M539.2 788.5h0M547.1 817.5h0M573.1 758.1h0M553.6 752.2h0M561.5 790.4h0M521.8 863.9h0M521.7 839.5h0M561.0 761.8h0M542.9 757.8h0M573.5 794.1h0M558.5 780.4h0M555.4 864.7h0M564.1 802.2h0M573.2 741.0h0M533.7 872.2h0M557.2 786.3h0M570.0 776.7h0M520.6 803.8h0M547.0 853.7h0M626.6 774.6h0M551.9 797.1h0M569.3 741.8h0M559.4 826.0h0M555.5 764.6h0M608.5 757.6h0M613.8 731.4h0M563.5 813.7h0M550.8 864.7h0M571.5 817.4h0M573.5 744.9h0M542.0 852.4h0M590.4 790.7h0M548.3 753.0h0M586.8 842.1h0M578.2 792.8h0M541.9 772.3h0M569.4 787.9h0M532.5 870.6h0M554.2 795.3h0M580.0 783.3h0M546.6 820.3h0M542.5 780.7h0M532.7 818.6h0M552.6 813.6h0M542.2 764.2h0M518.5 828.7h0M544.5 805.7h0M555.4 882.1h0M559.7 813.0h0M563.3 810.1h0M545.0 828.3h0M546.8 824.1h0M553.8 807.5h0M572.7 825.0h0M574.8 742.6h0M533.9 753.4h0M591.0 779.9h0M520.5 797.6h0M544.0 780.7h0M580.0 853.3h0M545.0 772.3h0M564.8 798.0h0M567.2 842.2h0M525.4 706.5h0M576.3 847.6h0M543.7 776.8h0M558.3 850.2h0M584.4 791.5h0M580.7 778.0h0M531.6 795.9h0M528.3 782.3h0M590.3 789.7h0M556.5 737.6h0M551.5 847.2h0M577.8 803.8h0M517.1 824.1h0M543.5 793.2h0M571.5 773.5h0M569.0 753.0h0M543.8 749.9h0M586.4 783.6h0M541.9 790.6h0M558.8 752.5h0M565.8 799.0h0M543.9 791.3h0M553.5 820.7h0M528.9 748.9h0M551.8 854.7h0M531.6 859.6h0M564.7 771.3h0M565.5 833.9h0M537.2 798.7h0M557.9 821.5h0M572.7 743.6h0M547.3 813.3h0M507.7 831.9h0M546.8 864.7h0M601.2 746.7h0M511.8 830.6h0M569.5 773.4h0M553.7 746.3h0M583.0 784.6h0M557.5 855.0h0M578.5 721.4h0M538.8 795.7h0M564.3 860.1h0M553.4 739.3h0M564.1 708.8h0M565.6 786.9h0M561.7 776.1h0M543.0 772.1h0M571.6 739.4h0M578.1 762.2h0M582.3 757.6h0M580.8 870.0h0M566.3 852.6h0M617.1 760.3h0M555.1 875.9h0M614.3 748.0h0M538.0 810.6h0M592.1 715.6h0M579.5 778.5h0M560.7 836.3h0M557.0 776.0h0M539.9 861.0h0M575.0 878.6h0M510.6 881.0h0M555.6 778.1h0M542.8 804.7h0M574.3 776.1h0M532.9 801.2h0M547.2 769.1h0M530.3 784.5h0M561.9 817.3h0M517.5 800.7h0M517.5 768.4h0M575.0 744.8h0M557.0 844.9h0M529.7 817.9h0M552.0 871.3h0M579.1 778.2h0M545.5 771.7h0M557.8 859.5h0M620.1 740.7h0M555.6 814.4h0M550.0 778.6h0M575.4 783.5h0M624.6 722.0h0M574.2 817.9h0M555.0 844.9h0M543.6 741.3h0M551.2 839.5h0M567.3 803.6h0M588.4 751.7h0" stroke="#38383a" stroke-opacity="0.52" stroke-width="1.9" stroke-linecap="round" fill="none"/>
<path d="M562.3 792.6h0M583.1 825.9h0M513.1 784.8h0M590.5 780.4h0M560.0 784.1h0M537.9 814.4h0M553.5 771.6h0M553.4 774.4h0M566.9 777.6h0M539.4 866.8h0M533.5 761.8h0M557.0 802.1h0M529.1 850.8h0M523.9 859.7h0M558.4 857.9h0M560.3 842.0h0M544.5 840.0h0M604.3 753.9h0M581.8 788.4h0M544.4 840.8h0M552.0 838.0h0M568.0 817.5h0M559.6 880.5h0M564.7 769.4h0M552.0 816.6h0M567.7 805.9h0M528.0 773.2h0M549.8 777.7h0M548.4 882.0h0M571.3 797.2h0M570.6 747.4h0M551.0 774.3h0M517.5 859.7h0M560.2 862.8h0M519.6 793.2h0M555.3 752.3h0M556.4 780.7h0M559.1 864.8h0M578.6 849.4h0M576.7 726.4h0M545.1 852.3h0M521.2 784.0h0M554.4 867.7h0M528.9 875.1h0M532.6 846.5h0M563.6 770.1h0M565.0 692.0h0M546.1 811.5h0M547.3 776.1h0M561.8 855.5h0M524.9 741.2h0M565.1 754.5h0M553.7 828.4h0M557.9 802.7h0M574.3 766.9h0M552.3 782.5h0M561.3 861.9h0M566.7 845.6h0M543.8 799.9h0M543.5 788.6h0M581.1 750.5h0M533.8 776.3h0M546.4 750.4h0M569.8 763.2h0M562.3 825.1h0M576.8 726.8h0M535.9 858.1h0M597.4 742.4h0M531.4 856.2h0M545.8 809.9h0M579.5 796.7h0M557.9 787.3h0M558.1 818.7h0M552.9 885.2h0M560.0 738.6h0M560.0 724.6h0M572.8 828.8h0M542.9 825.9h0M583.9 739.3h0M564.8 789.3h0M561.1 790.5h0M554.8 813.3h0M549.4 859.1h0M600.9 755.0h0M578.2 733.2h0M548.0 769.9h0M551.0 742.6h0M556.5 880.9h0M513.4 827.8h0M564.8 767.2h0M540.4 795.0h0M569.1 824.7h0M593.0 746.9h0M565.0 755.3h0M549.2 813.9h0M558.0 803.0h0M556.3 830.3h0M542.4 779.2h0M570.4 818.0h0M543.6 812.5h0M532.5 851.9h0M534.5 856.3h0M551.8 803.9h0M574.0 840.8h0M543.1 791.7h0M566.7 872.0h0M520.3 806.1h0M569.3 816.9h0M526.2 874.4h0M566.5 736.0h0M563.8 774.3h0M593.1 822.6h0M565.2 744.5h0M577.5 729.0h0M555.1 801.7h0M553.5 865.1h0M555.5 839.1h0M567.7 809.5h0M538.5 844.6h0M564.3 806.0h0M520.6 833.6h0M600.0 741.8h0M552.1 762.5h0M583.9 785.4h0M579.6 774.9h0M572.1 799.8h0M551.3 859.3h0M539.1 790.6h0M586.9 823.5h0M514.5 863.2h0M521.5 826.2h0M571.9 818.8h0M546.8 871.2h0M574.5 831.0h0M564.7 849.1h0M590.3 792.7h0M517.0 871.9h0M568.7 826.9h0M543.3 775.9h0M571.0 840.7h0M548.4 770.1h0M588.1 808.0h0M533.9 792.0h0M565.3 850.4h0M557.0 845.2h0M541.4 817.9h0M576.7 778.9h0M570.4 755.6h0M558.6 820.8h0M581.8 801.1h0M591.0 751.2h0M565.2 852.7h0M548.8 801.0h0M541.3 743.5h0M565.0 823.9h0M545.5 783.2h0M604.6 781.0h0M556.3 848.3h0M529.0 873.3h0M539.1 876.0h0M559.8 862.8h0M587.3 740.2h0M511.1 836.4h0M595.7 845.8h0M535.8 853.8h0M539.5 740.6h0M544.6 774.6h0M547.6 789.3h0M531.9 753.1h0M581.3 802.6h0M556.9 783.7h0M534.1 863.2h0M554.9 856.1h0M544.7 845.7h0M573.9 762.0h0M544.2 827.3h0M519.1 863.1h0M540.9 812.9h0M582.3 753.7h0M550.5 800.9h0M546.9 752.7h0M576.4 830.3h0M557.6 838.6h0M581.6 772.7h0M546.3 863.4h0M525.4 830.7h0M554.8 825.0h0M583.6 714.2h0M569.7 754.2h0M575.4 780.7h0M541.4 778.1h0M555.2 754.1h0M563.3 788.3h0M556.9 809.2h0M586.7 738.8h0M570.4 750.5h0M591.1 776.0h0M590.9 803.8h0M583.0 734.5h0M551.1 803.5h0M557.4 819.2h0M558.3 813.2h0M595.5 753.3h0M545.2 813.0h0M564.1 749.0h0M533.3 759.9h0M547.6 868.8h0M581.8 785.3h0M544.9 869.1h0M548.4 765.4h0M536.3 794.2h0M567.2 814.7h0M586.6 761.9h0M559.5 756.5h0M583.7 730.7h0M567.2 745.9h0M565.2 812.7h0M535.9 830.0h0M563.9 789.5h0M537.8 842.3h0M522.4 872.9h0M528.7 819.7h0M551.5 742.6h0M556.8 826.1h0M543.4 752.3h0M551.1 859.1h0M622.8 722.0h0M575.7 744.0h0M570.0 802.8h0M555.6 780.1h0M580.9 809.6h0M563.8 741.8h0M589.5 809.2h0M566.2 790.1h0M577.9 792.9h0M591.0 735.7h0M557.1 788.4h0M566.0 746.4h0M518.7 844.3h0M535.9 823.2h0M546.3 800.2h0M528.6 860.3h0M547.6 828.4h0M565.0 802.6h0M553.5 809.8h0M532.2 841.6h0M520.2 850.4h0M571.3 804.7h0M553.1 839.6h0M553.5 838.2h0M549.9 760.1h0M554.4 869.5h0M555.2 807.7h0M553.4 733.8h0M568.6 814.9h0M532.4 733.3h0M572.6 787.6h0M542.8 813.0h0M549.6 750.9h0M522.8 818.1h0M614.5 748.5h0M552.7 816.2h0M557.6 765.3h0M548.6 855.6h0M531.7 851.5h0M555.8 765.2h0M549.4 739.1h0M543.4 758.6h0M540.7 808.1h0M509.1 847.6h0M524.7 802.2h0M586.1 730.3h0M584.9 793.1h0M532.1 804.2h0M557.2 830.8h0M547.1 876.2h0M554.4 816.5h0M582.9 772.9h0M547.7 843.7h0M550.3 871.7h0M509.0 865.8h0M575.6 860.0h0M547.4 875.5h0M543.4 838.6h0M533.0 868.0h0M539.3 834.0h0M548.7 802.1h0M562.0 856.2h0M581.2 750.8h0M541.5 795.8h0M564.3 873.6h0M526.8 852.7h0M535.7 802.0h0M558.5 802.0h0M556.4 794.8h0M539.7 795.4h0M543.1 853.7h0M567.2 783.6h0M550.0 837.7h0M538.1 842.0h0M546.3 757.7h0M528.9 863.4h0M547.1 768.3h0M538.7 867.9h0M540.0 780.2h0M561.5 794.1h0M554.5 781.8h0M587.2 730.1h0M587.1 733.7h0M538.6 760.7h0M535.3 810.1h0M532.7 841.2h0M571.6 870.8h0M542.5 792.7h0M559.3 790.2h0M606.7 832.6h0M538.3 799.0h0M509.5 873.5h0M543.5 791.6h0M573.1 818.8h0M577.3 805.8h0M569.7 854.9h0M566.9 843.1h0M525.7 784.8h0M587.2 766.2h0M528.3 874.4h0M563.7 782.9h0M555.0 777.7h0M536.2 845.6h0M539.9 849.4h0M526.3 866.8h0M531.1 777.6h0M541.9 753.9h0M572.9 775.6h0M556.0 852.9h0M550.2 815.5h0M535.4 864.5h0M539.0 810.1h0M566.3 823.4h0M588.8 767.1h0M571.8 757.6h0M556.9 844.4h0M566.9 820.1h0M570.3 781.0h0M553.6 795.3h0M538.8 858.3h0M567.5 786.3h0M547.8 838.6h0M535.5 806.9h0M569.3 820.0h0M565.1 856.2h0M531.4 846.7h0M558.4 882.6h0M585.8 728.9h0M546.6 851.6h0M549.6 842.9h0M539.5 805.8h0M587.1 873.1h0M575.8 798.1h0M531.9 792.8h0M539.5 827.7h0M527.5 856.1h0M549.9 875.2h0M558.8 777.9h0M544.4 754.4h0M568.7 773.8h0M561.1 800.2h0M540.1 802.8h0M574.9 814.7h0M535.0 867.4h0M578.6 835.6h0M566.1 776.1h0M552.7 833.3h0M503.8 864.7h0M553.2 842.1h0M577.7 725.7h0M525.1 786.7h0M505.3 834.6h0M544.0 821.0h0M515.1 877.1h0M532.1 859.0h0M602.2 738.2h0M541.7 858.6h0M566.3 863.7h0M527.6 789.2h0M566.9 769.5h0M599.2 712.8h0M555.4 849.7h0M545.9 786.3h0M585.2 719.4h0M537.7 791.0h0M507.3 860.2h0M540.3 848.7h0M577.6 743.5h0M574.9 850.9h0M562.7 741.6h0M556.8 748.7h0M550.5 805.0h0M512.3 842.4h0M539.5 857.7h0M566.1 795.7h0M536.8 781.4h0M550.9 887.7h0M585.0 789.2h0M569.5 811.5h0M547.8 813.9h0M558.0 825.2h0M551.2 780.6h0M518.6 791.4h0M567.4 810.7h0M609.6 743.9h0M505.6 872.1h0M547.9 847.1h0M533.5 859.9h0M558.9 729.1h0M532.4 779.1h0M547.9 869.9h0M552.3 816.1h0M567.2 765.6h0M544.3 806.1h0M570.3 852.5h0M553.3 841.0h0M609.5 721.3h0M545.5 837.3h0M552.6 857.4h0M550.2 860.7h0M535.0 790.1h0M546.3 792.5h0M544.4 800.1h0M530.9 796.5h0M538.1 770.8h0M559.6 766.2h0M528.8 809.2h0M585.6 795.5h0M545.5 780.1h0M562.0 761.3h0M564.0 826.5h0M559.0 820.6h0M562.2 820.2h0M551.1 843.8h0M546.7 795.3h0M534.7 794.7h0M566.2 738.1h0M505.8 765.1h0M526.9 809.2h0M572.1 819.7h0M541.8 850.3h0M548.5 754.3h0M602.6 783.9h0M572.4 761.7h0M559.1 820.0h0M542.5 878.4h0M582.5 752.1h0M562.3 795.3h0M612.0 860.1h0M555.9 860.0h0M563.5 750.6h0M556.8 859.9h0M583.5 769.3h0M520.6 807.4h0M553.0 808.8h0M554.6 803.2h0M557.0 797.2h0M533.3 857.0h0M550.9 835.9h0M510.4 882.4h0M535.2 862.8h0M530.1 806.0h0M599.9 752.7h0M542.3 834.4h0M542.4 792.8h0M545.3 758.3h0M584.8 803.2h0M580.1 738.5h0M565.3 776.7h0M572.9 821.2h0M556.8 791.7h0M564.9 860.7h0M553.0 824.1h0M563.1 771.3h0M530.9 793.9h0M580.8 818.6h0M552.6 742.5h0M579.6 813.5h0M568.0 740.7h0M563.1 829.2h0M569.9 730.1h0M526.8 864.4h0M562.0 845.8h0M576.6 813.7h0M566.4 848.1h0M531.7 797.9h0M546.1 804.8h0M563.5 809.4h0M560.0 817.7h0M546.1 804.0h0M567.9 807.0h0M538.1 860.1h0M579.0 780.0h0M576.8 737.1h0M540.3 767.4h0M535.9 793.0h0M574.9 819.8h0M550.5 757.2h0M527.9 820.5h0M559.3 768.4h0M581.7 790.9h0M519.5 849.2h0M567.5 827.3h0M572.6 866.6h0M524.4 793.9h0M593.3 724.9h0M573.7 803.5h0M547.3 859.3h0M580.9 812.9h0M559.3 799.2h0M561.4 802.2h0M520.7 894.6h0M587.0 745.7h0M532.5 853.0h0M534.5 856.1h0M540.1 800.0h0M561.5 805.4h0M559.9 855.3h0M518.8 863.2h0M588.4 790.3h0M556.7 737.1h0M581.5 866.5h0M572.9 783.1h0M610.8 754.7h0M530.6 880.9h0M604.6 748.7h0M543.2 821.6h0M500.8 747.1h0M560.9 866.4h0M546.4 871.4h0M585.7 857.7h0M544.2 855.1h0M524.0 842.8h0M533.1 776.8h0M523.4 857.7h0M537.4 787.0h0M527.9 832.9h0M559.6 857.7h0M509.5 881.5h0M553.6 726.1h0M572.8 786.6h0M563.4 855.1h0M564.4 836.2h0M544.4 870.4h0M539.6 883.5h0M535.7 878.9h0M572.5 726.2h0M517.0 796.5h0M570.5 771.9h0M572.6 782.0h0M565.2 778.5h0M556.7 752.2h0M570.3 850.5h0M580.7 774.2h0M559.4 779.0h0M551.3 777.1h0M539.0 787.8h0M540.8 871.6h0M546.0 865.1h0M501.5 851.2h0M547.3 861.5h0M563.8 765.7h0M604.1 790.0h0M565.5 820.4h0M541.4 810.9h0M597.8 774.8h0M531.6 779.4h0M545.9 790.3h0M565.3 739.1h0M503.0 862.7h0M566.2 771.8h0M530.1 811.9h0M591.2 756.5h0M561.6 864.3h0M547.7 846.2h0M558.3 805.0h0M578.8 824.0h0M574.8 781.5h0M558.6 786.1h0M559.1 825.3h0M543.6 775.4h0M541.3 808.4h0M579.0 796.6h0M543.7 835.2h0M583.0 723.0h0M596.3 731.9h0M556.7 839.8h0M554.9 879.1h0M516.1 860.8h0M542.9 819.6h0M560.0 861.1h0M590.0 757.2h0M571.6 854.2h0M575.0 746.3h0M515.5 877.2h0M598.5 822.0h0M572.1 792.7h0M576.1 776.4h0M554.8 838.4h0M564.9 861.2h0M514.5 816.0h0M569.8 781.4h0M578.9 725.1h0M554.9 802.5h0M527.2 769.5h0M531.2 787.1h0M538.1 761.8h0M563.4 749.0h0M557.9 784.0h0M576.0 806.1h0M553.4 824.3h0M561.9 855.7h0M519.9 870.9h0M579.3 856.8h0M577.7 793.0h0M512.0 873.1h0M525.8 798.6h0M562.5 825.5h0M575.5 812.3h0M548.4 805.6h0M553.2 859.4h0M595.3 740.7h0M598.6 779.5h0M559.5 818.1h0M566.7 833.7h0M583.2 745.4h0M522.4 861.5h0M554.5 732.9h0M565.5 728.4h0M552.8 798.9h0M570.0 726.3h0M494.2 866.5h0M558.3 745.7h0M537.2 858.7h0M557.3 857.4h0M569.1 757.0h0M521.4 868.1h0M570.7 786.4h0M552.1 855.8h0M543.0 809.2h0M543.4 774.5h0M592.8 799.7h0M542.8 858.5h0M530.7 871.3h0M556.6 825.0h0M528.0 862.3h0M563.5 856.1h0M555.0 809.5h0M564.7 865.5h0M543.1 794.4h0M541.4 768.2h0M555.0 803.8h0M544.5 811.9h0M533.1 776.7h0M533.4 799.8h0M556.2 809.0h0M542.9 836.6h0M545.3 838.0h0M550.2 829.7h0M541.8 852.2h0M545.2 788.7h0M579.3 786.0h0M593.9 752.8h0M560.8 746.9h0M562.2 810.0h0M528.6 802.4h0M567.2 857.8h0M551.9 756.4h0M560.9 866.0h0M561.9 813.5h0M609.3 734.0h0M553.9 798.7h0M588.9 777.3h0M573.1 859.3h0" stroke="#38383a" stroke-opacity="0.52" stroke-width="1.9" stroke-linecap="round" fill="none"/>
<path d="M568.2 804.4h0M525.2 727.6h0M557.4 779.4h0M505.1 852.5h0M565.1 842.8h0M527.6 751.8h0M556.1 743.0h0M537.8 845.6h0M526.8 869.0h0M530.3 891.1h0M567.8 765.6h0M600.7 776.0h0M617.0 762.5h0M563.6 795.3h0M553.2 852.7h0M550.5 811.7h0M534.1 805.4h0M511.2 870.4h0M551.8 845.6h0M552.6 836.0h0M560.3 819.8h0M597.7 767.6h0M572.9 847.9h0M573.5 846.3h0M547.1 804.2h0M560.8 772.7h0M576.9 785.0h0M557.6 775.0h0M620.4 785.1h0M561.8 859.0h0M555.2 821.7h0M574.0 733.5h0M533.9 783.6h0M563.4 778.1h0M569.0 810.3h0M564.2 822.9h0M561.1 868.3h0M542.5 791.4h0M570.2 723.5h0M569.4 803.4h0M574.2 791.3h0M581.1 809.6h0M550.5 710.5h0M515.4 773.9h0M542.9 800.8h0M547.0 820.1h0M544.7 846.8h0M518.8 868.8h0M549.4 809.9h0M578.5 808.8h0M554.4 755.4h0M561.9 744.7h0M544.5 748.6h0M549.2 792.9h0M556.4 851.4h0M549.4 749.1h0M575.5 841.4h0M577.0 779.4h0M586.2 751.9h0M540.1 861.7h0M575.5 801.7h0M555.9 794.3h0M553.0 758.5h0M548.5 868.1h0M531.4 796.0h0M566.9 761.2h0M553.0 770.5h0M523.1 774.7h0M543.7 838.7h0M551.0 800.8h0M527.8 791.9h0M572.8 819.3h0M544.9 781.3h0M579.0 787.1h0M547.0 854.5h0M537.8 804.5h0M576.4 753.7h0M538.2 779.0h0M523.4 805.4h0M558.0 803.6h0M568.0 753.1h0M551.7 832.3h0M541.6 806.3h0M542.0 812.9h0M564.4 738.0h0M551.0 744.1h0M567.8 788.4h0M522.5 843.2h0M556.5 751.6h0M584.4 726.5h0M543.7 793.0h0M532.0 772.7h0M543.0 866.9h0M580.3 792.4h0M578.2 737.2h0M547.4 860.1h0M556.2 798.8h0M570.8 776.1h0M585.8 814.4h0M530.2 855.1h0M586.9 728.8h0M549.7 830.5h0M529.0 766.4h0M551.2 814.2h0M546.4 792.5h0M605.7 775.1h0M536.9 870.4h0M589.9 871.6h0M549.2 817.9h0M603.6 777.4h0M605.2 770.5h0M592.6 811.8h0M559.8 862.6h0M557.8 816.4h0M557.6 779.7h0M563.3 841.4h0M565.1 841.4h0M552.8 742.6h0M555.8 875.0h0M574.2 740.0h0M580.0 859.2h0M551.2 790.7h0M555.4 787.9h0M556.5 726.7h0M549.9 860.0h0M556.1 834.5h0M559.2 797.2h0M550.3 870.7h0M547.9 797.5h0M555.4 840.9h0M581.8 802.6h0M510.0 866.7h0M574.2 866.4h0M570.5 754.0h0M545.6 825.0h0M547.1 806.3h0M552.6 865.2h0M557.5 765.0h0M548.3 790.9h0M566.1 822.2h0M558.8 870.5h0M589.1 758.0h0M583.5 751.4h0M529.9 847.0h0M537.3 842.1h0M558.9 826.7h0M528.7 836.3h0M556.1 785.3h0M572.6 785.4h0M548.3 833.2h0M579.1 766.2h0M535.5 839.7h0M528.1 833.7h0M548.0 862.4h0M571.0 843.5h0M589.5 809.5h0M556.3 846.9h0M526.2 763.6h0M546.1 828.5h0M598.0 751.3h0M617.3 849.6h0M519.8 754.2h0M552.0 831.3h0M572.5 782.8h0M544.9 861.2h0M597.3 754.6h0M556.8 754.1h0M568.2 756.2h0M561.6 812.3h0M606.5 753.2h0M549.2 847.0h0M520.6 848.5h0M545.4 799.4h0M554.0 888.9h0M566.9 802.1h0M534.7 799.0h0M540.9 844.0h0M546.7 872.2h0M552.2 847.9h0M538.7 823.9h0M581.0 833.1h0M558.8 826.4h0M570.4 747.4h0M556.5 764.1h0M580.2 793.4h0M513.0 852.3h0M530.5 822.1h0M586.3 745.3h0M562.5 814.1h0M555.1 775.9h0M604.0 777.8h0M566.4 782.1h0M567.0 862.3h0M575.2 740.5h0M568.5 830.1h0M519.1 838.0h0M552.7 805.0h0M548.6 879.9h0M496.9 797.7h0M537.0 738.4h0M560.9 798.6h0M568.3 765.4h0M523.4 844.6h0M532.5 857.7h0M530.7 882.9h0M550.3 776.8h0M540.0 856.2h0M586.6 842.6h0M572.4 815.4h0M559.6 788.2h0M532.0 834.8h0M571.2 762.0h0M538.6 814.9h0M564.4 845.7h0M528.1 824.8h0M532.9 838.4h0M547.5 807.7h0M557.2 783.6h0M553.2 777.7h0M548.3 772.4h0M559.4 832.3h0M568.9 872.4h0M551.7 834.2h0M579.9 712.3h0M571.7 842.4h0M551.7 749.9h0M581.1 791.5h0M509.0 845.0h0M529.5 777.7h0M515.0 860.4h0M555.9 801.0h0M587.6 722.5h0M531.3 866.2h0M586.6 864.9h0M530.4 767.9h0M554.6 766.3h0M529.3 755.8h0M579.7 850.4h0M589.9 755.6h0M577.8 861.7h0M541.2 782.0h0M538.6 777.3h0M560.8 817.3h0M555.6 835.1h0M540.1 784.1h0M516.7 849.5h0M546.0 769.5h0M509.3 800.7h0M558.5 790.8h0M579.9 796.0h0M513.4 869.7h0M509.0 853.2h0M577.0 873.4h0M516.1 836.6h0M588.0 781.3h0M546.1 734.1h0M567.9 887.3h0M536.8 793.6h0M557.6 807.6h0M573.1 740.2h0M529.9 862.6h0M580.7 725.1h0M554.5 769.1h0M545.4 869.3h0M551.1 822.3h0M538.6 855.2h0M557.5 788.4h0M519.6 804.5h0M573.8 813.1h0M549.0 821.1h0M553.8 826.1h0M533.9 778.3h0M587.8 773.2h0M547.8 735.7h0M501.1 861.3h0M576.4 754.1h0M569.1 819.1h0M547.5 859.0h0M553.7 855.5h0M543.2 768.2h0M599.8 740.5h0M610.6 725.3h0M589.2 759.2h0M509.2 830.5h0M550.3 713.9h0M503.5 822.4h0M575.5 810.1h0M588.4 788.3h0M576.2 749.4h0M568.7 806.3h0M546.9 788.0h0M564.1 866.0h0M568.6 750.7h0M573.4 833.7h0M550.4 793.9h0M561.3 787.3h0M546.9 829.7h0M539.9 877.4h0M534.2 786.6h0M582.5 826.3h0M594.1 816.7h0M600.7 752.2h0M580.5 856.3h0M608.9 740.5h0M610.2 764.2h0M577.3 746.8h0M556.7 849.6h0M573.0 782.3h0M554.0 847.3h0M535.1 853.9h0M541.5 804.9h0M539.8 894.6h0M585.4 718.2h0M595.9 736.6h0M552.9 752.8h0M575.7 851.3h0M542.3 700.1h0M526.6 873.7h0M554.3 817.8h0M584.6 812.1h0M565.7 767.9h0M551.8 774.0h0M605.2 772.4h0M489.3 811.5h0M571.4 830.7h0M553.7 855.0h0M551.1 844.7h0M558.8 806.9h0M542.1 865.4h0M545.6 777.8h0M540.2 825.2h0M598.4 744.0h0M555.4 796.0h0M571.9 808.1h0M628.4 738.6h0M517.4 861.3h0M545.9 817.5h0M566.6 760.8h0M571.5 821.3h0M580.2 778.8h0M554.0 741.6h0M551.6 731.4h0M558.5 804.8h0M558.4 795.0h0M560.8 820.9h0M613.8 767.3h0M535.8 803.8h0M579.7 773.2h0M565.7 812.3h0M575.1 830.8h0M551.7 872.2h0M547.0 840.4h0M578.4 818.1h0M572.4 823.9h0M532.9 844.6h0M565.2 816.9h0M550.9 885.2h0M577.6 856.9h0M551.8 795.4h0M582.9 765.3h0M575.8 806.4h0M565.1 745.1h0M548.1 764.2h0M593.9 846.5h0M571.3 765.8h0M573.8 793.2h0M555.7 844.4h0M560.7 842.1h0M554.9 855.2h0M537.0 773.8h0M581.8 810.6h0M561.0 822.2h0M599.2 757.8h0M560.1 766.0h0M556.7 797.7h0M539.8 811.8h0M574.0 878.8h0M556.0 810.7h0M567.6 747.1h0M528.0 800.2h0M572.6 840.9h0M519.8 874.9h0M553.6 798.9h0M558.1 802.1h0M528.6 807.4h0M583.1 753.3h0M567.7 782.2h0M544.5 842.2h0M570.6 777.4h0M541.8 797.2h0M562.0 863.7h0M532.2 831.4h0M555.6 816.0h0M530.6 865.8h0M562.7 857.0h0M569.0 722.2h0M558.3 783.3h0M528.5 777.8h0M604.2 794.0h0M561.6 852.3h0M532.4 849.0h0M556.6 800.2h0M540.7 817.7h0M535.9 781.1h0M553.8 813.6h0M504.8 852.5h0M577.9 801.9h0M539.9 777.6h0M580.6 741.6h0M538.9 847.2h0M546.7 838.0h0M547.4 834.3h0M537.8 808.7h0M580.1 805.9h0M532.0 768.0h0M613.5 758.0h0M542.4 821.2h0M558.3 743.8h0M582.4 845.0h0M553.9 871.5h0M537.9 848.1h0M559.3 805.1h0M570.2 790.0h0M585.9 735.1h0M537.0 858.3h0M529.0 866.3h0M510.3 847.1h0M561.4 868.6h0M550.8 865.2h0M587.0 788.3h0M551.8 860.1h0M583.3 752.6h0M571.4 736.7h0M495.7 855.2h0M552.8 817.6h0M528.0 758.5h0M531.1 796.0h0M529.8 857.2h0M504.2 811.8h0M600.3 749.7h0M575.9 856.9h0M572.6 831.3h0M546.8 798.0h0M548.2 797.1h0M569.0 721.7h0M567.5 761.1h0M528.3 860.7h0M541.0 772.5h0M524.1 883.6h0M549.3 842.7h0M580.6 747.7h0M563.6 745.5h0M594.0 776.2h0M562.6 865.5h0M561.1 819.7h0M530.2 853.4h0M571.9 778.7h0M534.6 857.2h0M522.6 855.6h0M554.1 827.5h0M573.3 756.3h0M562.3 770.3h0M561.3 833.7h0M518.5 875.4h0M549.6 788.4h0M528.4 878.3h0M579.9 750.6h0M597.8 747.2h0M562.3 769.7h0M569.6 738.0h0M574.7 785.0h0M574.7 753.7h0M557.8 816.9h0M534.3 834.7h0M569.7 754.5h0M577.4 754.3h0M530.8 772.1h0M534.2 851.2h0M556.1 850.2h0M545.7 742.1h0M573.2 802.6h0M570.0 845.8h0M539.6 861.2h0M517.2 782.4h0M528.3 872.0h0M532.9 873.2h0M572.0 756.7h0M520.3 851.6h0M539.1 802.1h0M584.5 789.6h0M530.6 822.7h0M545.3 732.4h0M572.0 794.2h0M570.4 864.1h0M529.1 891.4h0M557.3 828.4h0M574.4 745.7h0M589.8 814.6h0M562.3 774.5h0M586.7 737.0h0M547.5 778.3h0M579.7 754.1h0M534.5 890.9h0M593.0 729.7h0M533.1 860.9h0M504.9 866.2h0M534.9 752.9h0M540.5 822.7h0M546.8 760.7h0M515.4 859.3h0M538.9 798.7h0M531.7 808.1h0M493.8 887.6h0M551.7 871.6h0M559.3 787.6h0M561.1 772.2h0M523.0 769.8h0M595.4 751.3h0M539.5 861.5h0M525.3 806.1h0M550.0 776.1h0M562.7 812.9h0M548.7 798.2h0M546.0 837.4h0M554.5 826.0h0M563.5 769.0h0M525.8 782.8h0M551.5 737.8h0M545.9 837.7h0M536.5 779.6h0M574.0 802.1h0M536.5 803.7h0M543.7 870.7h0M543.0 883.2h0M561.5 811.5h0M607.8 782.4h0M524.4 829.5h0M541.6 797.2h0M547.4 894.6h0M536.4 862.1h0M565.1 851.0h0M531.4 778.1h0M547.9 730.6h0M529.8 825.1h0M525.8 813.4h0M547.4 877.4h0M575.6 779.1h0M513.9 877.6h0M497.6 864.3h0M558.1 797.4h0M556.3 827.7h0M584.3 771.0h0M550.2 813.1h0M507.6 804.5h0M576.7 830.8h0M513.7 854.7h0M584.3 752.1h0M536.9 803.8h0M560.4 866.5h0M555.2 791.3h0M559.7 814.3h0M561.6 762.5h0M561.8 793.1h0M548.1 823.0h0M542.5 766.3h0M562.3 807.1h0M581.8 742.0h0M571.4 782.4h0M548.9 812.7h0M604.5 740.2h0M543.8 836.2h0M548.6 827.6h0M590.2 739.9h0M534.1 831.0h0M556.9 789.3h0M551.0 862.6h0M570.3 789.9h0M569.7 853.8h0M549.9 789.8h0M550.3 862.9h0M566.2 821.4h0M509.6 812.1h0M566.1 841.2h0M533.4 840.2h0M578.6 770.7h0M582.7 783.6h0M536.4 870.6h0M570.3 802.6h0M583.7 743.6h0M533.8 809.3h0M540.1 826.0h0M564.7 805.6h0M542.6 781.6h0M556.4 759.3h0M541.7 803.1h0M549.7 825.2h0M512.9 828.8h0M566.6 773.8h0M520.9 866.2h0M530.0 867.0h0M546.4 749.8h0M564.7 742.1h0M552.6 724.2h0M614.7 764.5h0M554.6 781.7h0M552.9 780.4h0M595.4 760.0h0M549.6 789.0h0M564.5 877.9h0M562.0 740.3h0M541.7 823.5h0M576.5 865.8h0M588.2 853.0h0M543.3 863.9h0M555.3 799.5h0M539.2 853.6h0M551.4 801.2h0M535.2 861.0h0M569.9 821.7h0M596.7 813.2h0M536.0 831.4h0M564.4 849.6h0M592.1 827.3h0M550.7 804.4h0M567.7 818.4h0M551.5 773.0h0M549.2 844.1h0M557.8 801.4h0M571.5 822.9h0M557.1 740.0h0M566.0 741.8h0M582.2 795.5h0M556.8 843.3h0M606.2 765.6h0M537.1 821.0h0M521.4 768.4h0M530.0 818.7h0M581.4 826.1h0M557.9 805.0h0M558.2 726.5h0M546.9 813.6h0M504.7 813.9h0M569.5 808.4h0M557.7 751.2h0M560.4 776.3h0M536.7 855.4h0M573.4 755.9h0M580.4 839.9h0M551.7 794.9h0M539.6 879.0h0M531.8 790.0h0M529.4 795.2h0M562.6 809.8h0M571.2 775.8h0M578.9 811.3h0M565.7 758.9h0M559.8 754.9h0M538.2 840.9h0M571.8 740.0h0M529.9 870.9h0M526.3 869.1h0M551.4 848.8h0M533.7 857.8h0M574.7 800.7h0M566.7 854.9h0M549.8 861.5h0M559.4 797.3h0M553.7 735.6h0M537.1 868.9h0M554.4 847.5h0M564.1 837.1h0M565.3 801.2h0M529.7 854.4h0M531.5 817.0h0M521.7 869.8h0M529.7 839.6h0M552.9 787.9h0M552.3 747.9h0M536.3 861.5h0" stroke="#38383a" stroke-opacity="0.52" stroke-width="1.9" stroke-linecap="round" fill="none"/>
<path d="M425.9 689.9H429.2M425.9 751.8H429.2M425.9 819.7H429.2M425.9 740.9H429.2M425.9 807.3H429.2M425.9 733.1H429.2M425.9 798.5H429.2M424 727.1H429.2M424 791.7H429.2M425.9 722.2H429.2M425.9 786.1H429.2M425.9 718.1H429.2M425.9 781.3H429.2M425.9 714.5H429.2M425.9 777.2H429.2M425.9 711.3H429.2M425.9 773.6H429.2M425.9 872.7H429.2M425.9 891.9H429.2M425.9 868.5H429.2M425.9 896.3H429.2M425.9 864.4H429.2M425.9 900.7H429.2M424 860.3H429.2M424 904.9H429.2M425.9 856.4H429.2M425.9 909.1H429.2M425.9 852.5H429.2M425.9 913.3H429.2M425.9 848.6H429.2M425.9 917.3H429.2M425.9 844.8H429.2M425.9 921.4H429.2" stroke="#4a4a4c" stroke-width="1.7" fill="none"/>
<path d="M422 708.5H429.2M422 770.4H429.2M422 841H429.2M422 925.4H429.2" stroke="#3c3c3e" stroke-width="2.1" fill="none"/>
<path d="M421.6 875.7H429.2M423 876.6H429.2M421 877.5H429.2M423.6 878.4H429.2M421.6 879.3H429.2M423 880.2H429.2M421 881.1H429.2M423.6 882H429.2M421.6 882.9H429.2M423 883.8H429.2M421 884.7H429.2M423.6 885.6H429.2M421.6 886.5H429.2M423 887.4H429.2M421 888.3H429.2" stroke="#1f1f21" stroke-width="1.1" fill="none"/>
<path d="M439.6 942.2V946.4M449.4 942.2V946.4M459.2 942.2V946.4M468.9 942.2V946.4M488.5 942.2V946.4M498.3 942.2V946.4M508.1 942.2V946.4M517.9 942.2V946.4M537.4 942.2V946.4M547.2 942.2V946.4M557 942.2V946.4M566.8 942.2V946.4M586.3 942.2V946.4M596.1 942.2V946.4M605.9 942.2V946.4M615.7 942.2V946.4M635.3 942.2V946.4M645 942.2V946.4M654.8 942.2V946.4M664.6 942.2V946.4M684.2 942.2V946.4" stroke="#555557" stroke-width="1.5" fill="none"/>
<path d="M429.8 942.2V949.2M478.7 942.2V949.2M527.6 942.2V949.2M576.6 942.2V949.2M625.5 942.2V949.2M674.4 942.2V949.2" stroke="#4a4a4c" stroke-width="2.1" fill="none"/>
<path d="M432.2 685V848H682.8" stroke="#707173" stroke-width="1.5" fill="none"/>
<path d="M682.8 685V848.8" stroke="#505052" stroke-width="2.1" fill="none"/>
<rect x="429.2" y="684" width="257.6" height="258.2" stroke="#707173" stroke-width="1.6" fill="none"/>
<text x="417.7" y="713.2" font-size="10.3" text-anchor="end" class="t">10<tspan dy="-4" font-size="8.4">5</tspan></text>
<text x="417.7" y="775.1" font-size="10.3" text-anchor="end" class="t">10<tspan dy="-4" font-size="8.4">4</tspan></text>
<text x="417.7" y="845.7" font-size="10.3" text-anchor="end" class="t">10<tspan dy="-4" font-size="8.4">3</tspan></text>
<text x="417.5" y="886.7" font-size="10.3" text-anchor="end" class="t">0</text>
<text x="419.9" y="930.1" font-size="10.3" text-anchor="end" class="t">−10<tspan dy="-4" font-size="8.4">3</tspan></text>
<text x="429.8" y="961" font-size="10.4" text-anchor="middle" class="t">0</text>
<text x="478.7" y="961" font-size="10.4" text-anchor="middle" class="t">50K</text>
<text x="527.6" y="961" font-size="10.4" text-anchor="middle" class="t">100K</text>
<text x="576.6" y="961" font-size="10.4" text-anchor="middle" class="t">150K</text>
<text x="625.5" y="961" font-size="10.4" text-anchor="middle" class="t">200K</text>
<text x="674.4" y="961" font-size="10.4" text-anchor="middle" class="t">250K</text>
<text transform="translate(556.3 666.8) scale(1 1.01)" font-size="24.8" text-anchor="middle">LR 1:1</text>
<text transform="translate(674.8 716) scale(1 1.03)" font-size="20.5" text-anchor="end" class="p">79%</text>
<path d="M55 692.7V979H720.6" fill="none" stroke-width="2.3" stroke-linejoin="miter"/>
<path d="M55 670.3L43.2 693.7L66.8 693.7Z"/>
<path d="M743 979L719.6 967.2L719.6 990.8Z"/>
<text transform="translate(-0.3 633.4) scale(1 1.02)" font-size="42">d</text>
<text transform="translate(36.3 824.5) rotate(-90) scale(1 1.045)" font-size="25" text-anchor="middle" letter-spacing="0.9">IL-8</text>
<text transform="translate(408.1 1014.8) scale(1 1.045)" font-size="25" text-anchor="middle">FSC</text>
<path d="M304.6 1457.2h0M175.8 1496.8h0M277.9 1491.0h0M285.7 1489.7h0M273.4 1481.1h0M290.4 1474.9h0M222.4 1487.1h0M232.0 1495.4h0M257.6 1488.9h0M286.6 1463.9h0M325.1 1453.4h0M242.5 1480.2h0M304.5 1482.5h0M269.5 1499.4h0M256.2 1477.7h0M292.8 1472.0h0M280.5 1484.9h0M216.9 1496.9h0M232.5 1480.4h0M304.0 1483.8h0M270.7 1491.8h0M247.9 1491.4h0M258.8 1480.3h0M280.7 1480.6h0M236.4 1493.2h0M249.5 1483.3h0M289.3 1475.1h0M274.3 1481.9h0M286.4 1478.6h0M242.6 1487.8h0M255.8 1485.4h0M250.2 1489.8h0M336.6 1450.6h0M271.5 1494.0h0M261.8 1494.9h0M281.8 1490.4h0M178.9 1506.7h0M307.2 1462.7h0M262.8 1484.5h0M229.9 1494.2h0M231.0 1493.6h0M213.4 1504.0h0M293.3 1473.8h0M226.1 1498.3h0M238.0 1497.7h0M281.8 1489.6h0M291.6 1474.2h0M331.6 1455.9h0M232.3 1488.7h0M305.4 1448.9h0M229.5 1496.8h0M238.8 1492.0h0M282.5 1492.7h0M262.3 1487.9h0M302.9 1479.0h0M244.3 1502.5h0M258.2 1496.7h0M302.8 1480.3h0M229.4 1488.1h0M230.9 1493.8h0M242.3 1502.8h0M261.1 1484.7h0M295.1 1469.8h0M335.7 1465.3h0M236.5 1500.9h0M258.6 1480.8h0M252.1 1498.6h0M262.0 1484.2h0M286.6 1479.5h0M295.2 1478.1h0M306.5 1466.7h0M211.3 1492.6h0M249.3 1483.8h0M271.6 1484.8h0M256.3 1484.3h0M254.7 1487.7h0M313.7 1468.6h0M304.9 1468.5h0M274.9 1484.1h0M267.9 1484.7h0M300.5 1471.8h0M267.1 1494.0h0M264.4 1488.9h0M303.4 1475.3h0M244.7 1496.7h0M304.3 1482.1h0M211.3 1480.6h0M222.1 1493.4h0M216.0 1491.8h0M280.1 1481.9h0M329.0 1455.9h0M307.8 1479.4h0M265.9 1484.2h0M229.8 1486.7h0M347.0 1448.9h0M251.2 1482.7h0M252.5 1497.5h0M282.9 1477.8h0M235.3 1483.8h0M276.2 1481.2h0M286.4 1464.8h0M207.6 1493.5h0M321.9 1440.5h0M259.0 1480.2h0M273.0 1480.8h0M298.7 1478.5h0M293.0 1481.1h0M298.9 1476.7h0M287.0 1481.2h0M278.9 1470.1h0M249.7 1487.0h0M295.4 1472.9h0M281.3 1491.0h0M230.1 1494.5h0M317.3 1460.9h0M265.0 1479.3h0M322.5 1450.3h0M288.3 1483.5h0M244.6 1497.2h0M266.0 1468.0h0M304.7 1454.2h0M231.8 1495.5h0M233.4 1492.6h0M229.3 1494.0h0M264.3 1488.6h0M222.3 1497.4h0M243.7 1493.1h0M257.7 1492.2h0M308.9 1465.7h0M267.3 1487.0h0M245.6 1482.7h0M258.3 1492.7h0M309.5 1471.5h0M254.3 1495.4h0M280.2 1482.2h0M228.6 1493.3h0M241.4 1486.7h0M347.7 1443.0h0M306.1 1482.5h0M306.0 1468.4h0M236.8 1448.1h0M259.4 1476.8h0M253.3 1492.3h0M230.2 1497.8h0M277.8 1487.5h0M306.7 1456.3h0M283.3 1474.0h0M311.7 1455.6h0M289.9 1483.9h0M264.9 1488.0h0M282.1 1497.6h0M249.2 1491.2h0M245.5 1483.0h0M252.6 1494.5h0M283.2 1493.8h0M219.8 1483.0h0M246.5 1492.4h0M259.8 1491.9h0M263.7 1493.0h0M248.6 1500.6h0M293.4 1465.2h0M287.4 1486.1h0M280.4 1488.4h0M228.3 1496.4h0M261.0 1492.3h0M325.7 1455.6h0M276.4 1490.8h0M245.5 1488.3h0M287.8 1473.6h0M258.9 1492.3h0M285.0 1483.3h0M300.8 1476.7h0M231.7 1499.4h0M205.8 1485.8h0M237.1 1488.1h0M235.6 1498.3h0M263.9 1488.8h0M256.7 1488.8h0M270.1 1493.2h0M237.9 1495.9h0M306.4 1481.4h0M275.0 1485.3h0M276.6 1484.7h0M244.6 1491.4h0M221.8 1492.1h0M270.5 1485.1h0M293.8 1480.2h0M302.1 1470.1h0M258.6 1491.1h0M318.8 1456.6h0M312.9 1462.3h0M228.6 1499.2h0M259.6 1498.6h0M307.7 1463.6h0M247.3 1485.3h0M225.3 1498.4h0M259.2 1485.8h0M252.0 1487.4h0M252.4 1494.3h0M224.0 1500.4h0M244.5 1489.7h0M225.1 1491.5h0M201.1 1498.6h0M283.3 1491.2h0M238.0 1486.4h0M232.7 1497.4h0M316.1 1464.1h0M228.8 1490.7h0M259.2 1477.4h0M262.7 1486.7h0M239.0 1488.8h0M221.0 1493.1h0M281.8 1486.8h0M232.5 1484.7h0M275.5 1486.7h0M293.2 1481.4h0M278.6 1490.3h0M303.2 1458.6h0M191.7 1506.6h0M298.6 1487.9h0M292.3 1469.2h0M316.2 1452.1h0M229.9 1494.1h0M264.6 1486.3h0M232.7 1496.9h0M244.1 1487.9h0M260.1 1488.9h0M307.9 1483.2h0M251.5 1472.6h0M287.6 1462.2h0M261.8 1489.8h0M226.6 1488.2h0M311.4 1464.0h0M280.7 1479.1h0M223.8 1496.9h0M254.1 1494.3h0M254.2 1479.6h0M236.7 1489.6h0M254.5 1493.0h0M284.4 1479.4h0M253.9 1483.1h0M324.0 1423.4h0M273.6 1477.1h0M217.7 1498.2h0M261.4 1493.0h0M325.5 1448.0h0M242.0 1491.6h0M221.1 1494.9h0M244.4 1498.6h0M244.0 1500.1h0M269.8 1493.5h0M239.2 1499.2h0M243.1 1489.0h0M272.4 1490.2h0M347.7 1433.7h0M255.0 1480.6h0M330.7 1480.6h0M252.0 1486.7h0M254.7 1495.3h0M284.1 1481.0h0M265.4 1486.8h0M307.4 1466.2h0M314.7 1483.6h0M264.2 1492.2h0M243.4 1492.8h0" stroke="#38383a" stroke-opacity="0.52" stroke-width="1.9" stroke-linecap="round" fill="none"/>
<path d="M326.2 1452.4h0M222.0 1488.0h0M244.4 1493.6h0M274.4 1490.5h0M227.1 1498.9h0M299.2 1481.2h0M212.9 1498.3h0M285.7 1478.6h0M258.1 1494.5h0M289.1 1478.4h0M311.6 1457.4h0M293.1 1485.3h0M298.2 1454.6h0M250.4 1491.9h0M262.0 1475.8h0M240.9 1494.8h0M262.9 1491.7h0M247.6 1486.1h0M274.4 1484.3h0M276.6 1492.8h0M292.7 1472.8h0M254.0 1478.7h0M285.8 1474.3h0M240.3 1488.7h0M303.4 1469.2h0M280.9 1475.1h0M249.6 1497.1h0M305.6 1466.1h0M319.8 1464.9h0M232.1 1491.5h0M305.0 1455.6h0M257.6 1495.5h0M321.7 1462.5h0M302.6 1479.3h0M253.1 1488.5h0M242.2 1485.9h0M187.6 1495.9h0M215.3 1491.9h0M216.1 1488.3h0M271.3 1481.3h0M247.5 1496.7h0M280.5 1474.0h0M267.0 1480.7h0M233.6 1502.4h0M294.3 1499.8h0M306.4 1459.6h0M241.6 1488.2h0M222.3 1494.8h0M249.9 1484.9h0M237.9 1492.8h0M297.2 1474.0h0M245.4 1476.2h0M263.7 1498.5h0M270.3 1472.8h0M247.5 1482.0h0M318.7 1470.4h0M231.2 1497.1h0M301.3 1485.2h0M320.9 1472.1h0M294.9 1479.5h0M298.5 1474.2h0M319.4 1454.5h0M296.4 1465.6h0M224.0 1498.0h0M245.2 1484.3h0M321.9 1470.5h0M334.3 1456.8h0M335.9 1443.1h0M288.7 1476.1h0M262.8 1477.5h0M224.5 1502.2h0M251.2 1480.8h0M320.4 1445.3h0M288.0 1479.8h0M271.8 1482.1h0M228.8 1492.8h0M278.8 1492.6h0M290.8 1471.5h0M260.8 1481.9h0M288.9 1477.1h0M281.1 1474.9h0M249.1 1484.8h0M302.7 1454.4h0M312.1 1458.5h0M203.6 1486.7h0M272.8 1499.5h0M305.7 1469.6h0M279.8 1491.3h0M321.9 1449.3h0M294.8 1473.2h0M256.7 1501.9h0M269.9 1486.4h0M275.0 1491.5h0M260.8 1477.0h0M285.0 1482.7h0M267.8 1488.4h0M238.8 1492.9h0M304.1 1474.9h0M297.0 1478.0h0M259.9 1488.6h0M247.2 1480.7h0M325.3 1455.7h0M230.7 1488.4h0M293.9 1485.8h0M241.6 1492.6h0M284.4 1478.2h0M207.6 1497.5h0M294.2 1474.4h0M215.8 1500.7h0M211.4 1504.4h0M291.3 1479.2h0M295.1 1433.6h0M341.7 1450.3h0M301.0 1473.6h0M239.8 1491.7h0M238.4 1490.0h0M293.3 1474.9h0M249.9 1490.4h0M214.8 1497.4h0M275.9 1492.4h0M265.8 1477.9h0M302.5 1470.0h0M278.3 1486.4h0M299.3 1458.4h0M230.5 1495.2h0M252.3 1484.0h0M313.9 1470.6h0M262.7 1486.4h0M221.5 1488.9h0M249.7 1485.7h0M301.4 1477.1h0M262.3 1483.3h0M239.0 1487.7h0M234.5 1495.5h0M271.3 1487.1h0M279.0 1465.0h0M286.7 1475.8h0M328.1 1454.4h0M292.2 1476.8h0M329.1 1458.5h0M224.6 1483.1h0M261.0 1481.5h0M298.0 1480.4h0M212.9 1485.9h0M311.6 1482.3h0M299.5 1460.8h0M267.6 1479.9h0M186.2 1499.7h0M269.2 1474.4h0M225.8 1490.2h0M245.0 1492.5h0M210.5 1505.7h0M284.7 1484.0h0M212.0 1492.9h0M288.3 1470.8h0M229.9 1495.8h0M240.4 1491.3h0M243.2 1495.7h0M313.0 1475.6h0M261.5 1483.4h0M241.2 1495.4h0M240.6 1487.4h0M231.6 1495.2h0M268.5 1482.2h0M288.3 1482.9h0M270.9 1483.6h0M246.9 1494.5h0M225.3 1493.6h0M296.0 1482.1h0M290.0 1487.9h0M248.6 1485.3h0M258.9 1485.3h0M266.5 1488.6h0M293.9 1487.5h0M306.0 1454.2h0M276.5 1481.2h0M268.4 1484.3h0M276.8 1469.8h0M259.5 1490.0h0M292.5 1480.5h0M277.7 1479.3h0M290.2 1496.3h0M257.3 1482.8h0M316.3 1463.4h0M273.3 1494.6h0M279.0 1478.2h0M267.6 1498.3h0M279.8 1487.7h0M260.2 1487.8h0M238.2 1500.5h0M255.3 1485.5h0M215.1 1499.4h0M300.5 1468.0h0M265.5 1493.7h0M286.6 1495.8h0M298.0 1460.9h0M259.5 1495.9h0M276.2 1475.9h0M273.8 1487.7h0M222.9 1488.2h0M221.0 1497.2h0M338.6 1457.5h0M267.6 1481.9h0M256.5 1483.3h0M291.7 1488.5h0M265.4 1490.6h0M320.0 1481.0h0M246.0 1479.9h0M300.8 1475.8h0M230.7 1504.1h0M307.9 1484.6h0M267.0 1478.2h0M253.5 1498.5h0M276.7 1484.0h0M276.7 1485.9h0M252.7 1494.3h0M289.7 1492.8h0M218.4 1493.1h0M281.6 1481.9h0M235.0 1477.4h0M256.2 1490.5h0M285.0 1475.9h0M300.6 1475.5h0M239.3 1491.6h0M284.5 1482.3h0M245.0 1497.3h0M267.8 1493.0h0M291.8 1468.5h0M235.7 1490.6h0M279.3 1477.0h0M258.6 1490.2h0M251.6 1488.1h0M249.0 1490.2h0M299.7 1472.1h0M250.8 1497.2h0M242.0 1495.1h0M227.3 1495.6h0M223.8 1498.9h0M240.7 1499.2h0M320.3 1453.7h0M321.6 1453.8h0M286.9 1472.3h0M323.5 1463.6h0M247.8 1502.1h0M256.0 1489.9h0M285.0 1482.8h0M241.9 1488.4h0M264.5 1481.2h0M213.4 1497.0h0M228.6 1479.0h0M301.8 1472.1h0M263.8 1493.8h0M316.8 1457.5h0M253.8 1498.0h0M319.5 1467.7h0M314.8 1460.4h0M267.7 1488.6h0M275.1 1491.6h0M286.3 1484.6h0M235.3 1494.2h0M257.2 1483.5h0M294.7 1490.5h0M240.5 1494.0h0M310.0 1462.3h0M301.8 1460.2h0" stroke="#38383a" stroke-opacity="0.52" stroke-width="1.9" stroke-linecap="round" fill="none"/>
<path d="M259.6 1490.2h0M266.7 1490.6h0M327.2 1446.8h0M270.9 1486.4h0M258.0 1475.4h0M303.3 1472.1h0M278.7 1490.0h0M276.4 1489.0h0M239.7 1504.4h0M323.6 1447.9h0M311.8 1472.7h0M246.1 1484.3h0M236.5 1490.7h0M291.0 1487.4h0M318.9 1461.9h0M276.4 1477.6h0M264.9 1487.5h0M270.7 1487.8h0M255.8 1483.4h0M245.2 1501.7h0M241.5 1488.3h0M314.1 1471.7h0M275.4 1484.8h0M288.9 1478.8h0M289.9 1476.7h0M270.5 1488.4h0M247.3 1489.5h0M251.3 1495.1h0M226.7 1485.4h0M273.6 1482.4h0M314.9 1472.0h0M300.8 1480.7h0M308.1 1453.9h0M225.9 1496.3h0M287.8 1500.5h0M266.2 1470.6h0M281.4 1492.8h0M290.7 1470.6h0M260.1 1484.0h0M296.6 1467.6h0M241.0 1493.1h0M220.0 1494.1h0M276.4 1478.5h0M248.8 1497.2h0M245.7 1488.4h0M294.6 1488.7h0M212.3 1491.3h0M267.3 1485.6h0M215.3 1497.3h0M307.2 1479.1h0M276.9 1492.6h0M265.2 1489.3h0M258.4 1487.2h0M334.5 1446.4h0M274.3 1483.7h0M251.8 1484.4h0M234.7 1493.9h0M254.2 1489.4h0M334.2 1459.3h0M299.2 1481.8h0M235.5 1488.4h0M314.0 1452.3h0M253.3 1498.0h0M248.4 1495.4h0M238.8 1492.6h0M296.8 1464.0h0M311.8 1475.4h0M279.6 1485.7h0M216.1 1498.6h0M264.5 1480.8h0M226.7 1490.1h0M230.2 1493.9h0M289.5 1485.3h0M323.3 1453.1h0M257.8 1486.9h0M241.4 1493.0h0M303.5 1474.5h0M272.9 1425.2h0M207.4 1492.7h0M243.2 1491.3h0M300.2 1475.1h0M267.5 1488.9h0M189.6 1496.5h0M230.2 1489.5h0M274.2 1491.7h0M280.8 1481.7h0M297.7 1476.1h0M241.6 1488.1h0M304.2 1429.8h0M268.6 1487.3h0M272.1 1480.2h0M280.5 1478.1h0M325.4 1468.7h0M239.8 1493.9h0M266.0 1482.7h0M274.0 1480.4h0M272.9 1485.3h0M269.9 1488.3h0M295.0 1463.3h0M278.2 1482.1h0M252.1 1495.5h0M202.6 1496.5h0M294.4 1486.6h0M268.2 1477.7h0M230.9 1499.3h0M290.3 1477.2h0M154.6 1507.2h0M254.2 1481.9h0M249.4 1485.8h0M252.1 1498.5h0M279.9 1487.2h0M251.5 1483.9h0M281.6 1460.7h0M196.4 1499.9h0M276.3 1501.5h0M271.0 1455.3h0M253.0 1500.3h0M316.7 1439.3h0M284.2 1478.3h0M203.6 1504.7h0M271.3 1478.7h0M215.1 1497.3h0M317.4 1471.2h0M251.5 1489.4h0M255.8 1492.8h0M253.6 1486.7h0M196.4 1499.5h0M245.8 1499.9h0M270.7 1477.1h0M197.6 1498.8h0M243.1 1493.6h0M238.7 1485.8h0M288.3 1464.2h0M296.0 1479.2h0M308.1 1483.8h0M242.6 1496.9h0M232.9 1498.1h0M287.7 1472.6h0M264.5 1492.9h0M217.0 1496.6h0M319.4 1446.5h0M249.9 1492.3h0M319.1 1429.0h0M231.0 1489.0h0M215.5 1498.5h0M270.3 1486.3h0M279.5 1484.1h0M297.8 1472.2h0M233.4 1489.1h0M272.7 1489.1h0M225.6 1494.7h0M217.2 1496.6h0M275.8 1476.4h0M240.7 1487.7h0M242.6 1491.2h0M273.8 1480.5h0M285.5 1481.8h0M264.2 1489.0h0M196.9 1503.2h0M238.3 1486.7h0M299.8 1446.4h0M241.5 1484.8h0M263.8 1473.3h0M319.1 1470.9h0M285.4 1491.7h0M254.5 1491.7h0M251.4 1494.2h0M254.0 1495.1h0M264.6 1486.5h0M212.5 1494.1h0M262.0 1490.9h0M284.0 1488.0h0M231.1 1492.9h0M296.3 1444.7h0M307.2 1457.3h0M266.4 1490.2h0M260.9 1498.9h0M320.8 1476.9h0M238.7 1487.4h0M265.5 1475.6h0M317.4 1457.5h0M312.1 1483.0h0M246.2 1475.2h0M303.1 1473.8h0M251.5 1492.1h0M355.2 1442.0h0M304.4 1474.3h0M192.2 1501.3h0M288.5 1483.5h0M231.6 1488.5h0M287.7 1475.0h0M247.6 1484.1h0M241.1 1487.0h0M240.2 1492.2h0M256.6 1485.9h0M282.9 1487.1h0M266.7 1488.5h0M270.4 1493.6h0M313.7 1450.4h0M232.4 1483.8h0M233.3 1491.8h0M292.2 1467.9h0M316.3 1463.0h0M224.6 1500.8h0M253.5 1487.0h0M267.0 1493.4h0M329.0 1458.3h0M280.6 1484.6h0M207.2 1490.9h0M287.4 1469.6h0M235.2 1498.3h0M255.3 1481.8h0M247.6 1492.2h0M211.8 1492.9h0M284.9 1469.7h0M243.6 1491.2h0M271.3 1473.5h0M264.4 1457.3h0M259.6 1490.4h0M266.7 1484.5h0M239.3 1494.6h0M273.6 1490.0h0M281.6 1479.9h0M179.8 1498.8h0M232.8 1489.0h0M248.9 1494.1h0M299.9 1476.1h0M328.3 1465.1h0M289.6 1485.0h0M235.4 1486.4h0M275.6 1486.2h0M242.7 1489.5h0M286.4 1469.4h0M328.3 1443.7h0M228.2 1485.7h0M256.9 1496.4h0M276.5 1479.4h0M287.3 1486.7h0M311.8 1470.2h0M253.9 1488.3h0M237.1 1482.9h0M251.3 1489.7h0M210.4 1503.0h0M242.0 1491.7h0M233.7 1500.6h0M258.3 1497.7h0M341.9 1462.9h0M257.4 1491.5h0M279.8 1488.5h0M254.7 1486.6h0M230.7 1501.9h0M289.8 1486.4h0M246.8 1492.7h0M260.5 1488.7h0M258.6 1498.1h0M283.8 1482.3h0M320.9 1467.5h0M246.1 1487.3h0M277.9 1471.6h0M227.8 1493.6h0M286.6 1488.6h0M333.2 1453.1h0M204.7 1502.3h0M279.0 1484.2h0M311.2 1480.0h0" stroke="#38383a" stroke-opacity="0.52" stroke-width="1.9" stroke-linecap="round" fill="none"/>
<path d="M269.9 1488.3h0M319.9 1452.8h0M309.3 1456.1h0M274.5 1491.8h0M246.5 1497.9h0M257.1 1478.5h0M238.6 1487.7h0M291.8 1479.1h0M300.1 1463.7h0M272.3 1489.9h0M250.4 1483.9h0M285.1 1468.3h0M251.0 1495.8h0M251.4 1493.9h0M256.5 1495.1h0M212.5 1491.3h0M233.9 1489.7h0M270.3 1479.9h0M282.2 1495.4h0M219.1 1495.9h0M272.8 1486.3h0M260.5 1498.1h0M312.2 1470.9h0M274.2 1490.2h0M269.1 1440.4h0M266.2 1487.3h0M244.2 1482.0h0M280.8 1481.7h0M243.6 1485.1h0M261.0 1484.1h0M296.4 1477.6h0M335.7 1452.9h0M314.4 1452.7h0M229.2 1497.5h0M221.0 1493.1h0M279.8 1488.6h0M224.6 1490.6h0M264.9 1483.7h0M218.9 1500.0h0M288.8 1463.7h0M232.8 1493.2h0M260.1 1489.7h0M240.0 1502.4h0M273.5 1491.4h0M266.8 1485.0h0M272.1 1485.1h0M228.0 1491.9h0M213.8 1494.5h0M262.8 1490.3h0M305.6 1464.4h0M305.1 1475.7h0M251.1 1489.1h0M282.6 1493.5h0M289.0 1457.8h0M245.1 1483.8h0M252.1 1480.2h0M244.3 1491.9h0M314.0 1457.4h0M305.5 1483.3h0M277.4 1485.3h0M302.4 1475.2h0M232.5 1489.7h0M276.1 1463.1h0M309.7 1460.4h0M328.9 1475.3h0M223.2 1501.2h0M293.5 1482.1h0M299.7 1457.0h0M249.9 1494.2h0M334.7 1452.9h0M249.3 1481.9h0M217.5 1497.4h0M278.1 1469.0h0M272.1 1491.3h0M245.4 1486.0h0M259.7 1480.4h0M322.0 1447.2h0M301.2 1486.7h0M293.5 1468.2h0M280.7 1493.6h0M270.1 1493.2h0M235.6 1488.0h0M238.9 1498.2h0M284.4 1485.9h0M311.3 1466.0h0M267.2 1494.1h0M279.9 1470.6h0M293.9 1474.4h0M293.1 1475.5h0M271.0 1491.5h0M307.1 1455.8h0M281.7 1483.0h0M246.7 1487.7h0M269.6 1498.9h0M287.1 1488.0h0M257.9 1486.0h0M204.7 1497.2h0M294.0 1481.1h0M292.5 1491.8h0M313.3 1482.4h0M228.6 1500.1h0M305.6 1492.0h0M261.4 1481.9h0M204.0 1493.4h0M216.5 1496.9h0M282.7 1484.2h0M180.5 1495.9h0M305.4 1461.0h0M296.8 1456.7h0M300.8 1491.0h0M316.7 1476.9h0M287.2 1472.4h0M233.5 1500.2h0M266.7 1486.8h0M274.9 1481.0h0M264.2 1499.6h0M228.8 1441.0h0M260.7 1485.2h0M336.3 1459.2h0M252.9 1482.8h0M265.6 1490.4h0M259.8 1484.5h0M260.5 1495.8h0M251.3 1475.8h0M297.3 1471.2h0M204.0 1504.3h0M203.9 1495.6h0M291.7 1478.3h0M276.8 1494.6h0M286.3 1489.2h0M276.9 1479.0h0M233.7 1500.9h0M237.3 1487.3h0M245.4 1484.7h0M300.1 1484.3h0M250.7 1485.1h0M316.2 1453.7h0M278.4 1475.2h0M300.9 1463.2h0M255.9 1494.1h0M288.9 1474.8h0M259.5 1483.4h0M299.7 1487.3h0M246.3 1495.2h0M271.5 1493.2h0M271.1 1481.6h0M258.8 1485.4h0M280.3 1483.0h0M298.5 1480.3h0M260.0 1490.7h0M284.9 1483.2h0M196.3 1495.1h0M253.2 1483.0h0M215.0 1495.1h0M250.1 1484.6h0M282.9 1492.2h0M292.9 1484.3h0M272.9 1469.4h0M277.4 1486.3h0M319.8 1440.3h0M354.1 1448.6h0M239.0 1485.7h0M299.6 1488.4h0M262.7 1482.1h0M239.9 1490.8h0M309.3 1459.8h0M252.9 1492.6h0M235.3 1486.8h0M300.5 1459.0h0M294.4 1461.6h0M232.8 1485.2h0M284.4 1484.9h0M224.4 1498.1h0M277.9 1483.8h0M251.5 1484.7h0M288.1 1488.2h0M285.1 1476.5h0M253.9 1494.4h0M244.2 1487.4h0M318.1 1469.9h0M259.5 1485.9h0M268.1 1488.0h0M267.0 1452.4h0M292.0 1492.2h0M263.9 1477.8h0M307.1 1474.4h0M247.5 1488.4h0M231.2 1492.2h0M225.0 1499.9h0M246.2 1499.5h0M226.3 1489.6h0M321.8 1432.0h0M294.1 1469.7h0M283.0 1482.9h0M228.2 1490.8h0M241.7 1484.8h0M218.2 1501.4h0M273.9 1485.2h0M207.6 1503.2h0M316.1 1484.6h0M279.5 1472.2h0M233.4 1493.9h0M238.7 1492.3h0M224.7 1489.2h0M251.5 1498.2h0M317.6 1448.5h0M294.1 1466.0h0M314.7 1475.5h0M268.8 1483.0h0M252.9 1498.1h0M277.1 1473.9h0M249.1 1495.3h0M265.8 1487.9h0M194.7 1505.4h0M300.8 1471.4h0M250.0 1487.3h0M230.8 1491.7h0M264.9 1484.1h0M277.6 1472.6h0M318.1 1467.5h0M326.1 1467.8h0M310.4 1466.1h0M293.4 1470.8h0M295.4 1485.9h0M254.9 1491.9h0M260.3 1490.0h0M226.1 1484.4h0M245.6 1486.7h0M218.1 1503.4h0M296.6 1484.9h0M216.7 1490.4h0M287.5 1478.3h0M245.0 1486.3h0M245.2 1495.6h0M257.9 1495.8h0M291.8 1476.0h0M260.8 1493.7h0M228.0 1493.7h0M247.5 1482.7h0M286.6 1476.9h0M259.5 1484.0h0M268.5 1492.5h0M247.8 1503.0h0M274.3 1490.5h0M301.3 1458.4h0M234.4 1498.8h0M307.3 1469.8h0M238.6 1497.3h0M286.8 1492.3h0M252.5 1484.6h0M307.8 1481.6h0M236.3 1489.9h0M234.3 1490.5h0M309.4 1464.0h0M287.4 1463.7h0M261.2 1493.9h0M217.1 1501.7h0M254.3 1481.2h0M292.0 1451.7h0M225.8 1505.1h0M305.3 1476.9h0M264.5 1490.2h0M244.2 1488.2h0M255.0 1498.6h0M320.1 1448.7h0" stroke="#38383a" stroke-opacity="0.52" stroke-width="1.9" stroke-linecap="round" fill="none"/>
<path d="M135.3 1302.5H138.6M135.3 1365H138.6M135.3 1433.4H138.6M135.3 1354H138.6M135.3 1420.9H138.6M135.3 1346.2H138.6M135.3 1412H138.6M133.4 1340.1H138.6M133.4 1405.1H138.6M135.3 1335.2H138.6M135.3 1399.5H138.6M135.3 1331H138.6M135.3 1394.8H138.6M135.3 1327.4H138.6M135.3 1390.7H138.6M135.3 1324.2H138.6M135.3 1387H138.6M135.3 1486.6H138.6M135.3 1506.1H138.6M135.3 1482.4H138.6M135.3 1510.7H138.6M135.3 1478.2H138.6M135.3 1515.2H138.6M133.4 1474.2H138.6M133.4 1519.6H138.6M135.3 1470.2H138.6M135.3 1523.9H138.6M135.3 1466.3H138.6M135.3 1528.1H138.6M135.3 1462.4H138.6M135.3 1532.3H138.6M135.3 1458.5H138.6M135.3 1536.5H138.6" stroke="#4a4a4c" stroke-width="1.7" fill="none"/>
<path d="M131.4 1321.3H138.6M131.4 1383.8H138.6M131.4 1454.7H138.6M131.4 1540.6H138.6" stroke="#3c3c3e" stroke-width="2.1" fill="none"/>
<path d="M131 1489.7H138.6M132.4 1490.6H138.6M130.4 1491.5H138.6M133 1492.4H138.6M131 1493.3H138.6M132.4 1494.2H138.6M130.4 1495.1H138.6M133 1496H138.6M131 1496.9H138.6M132.4 1497.8H138.6M130.4 1498.7H138.6M133 1499.6H138.6M131 1500.5H138.6M132.4 1501.4H138.6M130.4 1502.3H138.6" stroke="#1f1f21" stroke-width="1.1" fill="none"/>
<path d="M149.1 1557V1561.2M159 1557V1561.2M168.9 1557V1561.2M178.8 1557V1561.2M198.5 1557V1561.2M208.4 1557V1561.2M218.3 1557V1561.2M228.2 1557V1561.2M248 1557V1561.2M257.9 1557V1561.2M267.7 1557V1561.2M277.6 1557V1561.2M297.4 1557V1561.2M307.3 1557V1561.2M317.2 1557V1561.2M327.1 1557V1561.2M346.8 1557V1561.2M356.7 1557V1561.2M366.6 1557V1561.2M376.5 1557V1561.2M396.3 1557V1561.2" stroke="#555557" stroke-width="1.5" fill="none"/>
<path d="M139.2 1557V1564M188.6 1557V1564M238.1 1557V1564M287.5 1557V1564M337 1557V1564M386.4 1557V1564" stroke="#4a4a4c" stroke-width="2.1" fill="none"/>
<path d="M141.7 1297.8V1462H395.5" stroke="#707173" stroke-width="1.5" fill="none"/>
<path d="M395.5 1297.8V1462.8" stroke="#505052" stroke-width="2.1" fill="none"/>
<rect x="138.6" y="1296.7" width="260.7" height="260.3" stroke="#707173" stroke-width="1.6" fill="none"/>
<text x="127.1" y="1326" font-size="10.3" text-anchor="end" class="t">10<tspan dy="-4" font-size="8.4">5</tspan></text>
<text x="127.1" y="1388.5" font-size="10.3" text-anchor="end" class="t">10<tspan dy="-4" font-size="8.4">4</tspan></text>
<text x="127.1" y="1459.4" font-size="10.3" text-anchor="end" class="t">10<tspan dy="-4" font-size="8.4">3</tspan></text>
<text x="126.9" y="1500.7" font-size="10.3" text-anchor="end" class="t">0</text>
<text x="129.3" y="1545.3" font-size="10.3" text-anchor="end" class="t">−10<tspan dy="-4" font-size="8.4">3</tspan></text>
<text x="139.2" y="1576.4" font-size="10.4" text-anchor="middle" class="t">0</text>
<text x="188.6" y="1576.4" font-size="10.4" text-anchor="middle" class="t">50K</text>
<text x="238.1" y="1576.4" font-size="10.4" text-anchor="middle" class="t">100K</text>
<text x="287.5" y="1576.4" font-size="10.4" text-anchor="middle" class="t">150K</text>
<text x="337" y="1576.4" font-size="10.4" text-anchor="middle" class="t">200K</text>
<text x="386.4" y="1576.4" font-size="10.4" text-anchor="middle" class="t">250K</text>
<text transform="translate(271.3 1290) scale(1 1.01)" font-size="24.8" text-anchor="middle">ctrl</text>
<text transform="translate(373.8 1327.6) scale(1 1.03)" font-size="20.5" text-anchor="end" class="p">3%</text>
<path d="M612.2 1491.6h0M517.3 1458.8h0M542.0 1479.1h0M543.9 1487.5h0M588.5 1472.7h0M589.0 1440.4h0M593.4 1436.9h0M536.0 1482.4h0M467.2 1487.0h0M587.5 1448.9h0M593.4 1419.7h0M540.3 1482.2h0M533.9 1437.1h0M537.1 1494.0h0M547.7 1433.1h0M492.6 1370.6h0M548.1 1477.7h0M617.2 1437.6h0M521.2 1413.2h0M581.7 1452.3h0M599.0 1418.4h0M532.4 1431.3h0M524.0 1500.1h0M610.1 1453.4h0M504.1 1456.6h0M584.2 1389.2h0M569.3 1446.6h0M598.0 1373.8h0M609.7 1481.4h0M558.4 1393.6h0M586.9 1487.2h0M553.0 1412.7h0M557.2 1438.6h0M547.3 1375.4h0M574.9 1447.8h0M559.5 1478.8h0M546.8 1498.2h0M605.4 1390.7h0M609.5 1400.5h0M519.6 1474.2h0M546.0 1362.1h0M594.1 1389.7h0M549.0 1508.7h0M579.4 1421.2h0M564.7 1485.4h0M527.3 1500.3h0M601.6 1440.8h0M561.5 1483.4h0M560.7 1444.1h0M540.6 1437.3h0M552.9 1491.2h0M522.2 1484.3h0M608.3 1394.7h0M510.1 1426.3h0M584.2 1486.7h0M541.3 1459.8h0M614.8 1406.0h0M546.4 1418.4h0M522.1 1458.6h0M565.3 1486.2h0M552.1 1396.2h0M573.1 1391.5h0M619.6 1476.8h0M595.3 1425.9h0M601.1 1440.3h0M555.6 1485.2h0M584.9 1382.2h0M574.7 1493.7h0M563.3 1472.6h0M543.9 1484.0h0M572.1 1475.4h0M600.0 1475.7h0M522.3 1358.8h0M609.7 1390.9h0M610.9 1482.6h0M595.1 1464.2h0M600.8 1470.7h0M594.5 1491.3h0M541.6 1422.1h0M578.8 1372.7h0M537.1 1425.3h0M612.9 1362.5h0M563.2 1478.6h0M528.7 1470.1h0M558.9 1433.8h0M584.3 1436.4h0M553.9 1421.2h0M565.6 1417.9h0M539.2 1377.5h0M551.9 1507.9h0M602.4 1385.8h0M555.1 1411.4h0M549.2 1491.7h0M583.0 1459.1h0M621.1 1485.0h0M579.8 1485.8h0M575.8 1445.0h0M565.4 1451.6h0M559.5 1493.7h0M591.9 1444.4h0M549.1 1500.0h0M576.6 1402.1h0M615.9 1479.6h0M583.7 1490.7h0M564.2 1478.6h0M505.1 1492.5h0M617.6 1486.8h0M600.6 1436.8h0M512.3 1499.3h0M600.4 1393.0h0M588.2 1484.8h0M615.9 1373.0h0M547.7 1494.8h0M572.2 1501.0h0M519.8 1488.6h0M620.6 1485.6h0M556.5 1461.4h0M565.0 1487.2h0M532.8 1423.0h0M578.5 1420.9h0M608.2 1404.2h0M597.4 1456.5h0M574.8 1478.7h0M562.7 1449.4h0M562.6 1357.9h0M572.7 1430.2h0M548.8 1486.7h0M593.7 1398.3h0M595.4 1482.4h0M596.1 1425.9h0M559.6 1457.0h0M576.4 1393.8h0M556.4 1495.3h0M592.9 1452.7h0M541.7 1488.4h0M549.7 1480.1h0M580.8 1427.3h0M586.9 1378.3h0M581.3 1446.1h0M613.8 1410.8h0M582.7 1481.3h0M541.5 1482.6h0M509.2 1498.6h0M571.3 1432.1h0M570.7 1480.2h0M535.7 1462.7h0M551.7 1490.0h0M558.3 1471.3h0M580.4 1481.1h0M565.1 1432.9h0M539.0 1433.6h0M545.9 1485.7h0M578.0 1441.5h0M618.3 1380.3h0M570.9 1439.7h0M517.5 1448.9h0M547.5 1477.6h0M600.1 1439.0h0M487.0 1482.5h0M549.3 1491.3h0M534.7 1448.7h0M593.5 1425.2h0M517.6 1414.7h0M623.6 1419.7h0M536.1 1476.1h0M598.4 1469.3h0M587.3 1434.3h0M532.3 1492.1h0M561.3 1417.3h0M611.8 1401.8h0M561.0 1450.5h0M584.9 1494.1h0M518.5 1470.6h0M568.4 1489.6h0M533.2 1428.1h0M594.6 1478.9h0M591.8 1422.9h0M572.4 1487.3h0M596.1 1433.7h0M582.5 1435.3h0M527.1 1494.1h0M562.1 1495.0h0M560.1 1441.9h0M569.5 1455.5h0M575.0 1485.3h0M563.0 1407.1h0M576.9 1487.4h0M585.6 1488.7h0M572.0 1496.3h0M563.5 1477.9h0M557.7 1480.9h0M569.0 1484.3h0M569.7 1402.2h0M575.3 1449.7h0M538.8 1403.0h0M584.9 1418.5h0M493.6 1500.3h0M524.4 1488.3h0M554.5 1435.8h0M565.1 1451.9h0M569.5 1480.8h0M577.8 1449.4h0M589.8 1499.4h0M543.3 1501.4h0M538.4 1488.8h0M562.2 1492.4h0M525.1 1436.8h0M603.9 1489.2h0M550.3 1498.6h0M571.7 1492.3h0M561.3 1403.8h0M575.9 1473.9h0M618.4 1438.4h0M582.0 1467.4h0M556.0 1490.9h0M534.8 1486.4h0M539.5 1490.4h0M551.6 1367.6h0M569.5 1491.3h0M580.4 1444.5h0M587.8 1411.4h0M621.5 1489.3h0M591.1 1434.4h0M555.5 1403.0h0M600.6 1472.1h0M538.4 1501.7h0M575.2 1455.6h0M581.9 1493.5h0M570.5 1461.8h0M612.2 1479.0h0M591.7 1457.6h0M563.6 1333.6h0M569.2 1429.9h0M565.9 1496.3h0M578.4 1414.5h0M572.2 1485.0h0M566.6 1487.2h0M545.6 1378.3h0M562.2 1448.2h0M551.0 1438.4h0M543.5 1422.9h0M568.5 1436.8h0M581.7 1473.2h0M531.9 1442.6h0M538.7 1490.9h0M562.1 1459.8h0M527.0 1486.2h0M598.6 1442.7h0M548.0 1482.3h0M537.7 1430.4h0M562.0 1493.2h0M579.9 1414.3h0M507.0 1487.3h0M570.7 1449.9h0M542.9 1383.0h0M604.1 1432.4h0M573.4 1427.0h0M614.0 1480.4h0M613.5 1473.5h0M562.4 1459.9h0M571.3 1409.7h0M623.7 1466.6h0M539.8 1457.2h0M533.7 1496.1h0M554.7 1488.2h0M575.2 1381.5h0M566.6 1435.6h0M583.4 1494.2h0M588.3 1462.3h0M602.2 1449.4h0M608.4 1464.6h0M575.2 1398.4h0M531.4 1489.7h0M582.4 1441.8h0M595.0 1447.2h0M591.6 1493.6h0M624.0 1483.1h0M517.9 1475.1h0M577.1 1403.5h0M564.0 1422.9h0M557.5 1424.4h0M596.5 1413.3h0M614.6 1441.2h0M575.7 1417.7h0M541.6 1437.0h0M613.9 1484.6h0M595.9 1350.3h0M549.9 1462.6h0M529.0 1475.0h0M567.0 1503.5h0M573.6 1493.6h0M549.6 1433.3h0M556.9 1487.2h0M572.6 1450.6h0M574.1 1415.3h0M616.4 1449.5h0M570.5 1478.0h0M631.1 1404.8h0M541.6 1494.2h0M553.6 1415.8h0M519.7 1489.2h0M562.9 1484.5h0M555.5 1431.8h0M565.7 1430.2h0M636.8 1476.5h0M574.1 1488.7h0M554.4 1484.5h0M590.1 1493.8h0M578.9 1492.1h0M632.5 1372.8h0M605.4 1485.5h0M493.2 1461.2h0M574.8 1483.4h0M572.1 1371.4h0M586.3 1483.7h0M619.9 1484.8h0M590.3 1430.8h0M538.2 1414.7h0M578.4 1355.6h0M591.0 1488.9h0M591.4 1434.8h0M526.3 1490.9h0M506.8 1485.6h0M526.9 1495.3h0M562.7 1473.3h0M573.8 1514.2h0M559.9 1491.5h0M628.4 1459.8h0M591.1 1477.1h0M566.0 1386.3h0M528.6 1493.6h0M578.3 1468.9h0M586.4 1432.6h0M552.0 1422.7h0M617.4 1382.5h0M547.4 1485.5h0M550.6 1429.2h0M617.8 1457.1h0M547.8 1450.1h0M566.5 1430.5h0M568.7 1419.5h0M556.4 1416.5h0M565.3 1403.0h0M534.4 1406.6h0M533.9 1396.0h0M619.3 1439.9h0M487.4 1491.4h0M550.7 1494.7h0M552.7 1483.7h0M540.5 1478.4h0M568.3 1491.5h0M575.8 1373.9h0M564.7 1439.6h0M571.8 1388.8h0M589.9 1483.3h0M597.2 1414.1h0M571.2 1480.5h0M575.5 1485.1h0M603.9 1446.4h0M570.3 1433.9h0M615.7 1484.4h0M559.7 1423.6h0M585.3 1493.1h0M552.8 1486.5h0M592.4 1485.9h0M542.3 1484.5h0M584.0 1459.5h0M562.0 1373.5h0M538.4 1427.5h0M571.8 1476.5h0M542.7 1392.2h0M540.9 1480.9h0M597.3 1473.3h0M577.6 1409.1h0M555.2 1477.0h0M555.8 1401.3h0M595.5 1488.1h0M583.5 1383.3h0M564.8 1489.5h0M619.4 1377.2h0M567.2 1438.1h0M576.8 1454.0h0M549.6 1495.3h0M539.1 1400.9h0M558.4 1392.5h0M579.3 1487.8h0M595.6 1482.4h0M533.1 1495.4h0M571.5 1478.7h0M591.6 1431.1h0M573.3 1487.9h0M504.2 1489.9h0M574.6 1411.7h0M568.2 1397.5h0M526.5 1501.2h0M553.6 1400.2h0M561.9 1401.6h0M588.4 1441.0h0M568.9 1495.5h0M602.0 1394.6h0M587.7 1438.0h0M563.2 1388.3h0M577.8 1445.7h0M513.8 1491.8h0M586.1 1469.8h0M533.8 1488.4h0M592.8 1481.8h0M579.7 1485.0h0M588.2 1414.0h0M592.5 1481.9h0M531.4 1456.4h0M580.1 1433.1h0M535.2 1399.8h0M614.3 1410.5h0M597.4 1441.6h0M557.1 1455.2h0M571.8 1487.2h0M567.8 1434.8h0M540.4 1482.3h0M572.9 1406.3h0M585.6 1399.0h0M603.4 1465.4h0M590.9 1490.1h0M573.0 1487.8h0M625.0 1406.6h0M535.7 1476.9h0M586.8 1472.3h0M544.5 1438.2h0M566.9 1479.8h0M592.9 1411.4h0M536.2 1491.3h0M566.2 1394.7h0M602.8 1445.3h0M588.2 1415.3h0M463.1 1495.5h0M513.4 1409.2h0M593.1 1491.6h0M584.1 1479.9h0M553.1 1482.7h0M590.5 1433.9h0M594.6 1477.4h0M610.4 1377.8h0M568.1 1434.5h0M524.1 1500.3h0M606.8 1481.7h0M583.2 1484.9h0M582.5 1426.5h0M586.3 1368.2h0M538.3 1429.0h0M517.4 1488.3h0M579.9 1362.4h0M607.4 1461.1h0M538.6 1423.5h0M566.7 1474.6h0M590.2 1486.2h0M570.9 1483.9h0M472.0 1491.7h0M566.3 1421.6h0M567.8 1397.0h0M560.9 1482.5h0M551.6 1496.1h0M581.0 1429.4h0M634.8 1440.5h0M572.9 1438.9h0M540.4 1481.4h0M589.2 1426.5h0M616.1 1421.3h0M554.9 1483.4h0M520.8 1422.4h0M584.1 1488.5h0M606.5 1443.0h0M587.7 1417.4h0M560.2 1482.1h0M569.4 1485.4h0M528.4 1430.0h0M555.5 1343.4h0M588.9 1378.2h0M575.1 1487.2h0M520.5 1428.6h0M557.6 1430.8h0M610.8 1452.2h0M574.9 1380.3h0M559.9 1443.0h0M495.2 1477.7h0M539.8 1392.2h0M559.9 1489.6h0M576.8 1359.9h0M534.0 1478.8h0M565.4 1414.7h0M625.0 1424.5h0M527.9 1407.4h0M563.9 1484.7h0M544.0 1476.6h0M587.2 1486.8h0M589.7 1493.7h0M578.7 1429.4h0M564.6 1410.5h0M600.1 1445.3h0M550.6 1480.8h0M559.5 1466.8h0M571.4 1385.1h0M524.9 1499.1h0M544.9 1403.3h0M596.7 1424.2h0M527.5 1491.8h0M555.7 1471.8h0M608.1 1415.8h0M608.0 1482.6h0M593.8 1451.4h0M534.4 1375.3h0M602.4 1473.0h0M501.5 1485.2h0M605.3 1402.5h0" stroke="#38383a" stroke-opacity="0.52" stroke-width="1.9" stroke-linecap="round" fill="none"/>
<path d="M597.9 1401.0h0M566.2 1446.3h0M585.8 1477.4h0M570.3 1488.6h0M532.9 1491.6h0M543.8 1491.2h0M571.7 1485.3h0M568.7 1468.2h0M577.8 1448.6h0M551.3 1467.3h0M567.6 1389.8h0M598.8 1391.7h0M591.5 1378.5h0M592.2 1431.3h0M528.2 1496.2h0M577.1 1472.2h0M554.0 1479.7h0M535.5 1478.6h0M542.5 1431.2h0M593.5 1461.1h0M564.8 1450.6h0M512.4 1498.6h0M552.9 1439.3h0M494.9 1462.3h0M577.4 1443.6h0M571.8 1475.4h0M510.9 1492.4h0M575.8 1501.0h0M580.8 1416.8h0M560.8 1416.0h0M573.4 1420.7h0M523.5 1483.7h0M588.2 1371.1h0M567.2 1430.9h0M571.4 1407.1h0M528.1 1481.4h0M522.6 1494.1h0M550.7 1493.9h0M602.5 1427.8h0M617.2 1458.1h0M523.7 1472.7h0M570.5 1420.0h0M532.3 1482.1h0M516.7 1482.9h0M541.9 1481.3h0M571.5 1381.5h0M604.1 1404.8h0M576.4 1439.8h0M560.0 1482.6h0M566.3 1453.9h0M612.9 1503.1h0M602.0 1411.8h0M613.9 1384.8h0M530.1 1498.4h0M482.6 1446.9h0M603.9 1417.6h0M550.9 1398.1h0M593.5 1424.1h0M541.2 1402.3h0M513.1 1399.8h0M582.1 1501.3h0M553.2 1401.8h0M541.9 1488.8h0M572.7 1487.6h0M522.6 1446.9h0M564.3 1371.5h0M552.0 1484.7h0M590.9 1463.5h0M605.6 1358.8h0M586.2 1404.5h0M567.7 1470.8h0M538.0 1486.9h0M554.8 1424.7h0M588.1 1367.8h0M525.7 1495.3h0M551.0 1485.0h0M569.7 1478.1h0M573.1 1484.8h0M494.3 1489.4h0M561.2 1494.6h0M546.5 1378.7h0M574.1 1452.0h0M528.7 1479.8h0M528.4 1390.1h0M529.6 1416.5h0M598.9 1476.1h0M542.5 1489.9h0M561.3 1494.5h0M587.5 1456.8h0M575.0 1448.1h0M579.4 1409.0h0M565.7 1425.4h0M573.6 1386.0h0M561.8 1483.2h0M575.8 1412.6h0M551.4 1441.8h0M539.4 1488.8h0M543.2 1493.7h0M577.8 1441.8h0M544.0 1482.0h0M555.7 1404.3h0M582.2 1487.9h0M555.1 1490.3h0M602.7 1455.9h0M527.2 1379.6h0M580.1 1479.1h0M587.5 1431.7h0M535.1 1399.4h0M570.5 1429.1h0M521.0 1484.9h0M586.1 1478.6h0M541.3 1461.2h0M596.9 1433.0h0M558.7 1429.6h0M601.1 1405.4h0M553.3 1491.5h0M577.1 1485.5h0M600.0 1441.1h0M562.8 1478.2h0M559.5 1379.3h0M572.3 1493.2h0M568.8 1364.6h0M554.7 1500.1h0M532.4 1495.9h0M588.2 1380.7h0M589.5 1478.2h0M587.7 1479.5h0M566.5 1500.2h0M588.8 1430.5h0M554.2 1401.1h0M607.0 1414.8h0M492.1 1502.2h0M570.5 1444.3h0M519.8 1497.3h0M588.9 1418.2h0M522.3 1499.3h0M554.9 1389.8h0M576.5 1477.9h0M569.9 1491.8h0M581.7 1491.3h0M555.9 1482.8h0M612.8 1485.9h0M627.0 1501.9h0M597.1 1407.1h0M583.0 1458.7h0M604.0 1485.3h0M570.2 1481.0h0M541.4 1474.5h0M586.7 1464.3h0M576.7 1419.0h0M550.1 1413.7h0M581.6 1426.5h0M582.9 1408.8h0M548.0 1488.4h0M578.9 1438.9h0M587.5 1447.8h0M562.2 1435.0h0M586.0 1475.8h0M524.9 1426.9h0M585.7 1497.1h0M567.6 1420.3h0M550.6 1480.5h0M591.0 1491.7h0M523.6 1435.2h0M621.4 1442.1h0M560.5 1501.0h0M527.8 1491.9h0M564.2 1486.1h0M543.1 1445.4h0M555.4 1405.9h0M566.7 1421.7h0M603.6 1485.0h0M585.1 1482.1h0M570.1 1417.4h0M611.8 1500.5h0M504.2 1480.2h0M618.0 1420.9h0M536.1 1417.1h0M575.5 1498.9h0M541.8 1496.5h0M551.5 1430.5h0M590.9 1483.6h0M518.3 1482.1h0M583.5 1467.9h0M577.6 1422.0h0M560.5 1372.3h0M582.7 1427.2h0M586.6 1477.1h0M532.7 1432.0h0M550.0 1460.4h0M540.3 1457.6h0M556.4 1500.4h0M626.1 1394.7h0M535.2 1439.8h0M553.5 1489.1h0M566.4 1399.6h0M600.0 1469.8h0M595.7 1484.6h0M559.6 1490.2h0M579.4 1475.2h0M568.7 1465.2h0M550.2 1448.5h0M546.4 1443.4h0M526.4 1385.8h0M565.6 1492.3h0M514.4 1499.5h0M551.0 1485.8h0M580.3 1493.1h0M497.3 1493.1h0M586.8 1410.5h0M570.3 1488.8h0M591.6 1337.9h0M584.1 1408.2h0M579.8 1469.6h0M600.3 1382.0h0M556.0 1387.5h0M598.4 1408.7h0M528.6 1461.7h0M556.8 1483.9h0M585.2 1418.3h0M575.9 1488.2h0M576.5 1469.4h0M570.8 1491.3h0M555.7 1413.0h0M566.6 1492.7h0M543.8 1485.7h0M579.9 1443.0h0M547.4 1422.0h0M536.8 1400.6h0M587.6 1457.8h0M582.0 1489.4h0M539.7 1485.6h0M548.9 1479.7h0M557.0 1432.9h0M587.6 1481.5h0M566.4 1457.0h0M565.7 1367.6h0M556.3 1390.6h0M608.0 1415.6h0M574.5 1492.6h0M521.7 1348.4h0M541.0 1427.9h0M601.1 1400.6h0M583.7 1423.0h0M575.8 1396.7h0M539.5 1487.0h0M549.7 1476.6h0M551.5 1436.3h0M597.9 1452.0h0M581.4 1481.8h0M585.2 1354.7h0M569.9 1427.6h0M563.2 1369.8h0M552.9 1380.1h0M566.1 1446.8h0M570.4 1487.5h0M540.0 1436.8h0M587.6 1388.5h0M528.4 1372.3h0M546.3 1372.6h0M567.3 1395.2h0M558.6 1489.7h0M596.0 1482.9h0M563.2 1477.0h0M560.0 1489.0h0M584.1 1467.7h0M559.9 1347.1h0M559.0 1486.3h0M567.0 1482.1h0M535.4 1501.9h0M524.0 1425.4h0M543.7 1489.8h0M591.1 1361.2h0M579.5 1441.9h0M547.7 1419.0h0M583.2 1400.3h0M602.7 1373.2h0M479.5 1497.1h0M576.3 1486.3h0M596.5 1483.2h0M558.7 1418.9h0M552.9 1452.4h0M545.5 1486.7h0M570.1 1489.1h0M582.7 1486.5h0M601.2 1481.4h0M589.3 1456.3h0M559.0 1386.9h0M549.2 1499.0h0M594.3 1485.2h0M562.5 1476.7h0M599.4 1433.7h0M580.5 1481.1h0M541.9 1478.6h0M556.3 1502.0h0M570.1 1432.0h0M591.6 1495.6h0M521.7 1490.9h0M542.2 1477.2h0M596.5 1419.7h0M569.2 1411.8h0M584.7 1415.7h0M554.6 1491.0h0M556.3 1482.6h0M563.2 1496.0h0M515.7 1486.8h0M581.2 1442.5h0M578.6 1426.4h0M592.3 1370.1h0M576.7 1420.9h0M614.5 1403.8h0M591.4 1450.0h0M545.0 1447.6h0M574.2 1454.5h0M557.7 1422.8h0M512.9 1473.3h0M570.4 1459.2h0M567.3 1500.7h0M611.6 1458.3h0M606.7 1403.7h0M566.6 1404.4h0M531.2 1480.9h0M578.1 1483.4h0M566.6 1474.0h0M541.3 1483.3h0M572.9 1446.1h0M594.8 1411.3h0M573.5 1460.7h0M585.5 1485.4h0M575.0 1472.6h0M579.1 1479.5h0M584.2 1399.6h0M559.1 1462.0h0M621.3 1412.4h0M537.5 1407.1h0M511.7 1400.8h0M570.1 1406.1h0M552.3 1405.1h0M592.8 1424.6h0M589.7 1409.5h0M545.7 1379.4h0M552.1 1496.5h0M545.2 1490.7h0M588.3 1433.5h0M528.1 1420.5h0M575.3 1418.6h0M568.6 1492.0h0M560.5 1482.4h0M548.2 1482.6h0M595.7 1480.9h0M560.9 1419.1h0M493.5 1495.8h0M565.6 1481.7h0M563.8 1383.1h0M570.2 1478.0h0M567.1 1422.0h0M559.0 1472.6h0M546.3 1417.5h0M609.6 1475.3h0M508.7 1503.4h0M599.1 1398.9h0M514.8 1488.6h0M608.9 1438.9h0M535.0 1488.4h0M562.4 1482.8h0M576.5 1387.9h0M553.9 1474.0h0M565.6 1478.0h0M602.6 1361.4h0M508.6 1428.0h0M603.0 1489.6h0M580.7 1428.4h0M599.2 1417.9h0M570.1 1411.8h0M557.8 1451.2h0M585.4 1428.8h0M571.0 1479.3h0M560.5 1397.4h0M552.0 1468.2h0M513.2 1490.3h0M526.9 1493.5h0M564.0 1437.1h0M585.2 1482.3h0M564.5 1480.7h0M544.2 1448.8h0M600.7 1479.4h0M606.7 1458.8h0M610.5 1478.3h0M602.9 1379.2h0M585.3 1402.7h0M572.6 1368.2h0M561.7 1419.4h0M551.6 1487.0h0M556.5 1493.1h0M612.4 1401.2h0M557.6 1397.5h0M582.3 1479.5h0M580.9 1482.6h0M563.1 1476.9h0M562.7 1417.1h0M562.6 1397.4h0M601.0 1406.6h0M546.0 1478.4h0M638.8 1444.6h0M569.1 1485.9h0M531.8 1489.9h0M595.5 1397.1h0M540.8 1494.3h0M612.7 1443.5h0M574.7 1472.1h0M599.5 1488.6h0M565.1 1451.1h0M567.3 1451.0h0M563.1 1439.5h0M546.0 1402.8h0M552.3 1406.5h0M538.2 1373.1h0M626.7 1412.5h0M587.6 1481.3h0M522.6 1482.6h0M539.9 1364.5h0M592.4 1485.4h0M522.6 1425.1h0M559.7 1442.4h0M586.6 1478.0h0M542.4 1503.6h0M549.7 1435.4h0M603.8 1412.3h0M520.9 1491.9h0M547.1 1367.0h0M529.7 1499.9h0M605.4 1439.1h0M588.7 1432.2h0M584.5 1373.8h0M556.5 1500.5h0M573.5 1355.3h0M583.4 1481.5h0M544.7 1474.2h0M527.2 1431.8h0M544.2 1484.9h0M628.2 1483.2h0M533.8 1416.2h0M532.6 1449.2h0M605.5 1478.4h0M560.9 1385.6h0M552.2 1474.5h0M561.6 1481.8h0M599.0 1389.8h0M574.3 1409.7h0M602.7 1488.6h0M562.1 1483.2h0M592.1 1500.7h0M524.0 1492.2h0M517.8 1498.6h0M588.7 1487.5h0M585.2 1441.6h0M589.2 1479.7h0M555.0 1493.0h0M550.9 1503.2h0M563.0 1496.7h0M583.6 1410.2h0M575.5 1423.1h0M589.2 1448.4h0M505.8 1497.8h0M539.3 1487.5h0M559.6 1451.5h0M537.5 1431.4h0M619.0 1419.5h0M512.1 1489.5h0M531.8 1425.7h0M496.2 1488.4h0M561.2 1399.7h0M538.0 1485.4h0M594.2 1496.0h0M593.2 1484.5h0M573.2 1432.0h0M641.1 1478.0h0M558.3 1488.6h0M542.6 1491.4h0M558.5 1412.6h0M536.4 1385.3h0M599.4 1505.4h0M570.9 1414.4h0M608.3 1461.3h0M582.7 1483.2h0M548.0 1432.4h0M614.4 1490.7h0M553.6 1461.3h0M593.4 1436.3h0M562.2 1417.4h0M584.9 1486.8h0M586.2 1468.4h0M556.7 1483.9h0M590.5 1379.5h0M569.1 1488.5h0M562.1 1479.1h0M591.7 1449.7h0M649.5 1488.9h0M612.9 1478.0h0M572.3 1488.0h0M574.6 1449.0h0M551.4 1492.4h0M539.7 1419.7h0M571.6 1482.0h0M538.3 1452.0h0M577.3 1485.5h0M582.0 1481.0h0M589.2 1418.8h0M537.2 1483.8h0M599.3 1424.2h0M570.1 1436.4h0M585.4 1420.4h0M536.3 1489.0h0" stroke="#38383a" stroke-opacity="0.52" stroke-width="1.9" stroke-linecap="round" fill="none"/>
<path d="M554.7 1483.1h0M576.5 1444.9h0M595.2 1396.4h0M565.2 1496.5h0M579.8 1406.1h0M564.7 1462.2h0M545.1 1483.3h0M614.8 1477.9h0M580.6 1485.1h0M561.3 1360.4h0M563.0 1483.5h0M530.1 1492.4h0M590.0 1483.9h0M594.1 1406.2h0M568.4 1443.1h0M607.0 1479.6h0M529.7 1430.5h0M534.2 1484.2h0M582.0 1491.7h0M514.3 1458.8h0M567.8 1372.7h0M538.3 1476.0h0M585.9 1448.0h0M578.3 1354.1h0M568.0 1461.7h0M523.4 1478.4h0M543.5 1468.2h0M565.0 1398.1h0M583.2 1457.2h0M550.5 1452.5h0M572.9 1435.0h0M588.7 1418.2h0M587.0 1322.5h0M667.4 1476.4h0M523.6 1489.2h0M508.9 1437.6h0M564.3 1487.2h0M578.9 1454.8h0M607.9 1410.4h0M587.8 1443.1h0M571.4 1399.7h0M562.0 1468.7h0M589.0 1470.7h0M562.5 1479.4h0M643.3 1412.9h0M612.1 1451.0h0M570.0 1377.2h0M542.6 1443.2h0M539.4 1445.5h0M556.1 1500.9h0M514.0 1371.3h0M600.1 1435.0h0M522.0 1419.7h0M548.5 1482.4h0M627.9 1362.7h0M546.9 1422.2h0M580.1 1415.6h0M567.8 1468.4h0M562.0 1488.1h0M614.8 1473.7h0M544.5 1437.9h0M559.1 1463.9h0M583.8 1487.5h0M563.0 1431.1h0M592.3 1393.7h0M591.3 1417.4h0M598.4 1468.6h0M563.4 1473.1h0M586.1 1485.8h0M574.3 1403.7h0M569.3 1409.3h0M558.1 1483.4h0M574.0 1442.3h0M565.7 1405.3h0M537.8 1479.1h0M571.7 1447.6h0M553.0 1476.0h0M584.9 1479.4h0M576.8 1388.3h0M570.1 1498.8h0M595.3 1467.4h0M630.8 1431.3h0M568.9 1491.0h0M585.4 1480.0h0M560.5 1485.8h0M576.9 1429.1h0M616.9 1426.8h0M569.5 1400.8h0M565.5 1486.9h0M553.5 1470.5h0M565.0 1466.9h0M544.4 1458.3h0M569.5 1367.3h0M554.0 1423.5h0M578.9 1479.2h0M554.5 1431.2h0M599.8 1480.4h0M587.6 1424.8h0M585.4 1430.2h0M559.8 1475.9h0M542.0 1478.2h0M586.4 1397.0h0M542.4 1395.3h0M523.5 1496.5h0M579.2 1486.6h0M586.3 1413.6h0M592.6 1393.3h0M609.5 1435.6h0M564.5 1483.0h0M592.5 1430.5h0M625.3 1477.1h0M531.7 1446.8h0M584.9 1436.7h0M543.7 1480.6h0M579.2 1442.9h0M561.0 1490.1h0M606.9 1441.0h0M587.8 1387.8h0M588.9 1479.2h0M559.4 1412.0h0M567.4 1406.5h0M560.4 1450.7h0M616.2 1490.0h0M592.9 1476.2h0M542.0 1478.0h0M607.0 1416.4h0M584.6 1404.3h0M585.9 1471.5h0M552.0 1395.2h0M581.2 1480.3h0M574.9 1401.8h0M588.8 1497.5h0M534.8 1480.7h0M533.2 1492.9h0M539.9 1432.8h0M557.0 1445.9h0M599.6 1443.2h0M541.6 1483.6h0M586.6 1484.9h0M590.7 1464.0h0M557.8 1435.7h0M593.4 1415.3h0M563.1 1497.0h0M541.5 1425.3h0M530.8 1482.0h0M610.3 1442.3h0M552.5 1467.4h0M602.7 1487.4h0M616.2 1449.1h0M536.2 1488.6h0M577.3 1373.6h0M541.5 1488.4h0M536.4 1481.5h0M589.6 1479.1h0M565.5 1415.5h0M544.9 1481.6h0M586.8 1392.5h0M576.4 1455.1h0M562.1 1471.0h0M576.8 1483.2h0M629.5 1391.0h0M594.4 1470.1h0M541.5 1483.6h0M591.1 1485.1h0M526.2 1474.1h0M509.3 1489.1h0M561.5 1478.2h0M540.9 1495.3h0M611.5 1428.5h0M575.7 1445.5h0M589.3 1479.1h0M564.3 1394.4h0M488.5 1482.2h0M551.4 1488.6h0M530.9 1487.7h0M561.6 1448.2h0M585.7 1478.2h0M530.8 1482.2h0M568.5 1391.3h0M520.4 1488.0h0M584.8 1385.3h0M557.7 1482.4h0M554.7 1436.0h0M523.7 1486.7h0M585.9 1473.0h0M601.0 1483.1h0M589.6 1475.7h0M589.5 1481.3h0M587.3 1414.1h0M577.7 1497.2h0M552.3 1410.2h0M602.1 1467.3h0M528.3 1395.6h0M555.9 1493.3h0M537.3 1485.5h0M564.3 1493.2h0M537.4 1484.2h0M587.8 1481.7h0M598.8 1484.7h0M552.6 1455.3h0M551.9 1427.6h0M541.9 1441.6h0M505.8 1503.4h0M536.5 1448.9h0M587.1 1386.0h0M529.1 1462.3h0M578.9 1439.6h0M566.6 1475.4h0M540.8 1361.0h0M512.1 1457.6h0M602.2 1426.8h0M603.1 1371.3h0M522.2 1486.6h0M594.6 1407.8h0M545.5 1423.8h0M567.7 1456.7h0M553.7 1425.3h0M566.4 1484.8h0M542.9 1483.3h0M557.6 1479.2h0M595.9 1434.2h0M563.1 1462.3h0M581.7 1449.1h0M575.9 1479.3h0M558.5 1400.7h0M542.7 1442.3h0M588.6 1464.4h0M540.3 1493.2h0M569.2 1359.3h0M579.6 1481.3h0M557.8 1488.5h0M603.2 1474.1h0M616.0 1405.0h0M528.0 1373.1h0M582.3 1473.5h0M554.3 1482.5h0M558.5 1480.7h0M551.1 1438.7h0M551.1 1427.9h0M552.8 1416.1h0M570.1 1400.0h0M572.5 1489.1h0M536.7 1436.5h0M538.8 1448.4h0M560.2 1416.3h0M577.1 1489.0h0M532.1 1397.2h0M586.5 1442.7h0M560.0 1482.5h0M571.4 1485.6h0M529.4 1491.3h0M539.9 1490.8h0M601.0 1456.5h0M566.6 1454.4h0M538.2 1369.0h0M564.7 1451.0h0M574.6 1473.0h0M593.8 1488.6h0M565.0 1436.7h0M568.7 1503.5h0M503.2 1497.9h0M572.8 1461.1h0M525.8 1378.8h0M548.0 1427.3h0M562.0 1440.9h0M559.7 1480.0h0M573.4 1496.7h0M590.9 1421.6h0M569.0 1420.7h0M611.9 1484.5h0M557.0 1483.1h0M599.0 1479.3h0M591.9 1425.4h0M602.7 1491.7h0M608.4 1360.3h0M615.9 1420.0h0M521.3 1483.5h0M601.6 1466.1h0M561.4 1489.5h0M571.1 1414.2h0M510.1 1489.7h0M552.7 1419.2h0M560.6 1413.9h0M564.0 1502.4h0M605.5 1445.0h0M561.6 1417.8h0M571.5 1487.8h0M556.4 1473.3h0M552.9 1475.0h0M597.3 1483.7h0M568.7 1478.8h0M605.4 1488.8h0M576.7 1478.8h0M504.5 1489.7h0M554.9 1490.3h0M574.6 1490.9h0M600.1 1478.5h0M562.8 1493.3h0M591.0 1358.3h0M526.1 1497.0h0M499.0 1496.8h0M525.9 1492.8h0M555.8 1409.4h0M525.3 1485.9h0M545.7 1483.9h0M573.9 1403.3h0M548.2 1452.2h0M607.8 1494.8h0M610.0 1482.0h0M548.1 1443.6h0M565.8 1374.6h0M575.7 1406.3h0M588.2 1480.0h0M556.9 1500.4h0M539.8 1432.4h0M583.9 1398.4h0M594.9 1472.2h0M517.9 1486.6h0M510.1 1492.6h0M571.7 1451.9h0M576.3 1326.3h0M607.4 1439.2h0M604.8 1476.6h0M561.8 1467.6h0M599.5 1482.0h0M627.2 1479.8h0M546.5 1486.2h0M579.6 1483.1h0M588.7 1480.7h0M541.8 1356.7h0M533.2 1494.0h0M527.6 1491.9h0M566.1 1482.7h0M637.0 1477.7h0M547.0 1396.8h0M542.1 1498.6h0M532.2 1392.4h0M527.2 1493.4h0M570.6 1497.0h0M616.0 1440.6h0M526.4 1500.7h0M565.1 1398.4h0M565.8 1481.5h0M601.1 1410.3h0M572.6 1479.8h0M574.3 1499.7h0M536.4 1459.2h0M550.4 1384.9h0M527.6 1350.7h0M548.8 1381.6h0M569.9 1389.8h0M587.9 1430.6h0M556.4 1498.8h0M543.2 1454.1h0M571.7 1383.7h0M574.3 1494.7h0M551.0 1492.6h0M495.9 1434.2h0M548.0 1405.6h0M599.9 1385.6h0M572.9 1420.0h0M597.1 1494.0h0M549.1 1413.6h0M572.3 1436.5h0M511.5 1489.0h0M587.2 1493.0h0M556.4 1492.1h0M599.0 1480.4h0M577.2 1487.3h0M556.0 1471.6h0M542.2 1498.6h0M553.9 1449.0h0M561.9 1489.9h0M521.3 1483.3h0M565.5 1358.9h0M569.0 1470.6h0M566.9 1485.4h0M538.6 1474.3h0M544.2 1472.3h0M567.7 1465.9h0M615.2 1375.9h0M548.3 1409.2h0M567.9 1484.1h0M540.8 1500.3h0M587.2 1490.6h0M541.7 1425.9h0M601.3 1477.7h0M522.6 1488.4h0M542.6 1496.3h0M562.8 1483.1h0M558.0 1482.7h0M573.6 1483.2h0M570.2 1386.6h0M540.3 1494.9h0M543.5 1486.4h0M610.4 1472.2h0M506.9 1496.4h0M572.2 1495.5h0M520.5 1491.4h0M570.8 1484.5h0M532.5 1486.5h0M563.8 1412.3h0M572.4 1474.9h0M595.7 1402.4h0M557.2 1421.0h0M549.2 1415.7h0M573.0 1495.4h0M575.7 1482.2h0M650.5 1412.5h0M552.8 1381.7h0M605.7 1451.1h0M567.3 1481.4h0M578.2 1486.7h0M509.3 1479.4h0M615.3 1494.0h0M593.8 1448.5h0M567.7 1483.1h0M557.1 1488.0h0M582.0 1482.2h0M609.7 1497.6h0M616.3 1509.3h0M557.5 1444.7h0M526.2 1461.6h0M633.7 1419.8h0M583.7 1486.1h0M554.3 1408.0h0M580.8 1462.5h0M560.2 1482.0h0M539.7 1428.2h0M566.3 1481.1h0M569.2 1484.0h0M596.4 1485.0h0M593.9 1493.5h0M568.2 1431.5h0M628.8 1485.5h0M590.4 1428.5h0M617.6 1473.9h0M534.9 1501.1h0M520.9 1494.3h0M557.4 1431.3h0M598.2 1482.9h0M585.6 1491.1h0M583.5 1323.9h0M586.2 1440.2h0M592.4 1487.2h0M576.5 1485.7h0M540.4 1495.4h0M549.7 1484.1h0M599.4 1475.0h0M601.2 1469.8h0M552.3 1497.2h0M558.0 1460.5h0M541.3 1486.3h0M541.2 1433.6h0M544.0 1486.6h0M542.8 1501.2h0M610.8 1475.3h0M558.4 1482.9h0M482.3 1486.5h0M592.8 1491.9h0M555.5 1420.2h0M563.5 1430.3h0M561.9 1379.9h0M539.6 1478.5h0M585.9 1409.9h0M579.5 1370.9h0M573.4 1414.3h0M596.5 1419.6h0M600.9 1466.5h0M562.5 1493.7h0M606.2 1380.3h0M592.5 1418.0h0M549.9 1468.0h0M591.9 1490.5h0M528.9 1484.4h0M542.5 1486.7h0M567.2 1410.3h0M504.7 1479.9h0M533.2 1435.3h0M576.2 1494.2h0M555.2 1476.5h0M532.4 1486.1h0M556.9 1416.4h0M576.7 1484.9h0M625.5 1420.7h0M584.3 1459.3h0M579.5 1484.3h0M571.8 1433.7h0M549.4 1434.6h0M584.1 1490.9h0M589.5 1432.1h0M582.7 1475.4h0M608.4 1491.6h0M541.9 1454.4h0M576.3 1418.8h0M611.8 1371.6h0M568.1 1417.9h0M567.9 1459.8h0M616.6 1439.0h0M580.2 1413.3h0M589.0 1395.8h0M542.3 1487.8h0M538.0 1418.3h0M543.3 1489.3h0M607.3 1480.6h0M618.5 1492.5h0M523.0 1455.5h0M580.5 1381.3h0M532.5 1369.3h0M543.7 1429.6h0M545.0 1479.9h0M551.5 1361.4h0" stroke="#38383a" stroke-opacity="0.52" stroke-width="1.9" stroke-linecap="round" fill="none"/>
<path d="M582.9 1385.4h0M548.0 1397.2h0M544.8 1490.2h0M599.6 1454.1h0M557.2 1401.6h0M569.1 1461.5h0M528.8 1473.0h0M539.5 1411.4h0M569.3 1481.4h0M603.7 1457.8h0M591.9 1386.4h0M551.0 1434.0h0M565.6 1377.3h0M557.3 1487.8h0M574.5 1484.7h0M566.3 1463.4h0M533.4 1478.4h0M531.2 1484.8h0M550.3 1448.0h0M572.7 1484.3h0M502.8 1482.0h0M504.0 1485.4h0M596.4 1375.6h0M549.7 1495.5h0M599.7 1437.0h0M536.1 1489.7h0M599.5 1480.8h0M587.7 1449.6h0M609.6 1467.3h0M546.9 1387.7h0M555.0 1489.3h0M564.7 1385.5h0M559.6 1487.7h0M563.0 1481.0h0M540.2 1426.3h0M559.0 1356.5h0M576.8 1481.7h0M558.1 1486.7h0M554.6 1487.4h0M614.8 1482.3h0M593.8 1489.0h0M531.1 1497.1h0M576.0 1516.8h0M585.9 1476.4h0M599.0 1426.8h0M541.6 1463.2h0M528.3 1487.3h0M565.1 1437.3h0M520.6 1424.2h0M522.0 1479.1h0M578.1 1461.9h0M545.5 1365.5h0M584.3 1487.3h0M573.2 1482.2h0M589.8 1487.3h0M550.3 1403.4h0M562.4 1443.0h0M567.5 1382.5h0M585.5 1415.2h0M534.9 1494.2h0M563.2 1476.7h0M544.8 1478.4h0M554.9 1417.6h0M578.2 1453.1h0M530.5 1502.1h0M556.1 1490.6h0M592.9 1431.3h0M555.7 1435.2h0M517.4 1495.1h0M597.7 1436.7h0M541.0 1500.2h0M597.5 1478.9h0M520.6 1479.0h0M539.9 1425.6h0M583.4 1474.8h0M540.0 1459.4h0M528.9 1499.0h0M546.2 1488.9h0M566.4 1478.8h0M535.1 1408.1h0M568.2 1477.9h0M546.8 1437.5h0M595.6 1480.9h0M554.1 1491.1h0M538.0 1486.8h0M517.1 1468.5h0M585.9 1474.6h0M544.2 1484.0h0M582.1 1471.1h0M583.2 1435.8h0M549.9 1497.2h0M517.2 1456.0h0M562.6 1370.7h0M593.5 1401.3h0M547.2 1473.7h0M600.7 1476.5h0M595.4 1472.3h0M591.6 1405.4h0M536.3 1495.7h0M616.9 1440.1h0M599.6 1478.6h0M576.4 1431.6h0M554.3 1447.8h0M547.2 1419.1h0M544.9 1467.2h0M589.5 1471.1h0M577.1 1485.6h0M613.0 1474.4h0M540.7 1398.1h0M531.7 1436.0h0M532.0 1486.7h0M612.6 1479.5h0M543.2 1481.6h0M550.5 1478.9h0M575.9 1478.1h0M583.6 1485.9h0M576.5 1478.2h0M551.2 1501.6h0M608.6 1398.9h0M562.8 1382.4h0M566.6 1391.6h0M575.9 1409.2h0M591.5 1420.6h0M513.0 1491.3h0M590.3 1458.0h0M589.4 1468.7h0M563.9 1466.4h0M605.2 1481.4h0M566.1 1482.5h0M602.8 1422.0h0M573.9 1493.9h0M505.8 1491.1h0M565.1 1485.0h0M642.6 1440.2h0M615.2 1480.8h0M567.8 1453.1h0M544.5 1453.1h0M589.8 1436.0h0M538.9 1487.5h0M534.8 1486.8h0M618.3 1498.7h0M572.4 1446.6h0M611.5 1444.3h0M557.9 1437.4h0M556.4 1481.5h0M568.1 1433.2h0M585.9 1476.5h0M538.1 1481.1h0M602.3 1488.7h0M595.9 1491.3h0M530.4 1490.5h0M536.4 1474.0h0M577.9 1494.5h0M586.3 1439.4h0M590.3 1461.7h0M573.4 1477.6h0M575.6 1438.7h0M601.4 1475.8h0M576.3 1478.6h0M565.9 1459.5h0M603.0 1407.3h0M559.0 1481.1h0M555.9 1502.2h0M606.6 1349.9h0M556.8 1489.0h0M569.1 1420.3h0M575.5 1485.9h0M570.6 1455.9h0M560.5 1400.8h0M548.8 1488.5h0M525.7 1497.6h0M595.1 1491.7h0M601.6 1374.2h0M557.4 1480.4h0M622.8 1488.0h0M535.5 1485.3h0M568.1 1477.7h0M604.5 1463.2h0M583.4 1402.3h0M554.9 1498.2h0M479.9 1494.9h0M595.5 1498.8h0M587.7 1485.2h0M595.0 1353.8h0M478.4 1490.4h0M607.1 1448.1h0M549.3 1385.4h0M579.7 1407.2h0M552.7 1491.5h0M575.8 1486.1h0M556.8 1484.1h0M581.1 1467.2h0M641.2 1468.5h0M611.7 1485.3h0M536.4 1490.0h0M575.0 1479.3h0M554.5 1441.3h0M549.1 1483.2h0M599.9 1473.0h0M575.9 1439.0h0M561.6 1447.6h0M574.2 1498.1h0M576.1 1425.8h0M577.9 1450.5h0M523.0 1431.1h0M574.7 1483.8h0M564.6 1488.8h0M577.1 1480.2h0M569.2 1483.6h0M541.8 1484.6h0M556.3 1449.1h0M558.4 1479.0h0M551.7 1486.1h0M579.2 1394.5h0M584.5 1421.2h0M562.3 1365.2h0M583.9 1481.1h0M590.5 1494.2h0M563.4 1426.1h0M592.2 1480.7h0M547.1 1481.3h0M516.2 1505.0h0M551.8 1485.1h0M594.5 1484.6h0M562.5 1499.2h0M561.5 1493.5h0M556.0 1484.6h0M590.3 1392.5h0M555.2 1492.2h0M603.1 1397.8h0M608.4 1478.8h0M624.0 1477.4h0M564.2 1403.2h0M529.1 1498.3h0M590.4 1475.9h0M564.5 1497.4h0M593.4 1421.4h0M635.0 1483.0h0M574.2 1482.3h0M565.1 1484.6h0M557.6 1386.9h0M588.5 1384.1h0M543.6 1490.4h0M542.5 1491.3h0M546.6 1456.2h0M580.7 1365.3h0M577.4 1413.9h0M565.3 1449.1h0M576.5 1480.9h0M553.8 1445.6h0M567.5 1488.8h0M552.1 1481.3h0M556.5 1372.2h0M553.6 1491.5h0M579.2 1481.8h0M585.7 1462.3h0M524.1 1496.3h0M595.7 1418.0h0M577.3 1489.0h0M571.8 1480.1h0M608.1 1357.2h0M602.6 1389.6h0M588.1 1411.7h0M536.8 1413.7h0M592.3 1431.9h0M545.3 1484.1h0M533.2 1500.8h0M608.0 1477.8h0M560.3 1476.0h0M603.5 1431.0h0M547.6 1448.5h0M612.4 1388.0h0M557.6 1424.2h0M582.8 1492.0h0M518.7 1478.2h0M602.1 1477.8h0M506.4 1495.9h0M579.6 1446.7h0M565.3 1484.1h0M552.8 1413.6h0M570.4 1409.6h0M612.2 1466.2h0M563.5 1406.3h0M562.4 1454.3h0M568.3 1379.5h0M633.0 1426.0h0M547.7 1454.2h0M560.3 1455.6h0M513.8 1382.1h0M562.3 1482.3h0M552.8 1437.3h0M535.2 1492.8h0M595.5 1482.7h0M541.0 1480.0h0M593.1 1411.7h0M571.2 1416.9h0M598.0 1488.4h0M595.4 1400.1h0M546.1 1494.6h0M596.2 1488.4h0M526.8 1494.1h0M594.1 1496.1h0M582.5 1396.4h0M572.5 1433.6h0M590.7 1395.3h0M550.6 1500.7h0M594.7 1342.5h0M536.4 1374.9h0M590.8 1432.0h0M576.8 1394.1h0M557.5 1394.6h0M596.5 1422.1h0M593.7 1484.8h0M560.4 1486.2h0M543.7 1488.6h0M543.0 1495.2h0M591.8 1472.4h0M554.9 1490.1h0M547.4 1473.8h0M560.3 1367.6h0M607.4 1479.5h0M596.0 1499.0h0M562.3 1398.2h0M587.7 1424.1h0M588.0 1464.1h0M562.3 1436.3h0M552.0 1473.3h0M543.1 1474.3h0M521.3 1497.1h0M530.5 1407.0h0M577.1 1471.7h0M547.2 1436.9h0M580.8 1422.2h0M561.1 1490.7h0M607.4 1443.3h0M578.7 1424.5h0M588.8 1407.1h0M593.1 1484.2h0M567.1 1430.6h0M566.0 1473.0h0M643.1 1474.8h0M596.7 1459.3h0M575.7 1420.8h0M547.2 1383.1h0M554.0 1500.1h0M618.0 1361.2h0M593.2 1435.6h0M546.3 1486.8h0M566.7 1414.7h0M572.4 1488.5h0M553.6 1416.2h0M581.1 1500.8h0M552.0 1494.4h0M619.8 1477.6h0M575.1 1420.6h0M575.5 1468.0h0M542.3 1489.7h0M599.4 1389.3h0M572.7 1482.6h0M571.4 1364.8h0M587.8 1418.2h0M581.8 1380.8h0M518.2 1480.0h0M598.1 1488.7h0M555.3 1386.6h0M565.8 1449.5h0M541.7 1498.9h0M535.8 1426.3h0M578.7 1414.5h0M594.6 1405.1h0M572.1 1492.0h0M575.8 1481.9h0M572.6 1421.5h0M580.0 1346.7h0M541.5 1481.1h0M538.4 1398.7h0M592.3 1483.2h0M533.6 1398.8h0M553.1 1486.8h0M583.0 1416.2h0M564.7 1480.0h0M538.6 1487.5h0M573.3 1490.1h0M584.5 1469.0h0M583.9 1419.6h0M522.7 1492.9h0M587.7 1463.2h0M575.5 1477.2h0M531.5 1422.2h0M579.9 1481.7h0M559.3 1387.9h0M616.7 1468.5h0M569.0 1493.2h0M573.2 1488.1h0M568.7 1417.2h0M594.2 1435.7h0M590.8 1399.9h0M571.3 1453.1h0M636.3 1423.2h0M502.3 1485.7h0M599.9 1444.8h0M553.0 1485.0h0M520.6 1490.2h0M605.0 1481.1h0M619.9 1408.0h0M577.2 1395.2h0M587.4 1457.3h0M533.1 1501.2h0M543.0 1480.3h0M486.2 1498.8h0M612.8 1478.4h0M627.5 1476.9h0M575.4 1372.7h0M599.5 1485.6h0M562.1 1447.8h0M585.1 1483.4h0M532.2 1490.6h0M563.7 1481.4h0M586.2 1420.3h0M497.0 1495.5h0M580.1 1488.0h0M545.1 1484.8h0M561.4 1374.2h0M575.6 1487.1h0M533.1 1489.0h0M561.7 1398.5h0M517.4 1482.9h0M565.4 1489.1h0M549.1 1485.0h0M547.8 1414.6h0M555.4 1396.9h0M594.8 1390.2h0M566.4 1442.7h0M577.6 1420.6h0M569.8 1453.8h0M544.1 1378.8h0M559.9 1437.8h0M599.7 1395.0h0M538.0 1500.5h0M606.1 1404.4h0M578.8 1461.5h0M554.9 1484.1h0M577.3 1480.3h0M564.0 1376.7h0M550.5 1489.9h0M544.8 1419.9h0M632.1 1471.9h0M582.2 1485.3h0M579.6 1409.4h0M543.2 1497.5h0M566.9 1473.3h0M620.9 1477.7h0M604.8 1489.9h0M568.9 1454.7h0M546.4 1487.8h0M573.4 1465.0h0M613.2 1484.5h0M545.4 1495.8h0M549.8 1401.6h0M604.2 1479.5h0M561.9 1486.2h0M543.2 1487.8h0M589.9 1417.6h0M602.4 1493.8h0M532.2 1486.6h0M567.6 1419.9h0M526.0 1494.0h0M535.3 1326.4h0M569.3 1444.9h0M545.3 1490.0h0M593.6 1495.4h0M555.0 1490.4h0M597.0 1490.1h0M562.9 1484.4h0M549.3 1483.9h0M547.7 1498.5h0M529.8 1488.7h0M560.7 1495.2h0M565.9 1485.9h0M522.4 1482.3h0M549.3 1429.8h0M547.0 1476.5h0M540.1 1372.0h0M568.7 1488.8h0M531.3 1486.0h0M558.4 1455.6h0M567.6 1486.7h0M562.6 1431.1h0M542.4 1485.4h0M557.8 1469.4h0M577.0 1489.3h0M568.9 1427.0h0M574.8 1375.9h0M544.1 1489.1h0M569.5 1473.4h0M595.5 1478.6h0M548.9 1446.1h0M557.0 1404.1h0M595.2 1463.6h0M550.7 1447.5h0M555.8 1438.6h0M573.5 1499.1h0M556.2 1333.0h0M577.3 1493.0h0M580.3 1429.1h0M538.8 1491.5h0M581.8 1403.8h0M618.9 1465.9h0M606.7 1488.0h0M533.2 1411.1h0M535.4 1468.1h0M513.0 1500.7h0" stroke="#38383a" stroke-opacity="0.52" stroke-width="1.9" stroke-linecap="round" fill="none"/>
<path d="M438.7 1302.4H442M438.7 1365.6H442M438.7 1434.2H442M438.7 1354.4H442M438.7 1421.7H442M438.7 1346.5H442M438.7 1412.9H442M436.8 1340.4H442M436.8 1406H442M438.7 1335.4H442M438.7 1400.4H442M438.7 1331.2H442M438.7 1395.6H442M438.7 1327.5H442M438.7 1391.5H442M438.7 1324.3H442M438.7 1387.8H442M438.7 1486.8H442M438.7 1506.4H442M438.7 1482.7H442M438.7 1511.1H442M438.7 1478.6H442M438.7 1515.7H442M436.8 1474.6H442M436.8 1520.2H442M438.7 1470.7H442M438.7 1524.6H442M438.7 1466.9H442M438.7 1529H442M438.7 1463.1H442M438.7 1533.3H442M438.7 1459.3H442M438.7 1537.6H442" stroke="#4a4a4c" stroke-width="1.7" fill="none"/>
<path d="M434.8 1321.4H442M434.8 1384.6H442M434.8 1455.6H442M434.8 1541.8H442" stroke="#3c3c3e" stroke-width="2.1" fill="none"/>
<path d="M434.4 1489.7H442M435.8 1490.6H442M433.8 1491.5H442M436.4 1492.4H442M434.4 1493.3H442M435.8 1494.2H442M433.8 1495.1H442M436.4 1496H442M434.4 1496.9H442M435.8 1497.8H442M433.8 1498.7H442M436.4 1499.6H442M434.4 1500.5H442M435.8 1501.4H442M433.8 1502.3H442" stroke="#1f1f21" stroke-width="1.1" fill="none"/>
<path d="M452.2 1559.3V1563.5M462.1 1559.3V1563.5M472.1 1559.3V1563.5M482 1559.3V1563.5M501.8 1559.3V1563.5M511.7 1559.3V1563.5M521.7 1559.3V1563.5M531.6 1559.3V1563.5M551.4 1559.3V1563.5M561.3 1559.3V1563.5M571.3 1559.3V1563.5M581.2 1559.3V1563.5M601 1559.3V1563.5M610.9 1559.3V1563.5M620.9 1559.3V1563.5M630.8 1559.3V1563.5M650.6 1559.3V1563.5M660.5 1559.3V1563.5M670.5 1559.3V1563.5M680.4 1559.3V1563.5M700.2 1559.3V1563.5" stroke="#555557" stroke-width="1.5" fill="none"/>
<path d="M442.3 1559.3V1566.3M491.9 1559.3V1566.3M541.5 1559.3V1566.3M591.1 1559.3V1566.3M640.7 1559.3V1566.3M690.3 1559.3V1566.3" stroke="#4a4a4c" stroke-width="2.1" fill="none"/>
<path d="M444.9 1298.4V1462.9H698.5" stroke="#707173" stroke-width="1.5" fill="none"/>
<path d="M698.5 1298.4V1463.7" stroke="#505052" stroke-width="2.1" fill="none"/>
<rect x="442" y="1297.3" width="261.2" height="262" stroke="#707173" stroke-width="1.6" fill="none"/>
<text x="430.5" y="1326.1" font-size="10.3" text-anchor="end" class="t">10<tspan dy="-4" font-size="8.4">5</tspan></text>
<text x="430.5" y="1389.3" font-size="10.3" text-anchor="end" class="t">10<tspan dy="-4" font-size="8.4">4</tspan></text>
<text x="430.5" y="1460.3" font-size="10.3" text-anchor="end" class="t">10<tspan dy="-4" font-size="8.4">3</tspan></text>
<text x="430.3" y="1500.7" font-size="10.3" text-anchor="end" class="t">0</text>
<text x="432.7" y="1546.5" font-size="10.3" text-anchor="end" class="t">−10<tspan dy="-4" font-size="8.4">3</tspan></text>
<text x="442.3" y="1578.8" font-size="10.4" text-anchor="middle" class="t">0</text>
<text x="491.9" y="1578.8" font-size="10.4" text-anchor="middle" class="t">50K</text>
<text x="541.5" y="1578.8" font-size="10.4" text-anchor="middle" class="t">100K</text>
<text x="591.1" y="1578.8" font-size="10.4" text-anchor="middle" class="t">150K</text>
<text x="640.7" y="1578.8" font-size="10.4" text-anchor="middle" class="t">200K</text>
<text x="690.3" y="1578.8" font-size="10.4" text-anchor="middle" class="t">250K</text>
<text transform="translate(571.1 1289.6) scale(1 1.01)" font-size="24.8" text-anchor="middle">LR 1:1</text>
<text transform="translate(689.3 1329) scale(1 1.03)" font-size="20.5" text-anchor="end" class="p">25%</text>
<path d="M70.7 1305V1592H736.5" fill="none" stroke-width="2.3" stroke-linejoin="miter"/>
<path d="M70.7 1283L58.9 1306L82.5 1306Z"/>
<path d="M759 1592L735.5 1580.2L735.5 1603.8Z"/>
<text transform="translate(-0.3 1232) scale(1 1.02)" font-size="42">g</text>
<text transform="translate(38.6 1427) rotate(-90) scale(1 1.045)" font-size="25" text-anchor="middle" letter-spacing="0.9">TNF-<tspan class="g">α</tspan></text>
<text transform="translate(409.9 1619.8) scale(1 1.045)" font-size="25" text-anchor="middle">FSC</text>
<path d="M269.8 2040.1h0M287.6 2035.4h0M283.4 2039.6h0M266.7 2055.3h0M306.3 2026.4h0M307.4 2045.0h0M285.5 2034.0h0M270.1 2045.0h0M266.2 2068.9h0M308.1 2057.4h0M241.2 2062.7h0M252.5 2050.7h0M244.6 2057.0h0M311.8 2041.2h0M246.8 2070.6h0M304.6 2040.6h0M273.3 2037.2h0M302.3 2034.4h0M279.3 2042.3h0M269.2 2048.6h0M247.3 2065.7h0M277.8 2061.4h0M285.8 2049.8h0M295.2 2045.7h0M303.2 2038.2h0M268.2 2046.7h0M285.7 2046.3h0M261.6 2060.9h0M276.0 2070.2h0M263.8 2053.5h0M278.6 2045.5h0M359.8 2023.9h0M318.8 2045.1h0M258.4 2056.5h0M268.1 2042.9h0M247.2 2050.8h0M324.7 2045.8h0M270.3 2054.2h0M275.6 2051.7h0M289.5 2037.8h0M242.9 2067.7h0M235.5 2048.8h0M301.3 2037.3h0M308.0 2036.9h0M235.3 2042.4h0M224.4 2077.9h0M308.8 2037.1h0M289.4 2055.2h0M275.0 2032.1h0M251.6 2074.5h0M288.9 2044.7h0M288.4 2050.0h0M271.5 2028.6h0M286.5 2061.0h0M261.0 2041.6h0M235.4 2088.9h0M297.7 2020.9h0M284.1 2045.1h0M277.8 2060.3h0M249.4 2058.1h0M292.5 2033.1h0M305.0 2002.1h0M291.1 2029.2h0M249.6 2059.6h0M250.8 2056.8h0M281.2 2049.7h0M298.4 2041.5h0M334.2 2033.8h0M308.0 2028.0h0M351.3 2030.9h0M259.6 2050.5h0M272.4 2045.4h0M277.4 2055.6h0M285.1 2042.3h0M300.0 2040.5h0M262.3 2048.9h0M272.5 2035.7h0M282.0 2047.7h0M255.1 2041.7h0M275.7 2052.1h0M261.8 2058.5h0M282.0 2026.4h0M297.3 2033.5h0M312.6 2039.4h0M311.0 2032.9h0M290.6 2057.7h0M301.4 2039.0h0M276.8 2053.5h0M285.6 2060.1h0M293.2 2048.8h0M306.3 2047.1h0M291.5 2051.4h0M274.8 2049.2h0M267.5 2060.6h0M286.9 2054.7h0M276.1 2046.6h0M276.7 2047.5h0M273.3 2047.2h0M283.7 2048.8h0M277.1 2050.8h0M280.5 2029.9h0M325.9 2049.1h0M307.7 2039.3h0M306.4 2038.3h0M263.9 2051.8h0M273.8 2067.6h0M313.8 2046.3h0M282.6 2060.1h0M314.7 2033.8h0M301.4 2029.5h0M278.8 2054.8h0M244.0 2048.4h0M258.0 2072.0h0M289.5 2039.9h0M250.9 2069.9h0M250.2 2056.6h0M298.5 2026.5h0M253.5 2059.9h0M257.8 2062.1h0M312.4 2023.1h0M290.4 2055.6h0M252.1 2061.0h0M348.6 2008.0h0M257.5 2027.4h0M264.5 2066.8h0M267.2 2043.7h0M364.4 2025.7h0M281.0 2046.1h0M292.8 2036.3h0M274.7 2032.3h0M310.5 2047.8h0M295.2 2037.2h0M309.3 2031.7h0M243.9 2063.9h0M262.4 2055.6h0M305.8 2035.9h0M302.9 2030.8h0M331.9 2033.2h0M281.9 2039.5h0M282.6 2073.9h0M277.8 2038.3h0M250.6 2081.5h0M314.9 2032.4h0M316.1 2060.7h0M259.7 2045.9h0M277.0 2044.2h0M223.1 2066.7h0M258.0 2064.6h0M252.9 2062.7h0M291.8 2041.2h0M254.7 2046.9h0M272.3 2037.3h0M335.5 2019.8h0M254.1 2056.1h0M271.1 2050.3h0M276.5 2043.3h0M260.9 2077.4h0M301.4 2043.1h0M265.4 2050.2h0M305.7 2044.3h0M258.3 2068.5h0M264.9 2039.6h0M296.1 2076.1h0M306.2 2034.8h0M265.7 2073.2h0M284.9 2040.2h0M266.6 2054.6h0M276.8 2042.1h0M286.7 2063.0h0M315.0 2058.1h0M263.2 2054.3h0M274.4 2043.3h0M341.6 2048.8h0M282.5 2060.9h0M234.2 2048.4h0M255.8 2050.4h0M246.8 2046.0h0M303.7 2026.4h0M322.0 2034.7h0M259.8 2053.6h0M269.5 2078.3h0M261.6 2069.8h0M274.8 2043.1h0M273.0 2036.4h0M319.6 2026.1h0M312.4 2040.7h0M260.0 2050.9h0M311.3 2046.0h0M269.5 2048.9h0M307.1 2039.1h0M315.5 2050.2h0M326.5 2051.4h0M262.6 2037.7h0M272.2 2059.7h0M289.9 2029.7h0M284.1 2047.2h0M259.9 2049.5h0M279.0 2040.5h0M296.2 2051.7h0M318.2 2023.4h0M226.9 2048.6h0M235.5 2053.2h0M281.7 2034.1h0M293.2 2061.5h0M239.7 2059.3h0M285.5 2051.2h0M298.2 2043.4h0M264.2 2037.1h0M299.0 2055.5h0M295.2 2046.7h0M368.1 2023.7h0M285.0 2051.5h0M249.3 2047.1h0M260.1 2034.2h0M251.7 2066.1h0M294.5 2045.1h0M252.0 2066.8h0M245.1 2050.6h0M253.7 2054.9h0M273.5 2051.4h0M271.7 2033.5h0M338.8 2029.6h0M263.8 2051.5h0M249.6 2085.7h0M274.9 2063.1h0M294.4 2044.9h0M256.2 2052.7h0M263.2 2039.0h0M302.3 2057.3h0M284.9 2074.7h0M281.1 2055.1h0M300.8 2044.8h0M285.3 2052.1h0M296.8 2066.5h0M237.6 2040.7h0M272.3 2032.3h0M266.6 2055.7h0M273.4 2047.2h0M268.3 2067.3h0M305.1 2048.6h0M279.7 2038.5h0M292.1 2041.6h0M231.5 2034.9h0" stroke="#38383a" stroke-opacity="0.52" stroke-width="1.9" stroke-linecap="round" fill="none"/>
<path d="M280.1 2047.0h0M234.5 2053.5h0M262.3 2020.3h0M273.0 2034.9h0M287.3 2031.2h0M253.5 2050.2h0M336.1 2030.2h0M268.7 2054.3h0M292.5 2050.1h0M281.0 2044.6h0M302.8 2056.0h0M245.8 2056.7h0M282.2 2069.8h0M253.3 2060.2h0M284.1 2041.0h0M270.9 2045.3h0M281.8 2053.9h0M300.8 2043.4h0M280.0 2049.3h0M251.6 2054.9h0M298.7 2051.8h0M306.5 2049.4h0M287.3 2060.3h0M299.9 2045.7h0M267.1 2043.9h0M292.6 2066.0h0M310.5 2037.7h0M287.4 2056.7h0M302.9 2048.9h0M288.7 2030.6h0M258.2 2055.1h0M242.7 2046.2h0M194.0 2065.8h0M300.8 2049.1h0M271.5 2056.8h0M300.5 2057.2h0M285.9 2024.1h0M266.6 2060.6h0M307.3 2041.6h0M290.6 2052.4h0M295.3 2037.2h0M308.7 2049.1h0M218.1 2041.2h0M285.3 2047.6h0M281.6 2046.2h0M290.1 2057.2h0M279.0 2043.9h0M228.4 2050.2h0M246.7 2054.9h0M290.0 2041.2h0M274.6 2042.8h0M292.6 2051.5h0M280.9 2039.4h0M259.7 2032.1h0M264.4 2057.1h0M281.0 2038.7h0M271.8 2033.0h0M303.1 2034.2h0M261.8 2066.5h0M289.4 2041.5h0M289.5 2050.6h0M267.0 2071.1h0M275.5 2049.0h0M268.1 2062.0h0M290.5 2040.6h0M272.3 2027.0h0M298.6 2051.5h0M235.1 2047.0h0M298.3 2048.9h0M265.2 2061.6h0M304.2 2043.9h0M283.2 2040.2h0M276.4 2049.2h0M318.6 2020.7h0M318.2 2046.6h0M272.8 2045.5h0M292.3 2046.0h0M309.3 2036.7h0M327.7 2029.8h0M288.5 2047.4h0M274.9 2053.2h0M291.8 2043.1h0M276.5 2035.5h0M278.6 2065.1h0M340.5 2022.1h0M314.9 2042.8h0M286.9 2043.3h0M242.8 2044.6h0M291.3 2033.3h0M318.1 2028.1h0M263.8 2034.8h0M264.3 2051.4h0M258.8 2041.8h0M268.6 2035.2h0M323.1 2025.1h0M324.9 2048.7h0M228.6 2057.3h0M229.7 2052.1h0M236.4 2055.9h0M272.0 2055.2h0M293.3 2035.7h0M240.7 2057.6h0M247.0 2054.3h0M291.6 2034.3h0M262.7 2062.2h0M284.5 2043.8h0M289.4 2047.7h0M263.2 2061.8h0M274.9 2035.0h0M284.0 2052.9h0M283.5 2053.7h0M270.0 2042.1h0M287.1 2034.4h0M234.5 2065.1h0M277.4 2036.1h0M258.2 2043.6h0M279.8 2039.3h0M248.8 2042.5h0M273.7 2052.4h0M261.8 2039.4h0M281.8 2043.7h0M266.6 2041.8h0M279.9 2048.1h0M279.2 2056.9h0M259.8 2045.7h0M300.0 2068.4h0M266.1 2062.2h0M233.1 2039.5h0M290.0 2054.4h0M261.4 2053.2h0M251.8 2044.7h0M296.3 2030.6h0M319.3 2042.9h0M252.0 2055.0h0M291.8 2042.0h0M262.3 2068.4h0M271.6 2038.2h0M269.2 2048.0h0M276.3 2060.0h0M320.6 2041.9h0M255.0 2054.9h0M252.1 2051.1h0M271.6 2045.5h0M287.8 2049.5h0M280.2 2054.7h0M266.2 2051.3h0M324.0 2031.3h0M243.5 2047.5h0M295.4 2038.5h0M355.0 2044.1h0M302.6 2039.3h0M263.0 2053.2h0M290.2 2055.7h0M293.8 2040.6h0M265.9 2056.3h0M299.1 2041.7h0M253.4 2048.0h0M313.3 2044.8h0M287.3 2062.4h0M283.2 2022.7h0M275.2 2054.7h0M333.0 2024.3h0M300.1 2048.1h0M254.6 2055.4h0M303.3 2035.1h0M251.2 2054.8h0M283.5 2063.7h0M263.9 2063.5h0M284.4 2046.8h0M231.3 2056.6h0M280.1 2066.0h0M291.5 2032.0h0M283.0 2051.1h0M307.9 2042.7h0M232.5 2062.2h0M307.8 2035.2h0M262.0 2043.5h0M315.8 2030.1h0M323.4 2030.6h0M280.3 2056.4h0M250.0 2038.8h0M256.6 2052.5h0M279.5 2052.0h0M262.0 2058.7h0M251.1 2066.8h0M266.7 2044.5h0M238.6 2031.1h0M284.6 2072.2h0M250.4 2059.9h0M286.5 2038.3h0M269.0 2057.7h0M276.8 2032.6h0M305.4 2027.5h0M287.3 2055.9h0M283.3 2035.1h0M265.3 2048.7h0M259.5 2050.4h0M251.9 2062.7h0M281.6 2037.8h0M317.8 2036.5h0M255.7 2052.1h0M263.8 2049.4h0M270.3 2058.3h0M262.0 2038.2h0M290.8 2049.0h0M288.2 2034.9h0M235.0 2048.6h0M276.2 2047.4h0M305.8 2019.1h0M313.4 2042.3h0M315.8 2029.9h0M276.6 2036.8h0M283.0 2034.3h0M226.1 2039.8h0M299.2 2031.2h0M285.1 2034.6h0M276.2 2024.6h0M290.1 2037.5h0M219.1 2068.0h0M259.7 2054.7h0M329.6 2059.1h0M302.4 2027.6h0M244.0 2060.8h0M233.5 2081.3h0M278.4 2061.5h0M292.2 2050.4h0M299.2 2035.1h0M321.9 2038.2h0M304.4 2034.6h0M253.3 2070.8h0M303.8 2057.6h0M313.2 2038.7h0M267.1 2026.6h0M266.8 2064.6h0M269.5 2043.9h0M280.1 2057.2h0M220.1 2048.0h0M295.5 2030.7h0M280.5 2037.6h0M240.1 2060.5h0M257.4 2058.6h0M278.6 2065.4h0M280.7 2051.5h0" stroke="#38383a" stroke-opacity="0.52" stroke-width="1.9" stroke-linecap="round" fill="none"/>
<path d="M316.1 2055.4h0M264.9 2049.1h0M269.0 2064.0h0M304.1 2036.3h0M253.0 2039.3h0M307.1 2037.2h0M270.9 2052.9h0M236.8 2072.4h0M287.0 2019.6h0M236.1 2061.8h0M248.7 2045.0h0M300.1 2046.9h0M289.7 2042.0h0M254.7 2052.8h0M302.5 2028.3h0M273.2 2051.8h0M247.8 2060.7h0M268.4 2058.9h0M294.1 2039.0h0M299.7 2042.2h0M252.5 2073.0h0M273.9 2025.8h0M252.2 2058.9h0M311.7 2046.5h0M280.9 2042.1h0M236.9 2049.8h0M288.4 2032.7h0M264.4 2058.0h0M290.1 2042.6h0M277.8 2037.0h0M288.3 2055.2h0M284.7 2045.0h0M309.7 2050.3h0M239.0 2052.3h0M322.7 2027.6h0M260.0 2057.8h0M299.1 2037.2h0M285.1 2057.9h0M213.9 2059.4h0M276.8 2044.6h0M277.5 2050.6h0M333.9 2035.5h0M285.4 2047.5h0M273.9 2048.7h0M262.3 2064.9h0M283.8 2029.7h0M297.6 2042.5h0M313.2 2022.4h0M287.2 2067.7h0M286.3 2036.0h0M269.6 2038.0h0M326.6 2025.7h0M306.1 2047.9h0M252.2 2044.9h0M301.9 2054.7h0M265.5 2057.0h0M286.9 2041.1h0M282.5 2039.1h0M265.2 2046.3h0M268.3 2033.4h0M282.8 2057.3h0M268.5 2058.1h0M284.6 2053.5h0M282.1 2025.4h0M300.9 2037.0h0M258.1 2061.4h0M261.1 2049.2h0M309.5 2034.9h0M278.3 2055.7h0M272.5 2050.0h0M258.5 2049.5h0M250.0 2062.3h0M245.6 2059.1h0M278.1 2052.9h0M247.0 2039.1h0M311.6 2043.4h0M273.0 2064.9h0M321.9 2023.9h0M280.2 2045.8h0M309.7 2012.8h0M257.8 2054.2h0M274.2 2047.0h0M294.9 2042.3h0M267.3 2054.0h0M249.3 2052.3h0M263.7 2056.4h0M264.8 2055.8h0M250.2 2058.9h0M267.2 2054.3h0M259.2 2040.3h0M311.9 2045.4h0M264.2 2050.0h0M296.9 2047.2h0M244.5 2064.0h0M269.9 2038.6h0M294.3 2036.5h0M282.5 2050.3h0M289.7 2055.9h0M264.7 2022.4h0M261.1 2042.5h0M264.6 2071.0h0M299.4 2018.0h0M226.5 2035.9h0M320.4 2020.4h0M286.8 2041.4h0M336.8 2028.6h0M302.4 2024.7h0M294.6 2048.1h0M239.3 2069.7h0M302.5 2052.5h0M311.7 2030.0h0M266.5 2053.8h0M298.0 2052.0h0M268.8 2065.0h0M248.1 2027.7h0M213.5 2070.9h0M302.1 2037.1h0M286.0 2056.9h0M238.1 2063.2h0M298.8 2039.8h0M276.9 2036.1h0M284.8 2050.4h0M260.3 2068.1h0M284.0 2051.2h0M299.5 2021.4h0M246.5 2057.3h0M279.6 2044.8h0M264.8 2043.0h0M269.2 2029.3h0M317.3 2037.7h0M294.3 2026.3h0M242.6 2050.7h0M267.1 2043.8h0M306.9 2044.6h0M317.9 2033.2h0M280.0 2071.4h0M229.6 2049.6h0M224.2 2064.7h0M287.9 2037.2h0M292.1 2049.4h0M264.4 2041.3h0M245.0 2070.4h0M286.0 2048.0h0M289.2 2016.8h0M268.5 2050.2h0M266.8 2038.5h0M245.5 2054.5h0M269.4 2059.8h0M260.4 2061.0h0M282.2 2043.5h0M299.4 2041.1h0M277.3 2048.2h0M241.9 2060.3h0M303.7 2022.9h0M261.0 2047.8h0M225.9 2057.3h0M317.2 2048.0h0M287.1 2046.8h0M311.7 2027.3h0M314.7 2053.0h0M322.9 2036.1h0M257.2 2039.7h0M299.7 2052.8h0M269.8 2043.9h0M289.4 2053.9h0M280.7 2060.3h0M336.0 2019.1h0M320.0 2032.2h0M285.9 2039.0h0M256.6 2070.7h0M268.0 2059.4h0M317.1 2018.9h0M272.1 2058.2h0M304.6 2039.3h0M283.0 2056.2h0M271.9 2024.3h0M271.8 2054.0h0M283.4 2048.2h0M263.9 2045.3h0M222.1 2061.9h0M265.8 2038.1h0M258.1 2046.5h0M296.3 2040.7h0M297.8 2048.3h0M298.5 2057.0h0M291.3 2040.3h0M300.7 2045.6h0M298.7 2030.0h0M247.2 2054.7h0M290.4 2056.8h0M290.2 2046.6h0M274.8 2049.6h0M297.0 2044.6h0M328.9 2042.0h0M243.7 2054.2h0M300.8 2042.3h0M266.7 2034.9h0M268.6 2053.7h0M263.4 2027.3h0M240.6 2073.2h0M259.5 2064.3h0M304.7 2035.8h0M291.6 2042.4h0M283.8 2058.1h0M250.6 2064.9h0M270.5 2044.1h0M332.1 2032.2h0M272.6 2038.5h0M316.0 2050.7h0M290.2 2028.5h0M300.0 2044.3h0M293.0 2047.6h0M302.8 2051.5h0M320.8 2029.4h0M276.9 2045.2h0M325.8 2036.2h0M280.2 2048.1h0M276.1 2050.2h0M255.1 2048.3h0M263.6 2048.6h0M303.5 2052.9h0M244.7 2060.2h0M275.3 2054.0h0M292.4 2048.1h0M269.9 2043.8h0M298.2 2033.6h0M288.6 2050.1h0M262.4 2036.1h0M331.2 2039.0h0M283.2 2060.7h0M292.7 2029.6h0M287.2 2042.8h0M307.9 2047.1h0M269.1 2069.7h0M301.8 2049.3h0M275.9 2039.9h0M286.4 2046.4h0M280.8 2050.8h0M273.4 2047.2h0M249.5 2059.4h0M326.7 2037.5h0M321.5 2042.1h0" stroke="#38383a" stroke-opacity="0.52" stroke-width="1.9" stroke-linecap="round" fill="none"/>
<path d="M280.3 2038.2h0M257.3 2067.6h0M279.2 2040.6h0M276.5 2045.3h0M302.5 2058.0h0M265.2 2041.2h0M294.9 2040.9h0M298.4 2040.4h0M293.7 2026.9h0M303.8 2058.4h0M295.5 2037.3h0M232.5 2044.0h0M257.9 2070.2h0M268.7 2070.8h0M288.6 2049.3h0M246.4 2079.2h0M282.5 2058.4h0M318.2 2023.6h0M276.1 2036.5h0M292.2 2050.3h0M240.4 2046.8h0M281.5 2044.6h0M276.2 2036.6h0M274.2 2051.9h0M337.7 2033.2h0M299.3 2025.2h0M272.8 2035.4h0M281.9 2048.7h0M277.8 2041.2h0M290.8 2041.4h0M305.6 2036.3h0M270.8 2043.8h0M287.8 2045.6h0M257.2 2058.9h0M338.7 2041.9h0M235.7 2055.9h0M288.2 2036.4h0M271.0 2028.9h0M254.0 2048.5h0M273.4 2051.3h0M272.4 2047.8h0M347.0 2035.0h0M279.5 2042.6h0M290.6 2024.6h0M272.7 2054.5h0M308.2 2040.3h0M311.0 2039.8h0M305.6 2052.9h0M237.7 2040.9h0M264.6 2045.1h0M313.3 2044.3h0M303.9 2023.3h0M311.8 2040.6h0M324.6 2021.9h0M286.3 2046.8h0M293.6 2054.0h0M268.3 2054.9h0M251.9 2056.4h0M285.7 2043.8h0M288.4 2058.2h0M270.0 2052.1h0M282.2 2045.6h0M256.6 2055.1h0M286.6 2045.3h0M311.9 2019.8h0M286.9 2047.5h0M279.1 2041.7h0M313.6 2029.6h0M277.7 2057.3h0M243.9 2055.4h0M307.6 2053.6h0M329.5 2047.3h0M277.9 2032.8h0M275.7 2066.3h0M259.5 2071.1h0M334.7 2050.6h0M301.8 2036.2h0M268.1 2042.8h0M274.8 2061.8h0M272.1 2054.8h0M285.3 2050.5h0M303.8 2049.2h0M296.8 2062.5h0M284.2 2053.9h0M281.0 2031.2h0M306.5 2035.3h0M285.6 2042.2h0M264.8 2049.6h0M254.4 2058.3h0M317.7 2043.1h0M278.1 2039.4h0M290.8 2046.0h0M293.7 2044.2h0M285.9 2055.4h0M286.5 2039.0h0M252.5 2067.2h0M275.7 2046.8h0M282.5 2040.9h0M273.8 2046.0h0M272.7 2032.5h0M252.5 2060.6h0M282.6 2040.9h0M294.1 2061.2h0M309.6 2054.3h0M286.1 2034.0h0M295.5 2039.6h0M206.1 2070.3h0M259.3 2056.3h0M277.1 2055.9h0M316.2 2038.9h0M285.5 2064.6h0M308.1 2024.7h0M291.6 2023.1h0M223.6 2069.6h0M243.2 2053.1h0M257.4 2062.2h0M280.0 2045.4h0M254.4 2061.4h0M286.9 2034.0h0M275.6 2051.9h0M309.8 2027.4h0M296.7 2041.9h0M286.6 2033.3h0M272.1 2048.4h0M294.2 2031.2h0M260.3 2060.6h0M331.8 2021.5h0M270.9 2051.4h0M215.3 2098.6h0M249.1 2062.5h0M314.5 2047.1h0M296.1 2048.6h0M287.3 2047.0h0M284.0 2040.8h0M256.7 2059.5h0M297.1 2046.4h0M281.9 2047.8h0M329.3 2038.8h0M263.8 2054.7h0M260.1 2052.1h0M273.8 2059.3h0M271.5 2041.1h0M289.7 2040.0h0M359.1 2017.9h0M293.5 2050.1h0M292.1 2046.7h0M244.9 2060.3h0M287.9 2048.6h0M274.3 2056.1h0M249.0 2072.2h0M289.5 2052.2h0M300.4 2027.2h0M278.8 2052.1h0M230.2 2062.5h0M258.9 2057.8h0M264.9 2043.5h0M264.8 2053.5h0M293.5 2047.9h0M271.2 2049.0h0M267.6 2050.7h0M313.0 2040.2h0M275.1 2061.3h0M278.3 2045.9h0M314.1 2037.3h0M291.5 2062.0h0M282.8 2052.4h0M295.6 2042.9h0M232.7 2055.0h0M281.6 2042.0h0M262.2 2067.2h0M278.2 2051.8h0M332.4 2017.7h0M278.5 2042.6h0M255.8 2076.4h0M250.3 2055.5h0M309.8 2035.2h0M330.3 2037.5h0M286.8 2038.3h0M301.5 2036.7h0M310.0 2043.3h0M312.9 2053.8h0M261.6 2043.5h0M299.9 2049.0h0M300.0 2026.5h0M293.5 2044.3h0M263.8 2043.1h0M311.9 2058.3h0M348.5 2043.7h0M267.4 2043.9h0M290.2 2048.7h0M301.8 2055.2h0M254.3 2061.8h0M269.9 2051.6h0M284.5 2035.0h0M289.9 2032.8h0M259.2 2042.0h0M282.7 2031.0h0M297.8 2048.6h0M265.4 2049.7h0M237.9 2062.1h0M267.0 2042.5h0M262.0 2041.8h0M268.6 2057.9h0M252.5 2044.3h0M235.8 2063.5h0M275.7 2067.0h0M303.9 2039.9h0M299.4 2039.3h0M264.8 2068.1h0M253.6 2046.2h0M258.1 2069.3h0M265.9 2058.2h0M257.6 2027.3h0M302.4 2044.3h0M326.4 2034.5h0M243.6 2058.2h0M334.3 2042.2h0M305.0 2047.7h0M299.6 2055.6h0M271.8 2060.6h0M240.2 2057.7h0M294.4 2036.4h0M291.1 2048.2h0M264.0 2056.3h0M265.6 2062.9h0M258.2 2046.3h0M270.8 2038.1h0M261.5 2040.1h0M230.7 2045.3h0M276.6 2033.7h0M273.6 2056.5h0M247.3 2058.0h0M268.6 2049.4h0M249.2 2052.7h0M286.5 2052.1h0M278.0 2052.8h0M257.9 2067.0h0M292.3 2043.8h0M375.1 2014.8h0M254.6 2043.9h0M314.9 2019.4h0M254.6 2048.5h0" stroke="#38383a" stroke-opacity="0.52" stroke-width="1.9" stroke-linecap="round" fill="none"/>
<path d="M155.3 2146.3V2150.5M165.2 2146.3V2150.5M175.1 2146.3V2150.5M184.9 2146.3V2150.5M204.7 2146.3V2150.5M214.6 2146.3V2150.5M224.5 2146.3V2150.5M234.4 2146.3V2150.5M254.1 2146.3V2150.5M264 2146.3V2150.5M273.9 2146.3V2150.5M283.8 2146.3V2150.5M303.5 2146.3V2150.5M313.4 2146.3V2150.5M323.3 2146.3V2150.5M333.2 2146.3V2150.5M353 2146.3V2150.5M362.8 2146.3V2150.5M372.7 2146.3V2150.5M382.6 2146.3V2150.5M402.4 2146.3V2150.5" stroke="#555557" stroke-width="1.5" fill="none"/>
<path d="M145.4 2146.3V2153.3M194.8 2146.3V2153.3M244.2 2146.3V2153.3M293.7 2146.3V2153.3M343.1 2146.3V2153.3M392.5 2146.3V2153.3" stroke="#4a4a4c" stroke-width="2.1" fill="none"/>
<path d="M148.2 1886.6V2049.7H401.5" stroke="#707173" stroke-width="1.5" fill="none"/>
<path d="M401.5 1886.6V2050.5" stroke="#505052" stroke-width="2.1" fill="none"/>
<rect x="145.2" y="1885.5" width="260.1" height="260.8" stroke="#707173" stroke-width="1.6" fill="none"/>
<text x="140.2" y="1914.6" font-size="10.3" text-anchor="end" class="t">10<tspan dy="-4" font-size="8.4">5</tspan></text>
<text x="140.2" y="1977.8" font-size="10.3" text-anchor="end" class="t">10<tspan dy="-4" font-size="8.4">4</tspan></text>
<text x="140.2" y="2048.4" font-size="10.3" text-anchor="end" class="t">10<tspan dy="-4" font-size="8.4">3</tspan></text>
<text x="140" y="2090.4" font-size="10.3" text-anchor="end" class="t">0</text>
<text x="142.4" y="2138" font-size="10.3" text-anchor="end" class="t">−10<tspan dy="-4" font-size="8.4">3</tspan></text>
<text x="145.4" y="2164" font-size="10.4" text-anchor="middle" class="t">0</text>
<text x="194.8" y="2164" font-size="10.4" text-anchor="middle" class="t">50K</text>
<text x="244.2" y="2164" font-size="10.4" text-anchor="middle" class="t">100K</text>
<text x="293.7" y="2164" font-size="10.4" text-anchor="middle" class="t">150K</text>
<text x="343.1" y="2164" font-size="10.4" text-anchor="middle" class="t">200K</text>
<text x="392.5" y="2164" font-size="10.4" text-anchor="middle" class="t">250K</text>
<text transform="translate(274.6 1876) scale(1 1.01)" font-size="24.8" text-anchor="middle">ctrl</text>
<text transform="translate(385 1920) scale(1 1.03)" font-size="20.5" text-anchor="end" class="p">41%</text>
<path d="M596.0 2042.7h0M569.6 2053.8h0M569.1 2039.4h0M549.2 2026.5h0M568.3 2059.0h0M567.1 2062.1h0M544.2 2050.1h0M570.8 2043.9h0M576.1 2016.7h0M563.8 2049.5h0M569.8 2047.8h0M582.0 2033.9h0M591.5 2044.9h0M555.4 2041.4h0M548.9 2046.5h0M581.3 2028.3h0M570.0 2051.3h0M535.3 2054.9h0M539.7 2044.9h0M577.6 2058.3h0M539.6 2062.8h0M575.8 2059.8h0M588.1 2015.1h0M588.4 2011.9h0M591.3 2038.6h0M589.2 2039.1h0M573.0 2033.9h0M572.4 2045.2h0M582.0 2035.0h0M581.8 2044.2h0M567.2 2021.8h0M571.5 2060.2h0M532.0 2056.5h0M557.8 2041.5h0M594.2 2052.7h0M560.1 2042.2h0M574.3 2042.2h0M586.4 2037.8h0M583.8 2033.4h0M587.2 2034.8h0M541.4 2060.3h0M587.2 2045.6h0M606.3 2050.1h0M579.0 2032.5h0M587.0 2028.3h0M595.2 2032.5h0M583.6 2020.7h0M576.6 2035.6h0M595.9 2056.0h0M573.7 2020.3h0M567.3 2043.3h0M585.1 2055.3h0M570.0 2057.4h0M571.4 2035.4h0M571.5 2036.0h0M589.4 2015.3h0M584.1 2048.3h0M597.0 2041.8h0M557.6 2026.4h0M556.8 2058.5h0M568.5 2049.7h0M550.6 2052.9h0M602.6 2042.0h0M576.3 2061.0h0M554.2 2042.8h0M566.2 2054.0h0M557.5 2046.9h0M578.9 2038.7h0M564.6 2036.8h0M555.9 2042.9h0M562.1 2033.7h0M571.1 2048.1h0M592.7 2018.8h0M580.3 2040.6h0M620.0 2046.1h0M558.5 2055.9h0M584.1 2049.2h0M594.7 2037.2h0M565.0 2048.1h0M582.3 2049.6h0M583.1 2040.5h0M617.2 2030.2h0M531.5 2048.1h0M551.9 2051.4h0M569.9 2049.4h0M568.9 2022.8h0M571.0 2044.0h0M591.3 2060.9h0M583.0 2045.5h0M577.4 2037.9h0M563.8 2055.3h0M577.4 2039.4h0M590.5 2044.2h0M598.5 2041.5h0M575.4 2005.0h0M604.5 2032.2h0M511.6 2061.3h0M635.2 2034.7h0M557.4 2050.6h0M594.9 2030.4h0M591.3 2036.7h0M567.5 2035.1h0M580.0 2040.5h0M540.4 2038.6h0M599.5 2025.8h0M554.4 2069.2h0M567.1 2040.5h0M584.5 2044.6h0M586.9 2060.9h0M574.7 2051.5h0M572.0 2019.4h0M607.7 2044.5h0M564.5 2046.6h0M583.6 2035.7h0M580.1 2050.5h0M579.5 2051.6h0M571.3 2045.9h0M564.8 2053.9h0M575.5 2034.6h0M569.7 2050.0h0M575.4 2035.8h0M537.3 2037.7h0M566.9 2061.7h0M597.3 2057.1h0M593.7 2046.6h0M548.2 2056.6h0M557.8 2041.1h0M594.9 2042.4h0M558.6 2046.5h0M566.1 2058.4h0M567.2 2027.5h0M580.0 2056.1h0M585.3 2056.8h0M551.0 2054.9h0M575.3 2064.8h0M580.4 2039.5h0M578.1 2042.5h0M565.8 2054.9h0M607.7 2018.8h0M583.6 2047.5h0M580.8 2066.9h0M570.1 2033.0h0M558.8 2050.9h0M573.8 2020.2h0M584.0 2048.1h0M580.5 2046.0h0M568.3 2042.8h0M525.3 2058.7h0M583.2 2032.7h0M603.9 2038.3h0" stroke="#38383a" stroke-opacity="0.52" stroke-width="1.9" stroke-linecap="round" fill="none"/>
<path d="M579.3 2058.0h0M534.5 2039.7h0M579.8 2052.2h0M555.8 2056.4h0M609.5 2042.7h0M568.4 2046.4h0M573.3 2049.8h0M558.6 2042.5h0M574.8 2020.6h0M556.2 2057.4h0M565.4 2062.0h0M570.4 2040.7h0M569.5 2032.9h0M558.9 2048.7h0M571.7 2053.8h0M583.5 2039.0h0M563.7 2033.4h0M596.5 2048.7h0M617.5 2038.9h0M572.2 2047.8h0M571.5 2041.3h0M607.8 2049.1h0M558.4 2058.0h0M564.0 2050.7h0M534.6 2048.7h0M593.5 2027.4h0M576.8 2037.5h0M555.6 2049.1h0M613.1 2040.3h0M579.6 2029.9h0M581.9 2052.7h0M567.6 2051.0h0M572.2 2040.2h0M574.5 2038.7h0M578.5 2035.4h0M568.0 2063.0h0M589.5 2041.3h0M536.0 2050.6h0M556.6 2043.1h0M608.1 2025.8h0M572.2 2038.4h0M581.1 2044.2h0M571.2 2041.6h0M579.5 2030.6h0M544.0 2041.9h0M546.7 2042.3h0M602.5 2035.3h0M585.7 2045.4h0M566.7 2054.4h0M587.3 2030.5h0M591.9 2050.7h0M586.8 2028.5h0M567.3 2042.3h0M564.8 2043.7h0M596.8 2021.1h0M603.9 2031.3h0M567.4 2048.6h0M575.0 2045.0h0M583.9 2052.3h0M586.2 2039.7h0M593.6 2031.7h0M564.3 2043.4h0M588.2 2053.1h0M588.9 2041.6h0M551.9 2071.6h0M591.6 2037.7h0M567.8 2034.8h0M562.0 2042.5h0M607.7 2059.5h0M601.3 2022.5h0M576.5 2050.5h0M587.9 2023.6h0M576.8 2027.1h0M584.5 2036.7h0M544.2 2015.0h0M587.9 2031.8h0M559.9 2068.7h0M576.4 2051.5h0M581.7 2048.6h0M565.7 2056.9h0M601.4 2041.3h0M541.3 2040.6h0M589.0 2032.9h0M567.0 2047.0h0M585.0 2043.2h0M579.3 2040.6h0M558.7 2053.7h0M578.1 2035.9h0M591.8 2036.6h0M605.5 2036.8h0M602.3 2049.6h0M620.0 2040.0h0M581.3 2034.9h0M538.3 2041.9h0M604.9 2037.0h0M576.1 2040.5h0M574.2 2060.9h0M595.2 2053.5h0M586.3 2039.4h0M571.2 2034.2h0M579.7 2044.2h0M568.3 2050.6h0M589.6 2053.3h0M616.6 2027.7h0M558.2 2036.8h0M603.7 2041.0h0M591.2 2045.4h0M570.9 2046.3h0M553.2 2048.8h0M571.7 2043.5h0M583.2 2053.2h0M585.9 2044.4h0M592.6 2039.2h0M598.5 2039.9h0M568.8 2056.5h0M593.4 2026.8h0M591.1 2035.6h0M575.7 2032.5h0M582.4 2045.5h0M566.4 2052.1h0M545.4 2060.7h0M562.3 2049.4h0M544.0 2047.9h0M574.1 2057.8h0M569.3 2044.0h0M576.7 2071.0h0M561.3 2046.1h0M539.6 2044.0h0M600.0 2039.2h0M572.4 2044.4h0M598.3 2020.4h0M605.1 2038.3h0M571.8 2027.6h0M578.4 2052.9h0M551.0 2048.0h0M578.2 2058.6h0M573.7 2042.9h0M564.2 2054.5h0M562.3 2060.1h0M571.0 2042.0h0M582.4 2025.1h0M573.9 2039.4h0M586.1 2040.7h0M572.3 2048.8h0M591.8 2025.7h0M557.3 2045.8h0M585.0 2039.9h0M581.0 2042.8h0M566.2 2051.4h0M506.2 2061.6h0" stroke="#38383a" stroke-opacity="0.52" stroke-width="1.9" stroke-linecap="round" fill="none"/>
<path d="M547.5 2043.0h0M552.9 2054.9h0M574.1 2045.8h0M594.8 2050.9h0M550.8 2055.0h0M559.1 2044.1h0M595.8 2020.5h0M543.7 2063.3h0M605.5 2030.4h0M561.7 2024.5h0M590.5 2044.4h0M621.5 2042.2h0M544.4 2056.6h0M540.9 2079.5h0M585.4 2024.3h0M642.0 2058.3h0M572.8 2028.4h0M568.4 2038.9h0M575.3 2048.6h0M535.5 2065.0h0M568.3 2061.4h0M581.7 2045.3h0M566.6 2041.5h0M597.3 2033.0h0M547.3 2047.3h0M549.2 2036.3h0M554.3 2040.7h0M558.9 2047.8h0M589.2 2025.2h0M544.0 2044.8h0M555.3 2050.1h0M614.2 2041.3h0M586.3 2058.9h0M553.4 2049.0h0M605.3 2012.0h0M577.2 2045.8h0M573.9 2055.3h0M592.8 2037.1h0M572.1 2033.3h0M587.1 2022.7h0M583.1 2042.1h0M553.6 2046.8h0M558.1 2054.0h0M569.0 2053.7h0M599.5 2037.3h0M574.3 2062.0h0M547.1 2065.7h0M558.5 2063.9h0M569.3 2044.2h0M608.8 2015.1h0M594.6 2042.3h0M550.5 2048.1h0M582.6 2056.9h0M610.1 2036.5h0M581.0 2036.9h0M585.5 2029.4h0M552.7 2044.1h0M594.9 2036.5h0M582.4 2042.7h0M554.4 2043.5h0M584.7 2048.3h0M581.5 2035.7h0M577.5 2048.4h0M559.1 2011.8h0M572.2 2047.0h0M557.8 2057.7h0M557.4 2049.4h0M544.5 2048.4h0M598.2 2036.8h0M589.3 2035.0h0M609.4 2008.5h0M556.6 2056.4h0M567.0 2047.0h0M607.1 2030.5h0M587.6 2034.9h0M579.1 2040.1h0M578.9 2051.6h0M536.4 2054.8h0M578.5 2045.7h0M558.3 2045.8h0M599.4 2050.5h0M537.6 2035.3h0M549.9 2054.1h0M612.1 2050.2h0M566.2 2062.4h0M546.9 2074.8h0M557.8 2056.7h0M542.3 2058.3h0M567.1 2037.4h0M568.3 2044.9h0M576.9 2035.1h0M560.9 2055.1h0M579.4 2060.1h0M565.8 2056.9h0M551.9 2051.4h0M571.2 2051.8h0M554.9 2051.2h0M596.4 2049.9h0M613.4 2038.9h0M553.4 2062.5h0M595.8 2047.0h0M596.9 2032.1h0M550.2 2071.6h0M599.1 2045.2h0M570.4 2042.6h0M581.1 2033.4h0M567.2 2047.3h0M553.5 2054.6h0M558.5 2064.3h0M589.1 2035.0h0M569.3 2043.1h0M575.5 2034.1h0M604.4 2039.6h0M575.7 2040.5h0M556.3 2062.8h0M586.0 2056.5h0M608.0 2030.7h0M575.4 2032.2h0M604.3 2034.3h0M562.8 2051.4h0M595.8 2039.6h0M560.7 2034.7h0M586.7 2040.7h0M583.2 2055.5h0M583.4 2036.7h0M528.6 2068.8h0M524.1 2063.0h0M593.0 2061.4h0M567.2 2069.1h0M578.3 2025.2h0M563.8 2048.2h0M571.3 2034.1h0M588.7 2052.4h0M543.5 2042.4h0M548.1 2057.2h0M581.1 2040.2h0M572.5 2035.1h0M602.8 2034.0h0M554.1 2051.3h0M575.1 2040.2h0M595.8 2050.8h0M554.6 2060.9h0M610.4 2038.5h0M534.9 2061.8h0M585.2 2039.9h0M552.6 2048.2h0M573.9 2053.1h0M587.9 2033.1h0M602.2 2026.0h0M586.1 2026.3h0" stroke="#38383a" stroke-opacity="0.52" stroke-width="1.9" stroke-linecap="round" fill="none"/>
<path d="M563.2 2039.0h0M600.3 2025.7h0M591.6 2053.1h0M552.1 2041.5h0M559.4 2064.8h0M587.4 2043.4h0M563.6 2052.9h0M564.6 2046.7h0M586.5 2034.0h0M561.9 2027.2h0M567.2 2047.2h0M583.6 2044.7h0M599.2 2010.9h0M561.8 2056.4h0M583.8 2031.6h0M573.7 2047.4h0M568.5 2057.0h0M568.8 2033.2h0M589.8 2028.1h0M550.1 2068.8h0M570.9 2057.3h0M570.5 2048.1h0M609.1 2005.0h0M578.7 2048.5h0M537.1 2041.1h0M563.6 2049.7h0M583.8 2050.8h0M570.7 2037.9h0M566.3 2050.7h0M543.6 2071.1h0M554.2 2027.3h0M594.6 2042.8h0M582.7 2039.0h0M580.5 2043.6h0M591.5 2050.3h0M554.3 2037.2h0M561.9 2068.9h0M570.5 2055.9h0M586.0 2033.7h0M592.2 2053.8h0M572.7 2030.1h0M585.3 2030.2h0M575.8 2054.0h0M572.8 2037.1h0M595.3 2037.8h0M559.4 2057.1h0M576.9 2053.6h0M566.1 2033.2h0M577.9 2036.9h0M595.5 2030.5h0M593.0 2045.3h0M557.6 2050.8h0M542.3 2058.1h0M572.8 2039.1h0M550.5 2057.7h0M635.6 2002.2h0M623.0 2041.1h0M555.1 2019.2h0M527.6 2061.6h0M559.7 2038.8h0M577.4 2057.3h0M552.5 2054.0h0M610.8 2023.0h0M593.6 2046.3h0M586.8 2056.3h0M557.5 2038.9h0M559.9 2059.6h0M585.4 2064.8h0M595.0 2049.2h0M539.5 2048.2h0M615.9 2052.4h0M571.2 2047.6h0M568.9 2057.4h0M580.3 2036.9h0M624.4 2016.2h0M568.4 2055.5h0M567.5 2046.8h0M574.7 2055.3h0M581.4 2030.5h0M580.2 2037.4h0M560.8 2047.9h0M550.1 2067.0h0M594.6 2047.0h0M582.0 2060.3h0M576.1 2065.7h0M584.7 2035.6h0M611.6 2040.3h0M572.1 2046.5h0M560.2 2051.0h0M584.4 2035.7h0M549.6 2065.9h0M607.6 2023.9h0M581.4 2050.3h0M572.4 2031.7h0M588.1 2046.8h0M564.6 2043.4h0M556.1 2041.5h0M571.6 2028.6h0M569.2 2056.0h0M580.7 2051.8h0M561.2 2040.9h0M581.9 2043.2h0M548.8 2055.5h0M566.0 2043.6h0M518.8 2056.4h0M567.7 2050.5h0M574.5 2045.7h0M603.4 2020.8h0M591.4 2061.0h0M615.0 2036.7h0M600.3 2059.5h0M613.4 2054.6h0M616.7 2038.5h0M587.4 2040.2h0M573.5 2045.5h0M595.5 2027.8h0M571.1 2048.5h0M579.7 2046.9h0M570.6 2063.1h0M594.0 2050.3h0M608.1 2030.6h0M566.3 2054.0h0M595.5 2051.9h0M555.2 2050.5h0M604.8 2036.9h0M616.1 2038.7h0M565.3 2055.9h0M589.9 2029.9h0M554.6 2066.4h0M581.7 2039.4h0M555.0 2057.8h0M556.3 2052.1h0M557.4 2057.0h0M604.1 2040.7h0M562.9 2043.5h0M560.2 2038.5h0M582.3 2032.9h0M550.3 2051.7h0M588.2 2042.2h0M577.2 2031.7h0M550.5 2068.5h0M577.4 2033.7h0M569.2 2061.5h0M561.8 2058.9h0M620.3 2035.3h0M554.4 2060.3h0M559.4 2047.9h0M552.5 2056.3h0M587.0 2044.5h0M581.0 2035.7h0" stroke="#38383a" stroke-opacity="0.52" stroke-width="1.9" stroke-linecap="round" fill="none"/>
<path d="M443 1889.4H446.3M443 1952.1H446.3M443 2021.1H446.3M443 1941.1H446.3M443 2008.5H446.3M443 1933.3H446.3M443 1999.5H446.3M441.1 1927.2H446.3M441.1 1992.6H446.3M443 1922.2H446.3M443 1986.9H446.3M443 1918H446.3M443 1982.1H446.3M443 1914.4H446.3M443 1977.9H446.3M443 1911.2H446.3M443 1974.3H446.3M443 2075.8H446.3M443 2095.4H446.3M443 2071.4H446.3M443 2099.9H446.3M443 2067.1H446.3M443 2104.2H446.3M441.1 2062.9H446.3M441.1 2108.5H446.3M443 2058.8H446.3M443 2112.7H446.3M443 2054.7H446.3M443 2116.8H446.3M443 2050.7H446.3M443 2120.9H446.3M443 2046.7H446.3M443 2124.9H446.3" stroke="#4a4a4c" stroke-width="1.7" fill="none"/>
<path d="M439.1 1908.3H446.3M439.1 1971H446.3M439.1 2042.7H446.3M439.1 2128.9H446.3" stroke="#3c3c3e" stroke-width="2.1" fill="none"/>
<path d="M438.7 2079.3H446.3M440.1 2080.2H446.3M438.1 2081.1H446.3M440.7 2082H446.3M438.7 2082.9H446.3M440.1 2083.8H446.3M438.1 2084.7H446.3M440.7 2085.6H446.3M438.7 2086.5H446.3M440.1 2087.4H446.3M438.1 2088.3H446.3M440.7 2089.2H446.3M438.7 2090.1H446.3M440.1 2091H446.3M438.1 2091.9H446.3" stroke="#1f1f21" stroke-width="1.1" fill="none"/>
<path d="M457.4 2147.2V2151.4M467.3 2147.2V2151.4M477.2 2147.2V2151.4M487.1 2147.2V2151.4M506.9 2147.2V2151.4M516.7 2147.2V2151.4M526.6 2147.2V2151.4M536.5 2147.2V2151.4M556.3 2147.2V2151.4M566.2 2147.2V2151.4M576.1 2147.2V2151.4M586 2147.2V2151.4M605.8 2147.2V2151.4M615.7 2147.2V2151.4M625.6 2147.2V2151.4M635.4 2147.2V2151.4M655.2 2147.2V2151.4M665.1 2147.2V2151.4M675 2147.2V2151.4M684.9 2147.2V2151.4M704.7 2147.2V2151.4" stroke="#555557" stroke-width="1.5" fill="none"/>
<path d="M447.5 2147.2V2154.2M497 2147.2V2154.2M546.4 2147.2V2154.2M595.9 2147.2V2154.2M645.3 2147.2V2154.2M694.8 2147.2V2154.2" stroke="#4a4a4c" stroke-width="2.1" fill="none"/>
<path d="M449 1884.8V2049.7H704.4" stroke="#707173" stroke-width="1.5" fill="none"/>
<path d="M704.4 1884.8V2050.5" stroke="#505052" stroke-width="2.1" fill="none"/>
<rect x="446.3" y="1883.7" width="262.3" height="263.5" stroke="#707173" stroke-width="1.6" fill="none"/>
<text x="434.8" y="1913" font-size="10.3" text-anchor="end" class="t">10<tspan dy="-4" font-size="8.4">5</tspan></text>
<text x="434.8" y="1975.7" font-size="10.3" text-anchor="end" class="t">10<tspan dy="-4" font-size="8.4">4</tspan></text>
<text x="434.8" y="2047.4" font-size="10.3" text-anchor="end" class="t">10<tspan dy="-4" font-size="8.4">3</tspan></text>
<text x="434.6" y="2090.3" font-size="10.3" text-anchor="end" class="t">0</text>
<text x="437" y="2133.6" font-size="10.3" text-anchor="end" class="t">−10<tspan dy="-4" font-size="8.4">3</tspan></text>
<text x="446.5" y="2165.7" font-size="10.4" text-anchor="middle" class="t">0</text>
<text x="496" y="2165.7" font-size="10.4" text-anchor="middle" class="t">50K</text>
<text x="545.4" y="2165.7" font-size="10.4" text-anchor="middle" class="t">100K</text>
<text x="594.9" y="2165.7" font-size="10.4" text-anchor="middle" class="t">150K</text>
<text x="644.3" y="2165.7" font-size="10.4" text-anchor="middle" class="t">200K</text>
<text x="693.8" y="2165.7" font-size="10.4" text-anchor="middle" class="t">250K</text>
<text transform="translate(575.8 1875.7) scale(1 1.01)" font-size="24.8" text-anchor="middle">LR 1:1</text>
<text transform="translate(691.8 1915.5) scale(1 1.03)" font-size="20.5" text-anchor="end" class="p">68%</text>
<path d="M76.6 1895.5V2181H742.1" fill="none" stroke-width="2.3" stroke-linejoin="miter"/>
<path d="M76.6 1873.3L64.8 1896.5L88.4 1896.5Z"/>
<path d="M764.5 2181L741.1 2169.2L741.1 2192.8Z"/>
<text transform="translate(-0.3 1820.9) scale(1 1.02)" font-size="42">j</text>
<text transform="translate(48 2019.5) rotate(-90) scale(1 1.045)" font-size="25" text-anchor="middle" letter-spacing="0.9">TGF-<tspan class="g">β</tspan></text>
<text transform="translate(423.3 2212) scale(1 1.045)" font-size="25" text-anchor="middle">FSC</text>
<rect x="967.4" y="374.7" width="45.2" height="9.1" fill="#ffffff" stroke-width="3.4"/>
<rect x="1040.8" y="289.7" width="45.2" height="94.1" fill="#d8d9da" stroke-width="3.4"/>
<rect x="1113.8" y="215.4" width="45.2" height="168.4" fill="#b0b1b4" stroke-width="3.4"/>
<rect x="1186.7" y="80.7" width="45.2" height="303.1" fill="#231f20" stroke-width="3.4"/>
<g fill="#fff" stroke-width="3.00"><circle cx="984.9" cy="357.4" r="7.95"/><circle cx="995.7" cy="356" r="7.95"/><circle cx="984.3" cy="376.5" r="7.95"/><circle cx="973.8" cy="380.9" r="7.95"/><circle cx="995.2" cy="381.7" r="7.95"/><circle cx="1006.9" cy="378.8" r="7.95"/><circle cx="1068.3" cy="85.8" r="7.95"/><circle cx="1058.1" cy="79" r="7.95"/><circle cx="1062.5" cy="348.7" r="7.95"/><circle cx="1056.6" cy="372.4" r="7.95"/><circle cx="1079.2" cy="373.5" r="7.95"/><circle cx="1068.3" cy="374.1" r="7.95"/><circle cx="1046.4" cy="378.8" r="7.95"/><circle cx="1119" cy="74.6" r="7.95"/><circle cx="1151.8" cy="76.1" r="7.95"/><circle cx="1135.7" cy="206.4" r="7.95"/><circle cx="1119" cy="270.2" r="7.95"/><circle cx="1151.8" cy="266.6" r="7.95"/><circle cx="1135.7" cy="289" r="7.95"/><circle cx="1135.7" cy="310.9" r="7.95"/><circle cx="1191.3" cy="82.6" r="7.95"/><circle cx="1198.6" cy="71.1" r="7.95"/><circle cx="1211.5" cy="72" r="7.95"/><circle cx="1205" cy="76.1" r="7.95"/><circle cx="1225" cy="71.7" r="7.95"/><circle cx="1218.2" cy="70.3" r="7.95"/><circle cx="1218.2" cy="87.2" r="7.95"/></g>
<path d="M928.5 68.8H941.5V383.8H1258.6" fill="none" stroke-width="3.2" stroke-linejoin="miter"/>
<path d="M928.5 383.8H941.5" fill="none" stroke-width="3.2"/>
<path d="M928.5 131.8H941.5M928.5 194.8H941.5M928.5 257.8H941.5M928.5 320.8H941.5M989.3 383.8V396.4M1062.3 383.8V396.4M1135.5 383.8V396.4M1208.6 383.8V396.4" fill="none" stroke-width="3.2"/>
<text transform="translate(916.7 78.3) scale(1 1.045)" font-size="25" text-anchor="end">100</text>
<text transform="translate(916.7 141.3) scale(1 1.045)" font-size="25" text-anchor="end">80</text>
<text transform="translate(916.7 204.3) scale(1 1.045)" font-size="25" text-anchor="end">60</text>
<text transform="translate(916.7 267.3) scale(1 1.045)" font-size="25" text-anchor="end">40</text>
<text transform="translate(916.7 330.3) scale(1 1.045)" font-size="25" text-anchor="end">20</text>
<text transform="translate(916.7 393.3) scale(1 1.045)" font-size="25" text-anchor="end">0</text>
<text transform="translate(998.5 423.8) rotate(-45) scale(1 1.045)" font-size="24.5" text-anchor="end">ctrl</text>
<text transform="translate(1071.5 421.4) rotate(-45) scale(1 1.045)" font-size="24.5" text-anchor="end">LR MOI 1:0:1</text>
<text transform="translate(1147.7 422.4) rotate(-45) scale(1 1.045)" font-size="24.5" text-anchor="end">LR MOI 1:1</text>
<text transform="translate(1220 421.6) rotate(-45) scale(1 1.045)" font-size="24.5" text-anchor="end">LPS</text>
<path d="M989.3 337V32.4H1135.4V56" fill="none" stroke-width="3.4" stroke-linejoin="miter"/>
<text x="1061.7" y="23.1" font-size="31" text-anchor="middle" class="s">*</text>
<text transform="translate(790.1 33.3) scale(1 1.02)" font-size="42">b</text>
<text transform="translate(812.6 226.5) rotate(-90) scale(1 1.045)" font-size="25" text-anchor="middle">IL-1b+ cells</text>
<text transform="translate(842.5 223.9) rotate(-90) scale(1 1.045)" font-size="25" text-anchor="middle">[% of monocytes]</text>
<rect x="1513.4" y="189.1" width="46.2" height="194.4" fill="#ffffff" stroke-width="3.4"/>
<rect x="1588.5" y="143.1" width="46.2" height="240.4" fill="#d8d9da" stroke-width="3.4"/>
<rect x="1663.3" y="120.7" width="46.2" height="262.8" fill="#b0b1b4" stroke-width="3.4"/>
<rect x="1738.1" y="89.5" width="46.2" height="294" fill="#231f20" stroke-width="3.4"/>
<g fill="#fff" stroke-width="3.08"><circle cx="1519.6" cy="192.3" r="8.16"/><circle cx="1528" cy="183.5" r="8.16"/><circle cx="1536.2" cy="190.3" r="8.16"/><circle cx="1545" cy="184.4" r="8.16"/><circle cx="1553.2" cy="175.6" r="8.16"/><circle cx="1553.2" cy="194.7" r="8.16"/><circle cx="1615.9" cy="106.3" r="8.16"/><circle cx="1607.4" cy="102.5" r="8.16"/><circle cx="1610.9" cy="186.5" r="8.16"/><circle cx="1594.8" cy="186.8" r="8.16"/><circle cx="1603" cy="175.6" r="8.16"/><circle cx="1619.7" cy="184.4" r="8.16"/><circle cx="1628.4" cy="188.2" r="8.16"/><circle cx="1681.1" cy="85.5" r="8.16"/><circle cx="1691.4" cy="84.3" r="8.16"/><circle cx="1670" cy="139.9" r="8.16"/><circle cx="1680.6" cy="151.6" r="8.16"/><circle cx="1691.4" cy="157.5" r="8.16"/><circle cx="1703.7" cy="151.3" r="8.16"/><circle cx="1670" cy="161" r="8.16"/><circle cx="1744.7" cy="77" r="8.16"/><circle cx="1752.9" cy="86.4" r="8.16"/><circle cx="1761.6" cy="81.4" r="8.16"/><circle cx="1778.3" cy="83.4" r="8.16"/><circle cx="1769.6" cy="84.9" r="8.16"/><circle cx="1769.6" cy="102.5" r="8.16"/><circle cx="1752.9" cy="111.2" r="8.16"/></g>
<path d="M1473.3 59.4H1486.8V383.5H1812.9" fill="none" stroke-width="3.2" stroke-linejoin="miter"/>
<path d="M1473.3 383.5H1486.8" fill="none" stroke-width="3.2"/>
<path d="M1473.3 140.4H1486.8M1473.3 221.5H1486.8M1473.3 302.5H1486.8M1536 383.5V397.5M1610.8 383.5V397.5M1685.8 383.5V397.5M1761 383.5V397.5" fill="none" stroke-width="3.2"/>
<text transform="translate(1461.5 68.9) scale(1 1.045)" font-size="25" text-anchor="end">10,000</text>
<text transform="translate(1461.5 149.9) scale(1 1.045)" font-size="25" text-anchor="end">1000</text>
<text transform="translate(1461.5 231) scale(1 1.045)" font-size="25" text-anchor="end">100</text>
<text transform="translate(1461.5 312) scale(1 1.045)" font-size="25" text-anchor="end">10</text>
<text transform="translate(1461.5 393) scale(1 1.045)" font-size="25" text-anchor="end">1</text>
<text transform="translate(1546.8 421.3) rotate(-45) scale(1 1.045)" font-size="24.5" text-anchor="end">ctrl</text>
<text transform="translate(1620.4 418.9) rotate(-45) scale(1 1.045)" font-size="24.5" text-anchor="end">LR MOI 1:0:1</text>
<text transform="translate(1691.8 418.9) rotate(-45) scale(1 1.045)" font-size="24.5" text-anchor="end">LR MOI 1:1</text>
<text transform="translate(1770 419.7) rotate(-45) scale(1 1.045)" font-size="24.5" text-anchor="end">LPS</text>
<path d="M1536.2 156.6V38.8H1686.2V66.2" fill="none" stroke-width="3.4" stroke-linejoin="miter"/>
<text x="1611.3" y="28.9" font-size="34" text-anchor="middle" class="s">*</text>
<text transform="translate(1328.9 33.3) scale(1 1.02)" font-size="42">c</text>
<text transform="translate(1351.5 221.2) rotate(-90) scale(1 1.045)" font-size="25" text-anchor="middle">MFI IL-1<tspan class="g">β</tspan> [on monocytes]</text>
<rect x="966.3" y="914.1" width="43.8" height="67.6" fill="#ffffff" stroke-width="3.4"/>
<rect x="1036.1" y="848.1" width="43.8" height="133.6" fill="#d8d9da" stroke-width="3.4"/>
<rect x="1105.5" y="763.7" width="43.8" height="218" fill="#b0b1b4" stroke-width="3.4"/>
<rect x="1175" y="682.7" width="43.8" height="299" fill="#231f20" stroke-width="3.4"/>
<g fill="#fff" stroke-width="2.86"><circle cx="987.8" cy="845" r="7.59"/><circle cx="987.8" cy="904.2" r="7.59"/><circle cx="972.3" cy="920.8" r="7.59"/><circle cx="1004" cy="927" r="7.59"/><circle cx="987.8" cy="963.6" r="7.59"/><circle cx="1042" cy="681.6" r="7.59"/><circle cx="1073.3" cy="687.7" r="7.59"/><circle cx="1057.5" cy="871.3" r="7.59"/><circle cx="1042" cy="899.8" r="7.59"/><circle cx="1073.6" cy="899.2" r="7.59"/><circle cx="1057.5" cy="927" r="7.59"/><circle cx="1057.5" cy="952.8" r="7.59"/><circle cx="1111.4" cy="681" r="7.59"/><circle cx="1143" cy="681" r="7.59"/><circle cx="1127.2" cy="711.1" r="7.59"/><circle cx="1111.4" cy="740.4" r="7.59"/><circle cx="1143.3" cy="743.3" r="7.59"/><circle cx="1127.2" cy="773.2" r="7.59"/><circle cx="1127.2" cy="825.9" r="7.59"/><circle cx="1127.2" cy="932.8" r="7.59"/><circle cx="1194.6" cy="679.9" r="7.59"/><circle cx="1199.5" cy="683" r="7.59"/><circle cx="1203.6" cy="680.3" r="7.59"/><circle cx="1206" cy="680.9" r="7.59"/><circle cx="1187" cy="679.6" r="7.59"/><circle cx="1181.5" cy="680.7" r="7.59"/><circle cx="1213" cy="680.7" r="7.59"/></g>
<path d="M928.5 679.5H941V981.7H1245.5" fill="none" stroke-width="3.2" stroke-linejoin="miter"/>
<path d="M928.5 981.7H941" fill="none" stroke-width="3.2"/>
<path d="M928.5 739.9H941M928.5 800.4H941M928.5 860.8H941M928.5 921.3H941M987.5 981.7V994.4M1057.5 981.7V994.4M1127.2 981.7V994.4M1196.8 981.7V994.4" fill="none" stroke-width="3.2"/>
<text transform="translate(916.7 689) scale(1 1.045)" font-size="25" text-anchor="end">100</text>
<text transform="translate(916.7 749.4) scale(1 1.045)" font-size="25" text-anchor="end">80</text>
<text transform="translate(916.7 809.9) scale(1 1.045)" font-size="25" text-anchor="end">60</text>
<text transform="translate(916.7 870.3) scale(1 1.045)" font-size="25" text-anchor="end">40</text>
<text transform="translate(916.7 930.8) scale(1 1.045)" font-size="25" text-anchor="end">20</text>
<text transform="translate(916.7 991.2) scale(1 1.045)" font-size="25" text-anchor="end">0</text>
<text transform="translate(996.1 1020.1) rotate(-45) scale(1 1.045)" font-size="24.5" text-anchor="end">ctrl</text>
<text transform="translate(1065.9 1017.5) rotate(-45) scale(1 1.045)" font-size="24.5" text-anchor="end">LR MOI 1:0:1</text>
<text transform="translate(1138.6 1017.5) rotate(-45) scale(1 1.045)" font-size="24.5" text-anchor="end">LR MOI 1:1</text>
<text transform="translate(1212.4 1019.3) rotate(-45) scale(1 1.045)" font-size="24.5" text-anchor="end">LPS</text>
<path d="M987.8 826V621.6H1127.5V661.7" fill="none" stroke-width="3.4" stroke-linejoin="miter"/>
<text x="1057.3" y="611.2" font-size="29.5" text-anchor="middle" class="s">*</text>
<text transform="translate(790.1 633.4) scale(1 1.02)" font-size="42">e</text>
<text transform="translate(812.5 829.1) rotate(-90) scale(1 1.045)" font-size="25" text-anchor="middle">IL-8+ cells</text>
<text transform="translate(842 825.6) rotate(-90) scale(1 1.045)" font-size="25" text-anchor="middle">[% of monocytes]</text>
<rect x="1512.6" y="805.7" width="45.8" height="176.9" fill="#ffffff" stroke-width="3.4"/>
<rect x="1586.9" y="730.4" width="45.8" height="252.2" fill="#d8d9da" stroke-width="3.4"/>
<rect x="1660.9" y="720.7" width="45.8" height="261.9" fill="#b0b1b4" stroke-width="3.4"/>
<rect x="1735.3" y="690.7" width="45.8" height="291.9" fill="#231f20" stroke-width="3.4"/>
<g fill="#fff" stroke-width="3.04"><circle cx="1535.4" cy="784.3" r="8.07"/><circle cx="1518.7" cy="801.6" r="8.07"/><circle cx="1535.4" cy="804.8" r="8.07"/><circle cx="1552.3" cy="806.9" r="8.07"/><circle cx="1518.7" cy="820.6" r="8.07"/><circle cx="1603.6" cy="696.5" r="8.07"/><circle cx="1614.7" cy="692.1" r="8.07"/><circle cx="1604.2" cy="797.5" r="8.07"/><circle cx="1592.7" cy="798.7" r="8.07"/><circle cx="1614.7" cy="805.4" r="8.07"/><circle cx="1626.1" cy="803.4" r="8.07"/><circle cx="1592.7" cy="815" r="8.07"/><circle cx="1667.1" cy="681.9" r="8.07"/><circle cx="1683.8" cy="688.9" r="8.07"/><circle cx="1683.8" cy="733.1" r="8.07"/><circle cx="1667.1" cy="755" r="8.07"/><circle cx="1700.8" cy="756.5" r="8.07"/><circle cx="1683.8" cy="769.7" r="8.07"/><circle cx="1683.8" cy="787.8" r="8.07"/><circle cx="1683.8" cy="811.8" r="8.07"/><circle cx="1741.2" cy="673.7" r="8.07"/><circle cx="1758.1" cy="675.1" r="8.07"/><circle cx="1766" cy="682.5" r="8.07"/><circle cx="1749.4" cy="684.5" r="8.07"/><circle cx="1774.8" cy="683" r="8.07"/><circle cx="1753.5" cy="708.8" r="8.07"/><circle cx="1761.6" cy="714.7" r="8.07"/><circle cx="1757.8" cy="733.7" r="8.07"/></g>
<path d="M1473.3 661.2H1486.2V982.6H1809.3" fill="none" stroke-width="3.2" stroke-linejoin="miter"/>
<path d="M1473.3 982.6H1486.2" fill="none" stroke-width="3.2"/>
<path d="M1473.3 725.5H1486.2M1473.3 789.8H1486.2M1473.3 854H1486.2M1473.3 918.3H1486.2M1534.8 982.6V996.6M1608.8 982.6V996.6M1683.5 982.6V996.6M1757.3 982.6V996.6" fill="none" stroke-width="3.2"/>
<text transform="translate(1461.5 671.1) scale(1 1.045)" font-size="25" text-anchor="end">100,000</text>
<text transform="translate(1461.5 735.4) scale(1 1.045)" font-size="25" text-anchor="end">10,000</text>
<text transform="translate(1461.5 799.7) scale(1 1.045)" font-size="25" text-anchor="end">1000</text>
<text transform="translate(1461.5 863.9) scale(1 1.045)" font-size="25" text-anchor="end">100</text>
<text transform="translate(1461.5 928.2) scale(1 1.045)" font-size="25" text-anchor="end">10</text>
<text transform="translate(1461.5 992.5) scale(1 1.045)" font-size="25" text-anchor="end">1</text>
<text transform="translate(1545.8 1020.4) rotate(-45) scale(1 1.045)" font-size="24.5" text-anchor="end">ctrl</text>
<text transform="translate(1618.8 1018) rotate(-45) scale(1 1.045)" font-size="24.5" text-anchor="end">LR MOI 1:0:1</text>
<text transform="translate(1694.3 1018) rotate(-45) scale(1 1.045)" font-size="24.5" text-anchor="end">LR MOI 1:1</text>
<text transform="translate(1769.1 1019) rotate(-45) scale(1 1.045)" font-size="24.5" text-anchor="end">LPS</text>
<path d="M1535.4 765V634.5H1684V663.7" fill="none" stroke-width="3.4" stroke-linejoin="miter"/>
<text transform="translate(1618.5 624.5) scale(1 1.045)" font-size="24" text-anchor="middle">ns</text>
<text transform="translate(1328.9 633.4) scale(1 1.02)" font-size="42">f</text>
<text transform="translate(1351.5 819.5) rotate(-90) scale(1 1.045)" font-size="25" text-anchor="middle">MFI IL-8 [on monocytes]</text>
<rect x="968.4" y="1581.7" width="48.2" height="3" fill="#ffffff" stroke-width="3.4"/>
<rect x="1046.2" y="1489.7" width="48.2" height="95" fill="#d8d9da" stroke-width="3.4"/>
<rect x="1123.4" y="1416.3" width="48.2" height="168.4" fill="#b0b1b4" stroke-width="3.4"/>
<rect x="1200.4" y="1319.4" width="48.2" height="265.3" fill="#231f20" stroke-width="3.4"/>
<g fill="#fff" stroke-width="3.16"><circle cx="984" cy="1576.5" r="8.39"/><circle cx="1001.6" cy="1561.8" r="8.39"/><circle cx="975.5" cy="1582.6" r="8.39"/><circle cx="992.8" cy="1583.2" r="8.39"/><circle cx="1010.4" cy="1583.2" r="8.39"/><circle cx="1001.6" cy="1580.3" r="8.39"/><circle cx="1069.8" cy="1311.8" r="8.39"/><circle cx="1069.8" cy="1333.5" r="8.39"/><circle cx="1087.4" cy="1554.5" r="8.39"/><circle cx="1052.8" cy="1577.6" r="8.39"/><circle cx="1069.8" cy="1570" r="8.39"/><circle cx="1087.4" cy="1574.4" r="8.39"/><circle cx="1129.8" cy="1292.8" r="8.39"/><circle cx="1164.4" cy="1286.2" r="8.39"/><circle cx="1147.4" cy="1422.5" r="8.39"/><circle cx="1147.4" cy="1474.3" r="8.39"/><circle cx="1129.8" cy="1502.1" r="8.39"/><circle cx="1164.4" cy="1500.6" r="8.39"/><circle cx="1206.8" cy="1293.1" r="8.39"/><circle cx="1224.1" cy="1301.6" r="8.39"/><circle cx="1242" cy="1298.7" r="8.39"/><circle cx="1206.8" cy="1338.2" r="8.39"/><circle cx="1224.4" cy="1336.1" r="8.39"/><circle cx="1242" cy="1338.2" r="8.39"/></g>
<path d="M927.8 1250.4H942V1584.7H1276.5" fill="none" stroke-width="3.2" stroke-linejoin="miter"/>
<path d="M927.8 1584.7H942" fill="none" stroke-width="3.2"/>
<path d="M927.8 1317.3H942M927.8 1384.1H942M927.8 1451H942M927.8 1517.8H942M992.5 1584.7V1599.5M1069.5 1584.7V1599.5M1146.8 1584.7V1599.5M1223.8 1584.7V1599.5" fill="none" stroke-width="3.2"/>
<text transform="translate(916 1260.7) scale(1 1.045)" font-size="25" text-anchor="end">100</text>
<text transform="translate(916 1327.6) scale(1 1.045)" font-size="25" text-anchor="end">80</text>
<text transform="translate(916 1394.4) scale(1 1.045)" font-size="25" text-anchor="end">60</text>
<text transform="translate(916 1461.3) scale(1 1.045)" font-size="25" text-anchor="end">40</text>
<text transform="translate(916 1528.1) scale(1 1.045)" font-size="25" text-anchor="end">20</text>
<text transform="translate(916 1595) scale(1 1.045)" font-size="25" text-anchor="end">0</text>
<text transform="translate(1007.1 1622.7) rotate(-45) scale(1 1.045)" font-size="24.5" text-anchor="end">ctrl</text>
<text transform="translate(1080.3 1621.1) rotate(-45) scale(1 1.045)" font-size="24.5" text-anchor="end">LR MOI 1:0:1</text>
<text transform="translate(1156 1620.3) rotate(-45) scale(1 1.045)" font-size="24.5" text-anchor="end">LR MOI 1:1</text>
<text transform="translate(1235.8 1622.3) rotate(-45) scale(1 1.045)" font-size="24.5" text-anchor="end">LPS</text>
<path d="M992.8 1542.2V1247H1147.4V1266.9" fill="none" stroke-width="3.4" stroke-linejoin="miter"/>
<text x="1070.3" y="1236.6" font-size="34.5" text-anchor="middle" class="s">*</text>
<text transform="translate(790.1 1232) scale(1 1.02)" font-size="42">h</text>
<text transform="translate(812.5 1417.4) rotate(-90) scale(1 1.045)" font-size="25" text-anchor="middle">TNF-<tspan class="g">α</tspan>+ cells</text>
<text transform="translate(842 1413.9) rotate(-90) scale(1 1.045)" font-size="25" text-anchor="middle">[% of monocytes]</text>
<rect x="1512.7" y="1391.4" width="47.2" height="192.8" fill="#ffffff" stroke-width="3.4"/>
<rect x="1589.8" y="1337.7" width="47.2" height="246.5" fill="#d8d9da" stroke-width="3.4"/>
<rect x="1665.3" y="1319.7" width="47.2" height="264.5" fill="#b0b1b4" stroke-width="3.4"/>
<rect x="1741" y="1310" width="47.2" height="274.2" fill="#231f20" stroke-width="3.4"/>
<g fill="#fff" stroke-width="3.11"><circle cx="1527.5" cy="1384.4" r="8.25"/><circle cx="1536.2" cy="1375.6" r="8.25"/><circle cx="1518.7" cy="1393.8" r="8.25"/><circle cx="1536.2" cy="1393.2" r="8.25"/><circle cx="1545" cy="1391.7" r="8.25"/><circle cx="1553.2" cy="1400.5" r="8.25"/><circle cx="1616.7" cy="1300.1" r="8.25"/><circle cx="1608" cy="1298.7" r="8.25"/><circle cx="1603.6" cy="1374.8" r="8.25"/><circle cx="1629" cy="1386.8" r="8.25"/><circle cx="1612.4" cy="1386.5" r="8.25"/><circle cx="1595.4" cy="1385.3" r="8.25"/><circle cx="1620.3" cy="1384.4" r="8.25"/><circle cx="1687.9" cy="1291.6" r="8.25"/><circle cx="1705.4" cy="1279.6" r="8.25"/><circle cx="1705.1" cy="1333.2" r="8.25"/><circle cx="1671.2" cy="1345.5" r="8.25"/><circle cx="1688.5" cy="1354.3" r="8.25"/><circle cx="1705.4" cy="1354.3" r="8.25"/><circle cx="1671.2" cy="1367.7" r="8.25"/><circle cx="1755.8" cy="1304.5" r="8.25"/><circle cx="1747" cy="1303" r="8.25"/><circle cx="1773" cy="1306" r="8.25"/><circle cx="1781.6" cy="1302.5" r="8.25"/><circle cx="1764" cy="1311.8" r="8.25"/><circle cx="1747" cy="1319.4" r="8.25"/><circle cx="1781.6" cy="1322.1" r="8.25"/></g>
<path d="M1473.3 1256H1486.5V1584.2H1816.5" fill="none" stroke-width="3.2" stroke-linejoin="miter"/>
<path d="M1473.3 1584.2H1486.5" fill="none" stroke-width="3.2"/>
<path d="M1473.3 1338H1486.5M1473.3 1420.1H1486.5M1473.3 1502.2H1486.5M1536 1584.2V1598.4M1611.8 1584.2V1598.4M1687.9 1584.2V1598.4M1763.7 1584.2V1598.4" fill="none" stroke-width="3.2"/>
<text transform="translate(1461.5 1266.5) scale(1 1.045)" font-size="25" text-anchor="end">10,000</text>
<text transform="translate(1461.5 1348.5) scale(1 1.045)" font-size="25" text-anchor="end">1000</text>
<text transform="translate(1461.5 1430.6) scale(1 1.045)" font-size="25" text-anchor="end">100</text>
<text transform="translate(1461.5 1512.7) scale(1 1.045)" font-size="25" text-anchor="end">10</text>
<text transform="translate(1461.5 1594.7) scale(1 1.045)" font-size="25" text-anchor="end">1</text>
<text transform="translate(1547 1622.6) rotate(-45) scale(1 1.045)" font-size="24.5" text-anchor="end">ctrl</text>
<text transform="translate(1620.4 1618.6) rotate(-45) scale(1 1.045)" font-size="24.5" text-anchor="end">LR MOI 1:0:1</text>
<text transform="translate(1697.3 1618.6) rotate(-45) scale(1 1.045)" font-size="24.5" text-anchor="end">LR MOI 1:1</text>
<text transform="translate(1778.3 1621.2) rotate(-45) scale(1 1.045)" font-size="24.5" text-anchor="end">LPS</text>
<path d="M1535.7 1355.2V1241.3H1688.5V1260" fill="none" stroke-width="3.4" stroke-linejoin="miter"/>
<text x="1612.1" y="1231.4" font-size="34" text-anchor="middle" class="s">*</text>
<text transform="translate(1328.9 1232) scale(1 1.02)" font-size="42">i</text>
<text transform="translate(1351.5 1418.3) rotate(-90) scale(1 1.045)" font-size="25" text-anchor="middle">MFI TNF-<tspan class="g">α</tspan> [on monocytes]</text>
<rect x="969.2" y="2069.4" width="47.8" height="99.5" fill="#ffffff" stroke-width="3.4"/>
<rect x="1046.8" y="2042.9" width="47.8" height="126" fill="#d8d9da" stroke-width="3.4"/>
<rect x="1124.2" y="2005.7" width="47.8" height="163.2" fill="#b0b1b4" stroke-width="3.4"/>
<rect x="1202.1" y="1973.1" width="47.8" height="195.8" fill="#231f20" stroke-width="3.4"/>
<g fill="#fff" stroke-width="3.18"><circle cx="992.8" cy="1947.7" r="8.44"/><circle cx="992.8" cy="2030.9" r="8.44"/><circle cx="975.5" cy="2084.2" r="8.44"/><circle cx="1010.7" cy="2087.7" r="8.44"/><circle cx="992.8" cy="2099.4" r="8.44"/><circle cx="992.8" cy="2151.5" r="8.44"/><circle cx="1070.4" cy="1959.4" r="8.44"/><circle cx="1070.4" cy="2011.3" r="8.44"/><circle cx="1053.1" cy="2037.3" r="8.44"/><circle cx="1088.3" cy="2034.8" r="8.44"/><circle cx="1053.1" cy="2067.2" r="8.44"/><circle cx="1088.3" cy="2083.3" r="8.44"/><circle cx="1053.1" cy="2095" r="8.44"/><circle cx="1148.3" cy="1899.1" r="8.44"/><circle cx="1148.3" cy="1941.6" r="8.44"/><circle cx="1130.7" cy="2018.6" r="8.44"/><circle cx="1165.8" cy="2019.5" r="8.44"/><circle cx="1148.3" cy="2016.5" r="8.44"/><circle cx="1148.3" cy="2047" r="8.44"/><circle cx="1148.3" cy="2086.8" r="8.44"/><circle cx="1225.9" cy="1872.1" r="8.44"/><circle cx="1208" cy="1932.2" r="8.44"/><circle cx="1225.5" cy="1936" r="8.44"/><circle cx="1243.4" cy="1947.4" r="8.44"/><circle cx="1225.5" cy="1963" r="8.44"/><circle cx="1225.5" cy="2066.4" r="8.44"/><circle cx="1225.5" cy="2085.4" r="8.44"/></g>
<path d="M927.4 1834.2H941.9V2168.9H1278.5" fill="none" stroke-width="3.2" stroke-linejoin="miter"/>
<path d="M927.4 2168.9H941.9" fill="none" stroke-width="3.2"/>
<path d="M927.4 1901.1H941.9M927.4 1968H941.9M927.4 2035H941.9M927.4 2101.9H941.9M992.8 2168.9V2183.6M1069.8 2168.9V2183.6M1148 2168.9V2183.6M1225.5 2168.9V2183.6" fill="none" stroke-width="3.2"/>
<text transform="translate(915.6 1843.7) scale(1 1.045)" font-size="25" text-anchor="end">100</text>
<text transform="translate(915.6 1910.6) scale(1 1.045)" font-size="25" text-anchor="end">80</text>
<text transform="translate(915.6 1977.5) scale(1 1.045)" font-size="25" text-anchor="end">60</text>
<text transform="translate(915.6 2044.5) scale(1 1.045)" font-size="25" text-anchor="end">40</text>
<text transform="translate(915.6 2111.4) scale(1 1.045)" font-size="25" text-anchor="end">20</text>
<text transform="translate(915.6 2178.3) scale(1 1.045)" font-size="25" text-anchor="end">0</text>
<text transform="translate(1005 2209.9) rotate(-45) scale(1 1.045)" font-size="24.5" text-anchor="end">ctrl</text>
<text transform="translate(1081.4 2207.5) rotate(-45) scale(1 1.045)" font-size="24.5" text-anchor="end">LR MOI 1:0:1</text>
<text transform="translate(1161 2206.5) rotate(-45) scale(1 1.045)" font-size="24.5" text-anchor="end">LR MOI 1:1</text>
<text transform="translate(1237.5 2208.5) rotate(-45) scale(1 1.045)" font-size="24.5" text-anchor="end">LPS</text>
<path d="M992.8 1926.4V1832.4H1148.9V1880.2" fill="none" stroke-width="3.4" stroke-linejoin="miter"/>
<text x="1070.6" y="1822.6" font-size="34.5" text-anchor="middle" class="s">*</text>
<text transform="translate(790.1 1820.9) scale(1 1.02)" font-size="42">k</text>
<text transform="translate(812.5 2001.5) rotate(-90) scale(1 1.045)" font-size="25" text-anchor="middle">TGF-<tspan class="g">β</tspan>+ cells</text>
<text transform="translate(842 1997) rotate(-90) scale(1 1.045)" font-size="25" text-anchor="middle">[% of monocytes]</text>
<rect x="1513.5" y="2017.4" width="48.6" height="151.6" fill="#ffffff" stroke-width="3.4"/>
<rect x="1591.2" y="2008" width="48.6" height="161" fill="#d8d9da" stroke-width="3.4"/>
<rect x="1669" y="1987.5" width="48.6" height="181.5" fill="#b0b1b4" stroke-width="3.4"/>
<rect x="1746.8" y="1972" width="48.6" height="197" fill="#231f20" stroke-width="3.4"/>
<g fill="#fff" stroke-width="3.18"><circle cx="1537.7" cy="1957.7" r="8.44"/><circle cx="1537.7" cy="1999.6" r="8.44"/><circle cx="1520.1" cy="2023.6" r="8.44"/><circle cx="1537.7" cy="2030.3" r="8.44"/><circle cx="1555.3" cy="2029.4" r="8.44"/><circle cx="1537.7" cy="2051.7" r="8.44"/><circle cx="1615.3" cy="1963.8" r="8.44"/><circle cx="1598.3" cy="2000.4" r="8.44"/><circle cx="1615.3" cy="1997.5" r="8.44"/><circle cx="1632.8" cy="2005.4" r="8.44"/><circle cx="1615.3" cy="2021.5" r="8.44"/><circle cx="1632.8" cy="2023.6" r="8.44"/><circle cx="1598.3" cy="2036.1" r="8.44"/><circle cx="1692.9" cy="1924.3" r="8.44"/><circle cx="1692.9" cy="1965" r="8.44"/><circle cx="1675.3" cy="1993.1" r="8.44"/><circle cx="1710.4" cy="1993.7" r="8.44"/><circle cx="1687.6" cy="1990.8" r="8.44"/><circle cx="1698.1" cy="2006.9" r="8.44"/><circle cx="1687.6" cy="2022.4" r="8.44"/><circle cx="1770.4" cy="1907.3" r="8.44"/><circle cx="1753.7" cy="1966.8" r="8.44"/><circle cx="1770.4" cy="1961.5" r="8.44"/><circle cx="1788.6" cy="1956.5" r="8.44"/><circle cx="1788.6" cy="1973.2" r="8.44"/><circle cx="1762.2" cy="2016.5" r="8.44"/><circle cx="1779.2" cy="2012.7" r="8.44"/></g>
<path d="M1472.4 1833.3H1486.5V2169H1826" fill="none" stroke-width="3.2" stroke-linejoin="miter"/>
<path d="M1472.4 2169H1486.5" fill="none" stroke-width="3.2"/>
<path d="M1472.4 1945.1H1486.5M1472.4 2057H1486.5M1537.1 2169V2184.3M1614.7 2169V2184.3M1692.3 2169V2184.3M1769.8 2169V2184.3" fill="none" stroke-width="3.2"/>
<text transform="translate(1460.6 1842.8) scale(1 1.045)" font-size="25" text-anchor="end">1500</text>
<text transform="translate(1460.6 1954.6) scale(1 1.045)" font-size="25" text-anchor="end">1000</text>
<text transform="translate(1460.6 2066.5) scale(1 1.045)" font-size="25" text-anchor="end">500</text>
<text transform="translate(1460.6 2178.3) scale(1 1.045)" font-size="25" text-anchor="end">0</text>
<text transform="translate(1545.3 2210.2) rotate(-45) scale(1 1.045)" font-size="24.5" text-anchor="end">ctrl</text>
<text transform="translate(1624.3 2206) rotate(-45) scale(1 1.045)" font-size="24.5" text-anchor="end">LR MOI 1:0:1</text>
<text transform="translate(1702.3 2206) rotate(-45) scale(1 1.045)" font-size="24.5" text-anchor="end">LR MOI 1:1</text>
<text transform="translate(1782.6 2207) rotate(-45) scale(1 1.045)" font-size="24.5" text-anchor="end">LPS</text>
<path d="M1537.1 1936.6V1867.8H1693.4V1904.7" fill="none" stroke-width="3.4" stroke-linejoin="miter"/>
<text x="1617.7" y="1857.9" font-size="34" text-anchor="middle" class="s" letter-spacing="4.3">***</text>
<text transform="translate(1328.9 1820.9) scale(1 1.02)" font-size="42">l</text>
<text transform="translate(1374.4 2001.7) rotate(-90) scale(1 1.045)" font-size="25" text-anchor="middle">MFI TGF-<tspan class="g">β</tspan> [on monocytes]</text>
</g>
</svg>
</body>
</html>
